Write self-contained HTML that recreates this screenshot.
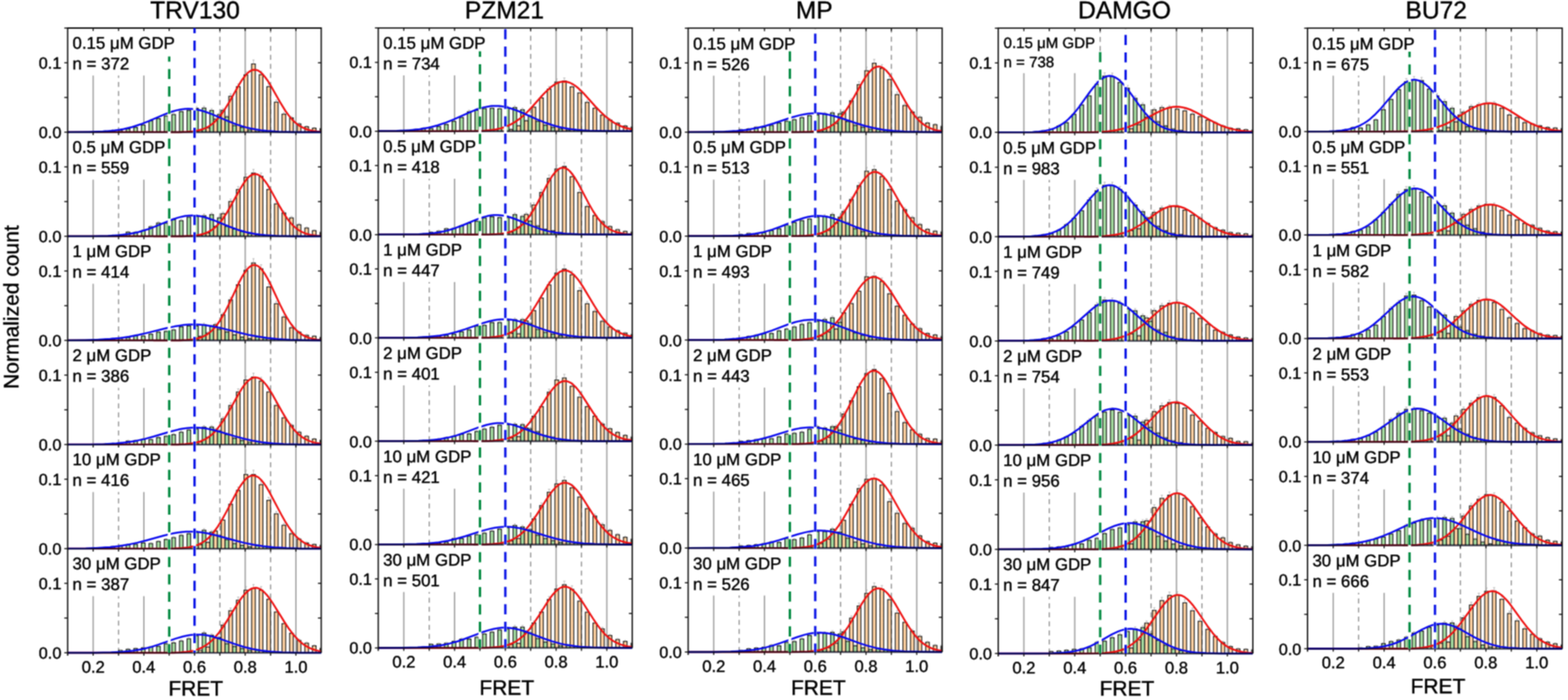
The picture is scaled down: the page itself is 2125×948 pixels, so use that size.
<!DOCTYPE html>
<html><head><meta charset="utf-8"><title>FRET histograms</title>
<style>html,body{margin:0;padding:0;background:#fff;overflow:hidden}svg{display:block}text{text-rendering:geometricPrecision;stroke:#000;stroke-width:0.5px}</style>
</head><body>
<svg width="2125" height="948" viewBox="0 0 2125 948">
<defs><filter id="soft" x="-1%" y="-2%" width="102%" height="104%" color-interpolation-filters="sRGB"><feConvolveMatrix order="3" kernelMatrix="1 2 1 2 4 2 1 2 1" divisor="16" edgeMode="duplicate" preserveAlpha="true"/></filter></defs>
<g filter="url(#soft)">
<rect x="-30" y="-30" width="2185" height="1008" fill="#fff"/>
<g><line x1="126.3" y1="38" x2="126.3" y2="179.02" stroke="#a0a0a0" stroke-width="1.8"/><line x1="160.64" y1="179.02" x2="160.64" y2="38" stroke="#8c8c8c" stroke-width="1.5" stroke-dasharray="6.75,5.5"/><line x1="194.98" y1="38" x2="194.98" y2="179.02" stroke="#a0a0a0" stroke-width="1.8"/><line x1="229.32" y1="179.02" x2="229.32" y2="38" stroke="#8c8c8c" stroke-width="1.5" stroke-dasharray="6.75,5.5"/><line x1="263.66" y1="38" x2="263.66" y2="179.02" stroke="#a0a0a0" stroke-width="1.8"/><line x1="298" y1="179.02" x2="298" y2="38" stroke="#8c8c8c" stroke-width="1.5" stroke-dasharray="6.75,5.5"/><line x1="332.34" y1="38" x2="332.34" y2="179.02" stroke="#a0a0a0" stroke-width="1.8"/><line x1="366.68" y1="179.02" x2="366.68" y2="38" stroke="#8c8c8c" stroke-width="1.5" stroke-dasharray="6.75,5.5"/><line x1="401.02" y1="38" x2="401.02" y2="179.02" stroke="#a0a0a0" stroke-width="1.8"/><rect x="92.96" y="39" width="146.58" height="63.3" fill="#fff"/><path d="M140.1 179V177.7H145.1V179zM150.4 179V176.6H155.4V179zM160.7 179V176.5H165.7V179zM171 179V174.6H176V179zM181.3 179V172.6H186.3V179zM191.6 179V169.4H196.6V179zM201.9 179V163.6H206.9V179zM212.2 179V160.6H217.2V179zM222.6 179V157.1H227.5V179zM232.9 179V155.2H237.8V179zM243.2 179V151H248.1V179zM253.5 179V149.7H258.4V179zM263.8 179V146.7H268.7V179zM274.1 179V146.4H279V179zM284.4 179V149.5H289.3V179zM294.7 179V155.2H299.6V179zM305 179V158.4H309.9V179zM315.3 179V170.1H320.2V179zM325.6 179V172.6H330.5V179zM335.9 179V175.9H340.8V179zM346.2 179V178.1H351.1V179zM356.5 179V177.3H361.4V179zM366.8 179V178.1H371.7V179z" fill="#a5dca0"/><path d="M258.6 179V178.2H263.6V179zM268.9 179V176.7H273.9V179zM279.2 179V173.2H284.2V179zM289.5 179V161.4H294.5V179zM299.8 179V149.3H304.8V179zM310.1 179V130.3H315.1V179zM320.4 179V117.4H325.4V179zM330.7 179V101.4H335.7V179zM341 179V86.5H346V179zM351.3 179V101H356.3V179zM361.6 179V117.4H366.6V179zM371.9 179V138.3H376.9V179zM382.2 179V154.5H387.2V179zM392.5 179V159.7H397.5V179zM402.8 179V167.9H407.8V179zM413.1 179V171.7H418.1V179zM423.4 179V173.6H428.4V179zM433.7 179V174.6H435.3V179z" fill="#fdd0a0"/><path d="M140.1 179V177.7H145.1V179M150.4 179V176.6H155.4V179M160.7 179V176.5H165.7V179M171 179V174.6H176V179M181.3 179V172.6H186.3V179M191.6 179V169.4H196.6V179M201.9 179V163.6H206.9V179M212.2 179V160.6H217.2V179M222.6 179V157.1H227.5V179M232.9 179V155.2H237.8V179M243.2 179V151H248.1V179M253.5 179V149.7H258.4V179M258.6 179V178.2H263.6V179M263.8 179V146.7H268.7V179M268.9 179V176.7H273.9V179M274.1 179V146.4H279V179M279.2 179V173.2H284.2V179M284.4 179V149.5H289.3V179M289.5 179V161.4H294.5V179M294.7 179V155.2H299.6V179M299.8 179V149.3H304.8V179M305 179V158.4H309.9V179M310.1 179V130.3H315.1V179M315.3 179V170.1H320.2V179M320.4 179V117.4H325.4V179M325.6 179V172.6H330.5V179M330.7 179V101.4H335.7V179M335.9 179V175.9H340.8V179M341 179V86.5H346V179M346.2 179V178.1H351.1V179M351.3 179V101H356.3V179M356.5 179V177.3H361.4V179M361.6 179V117.4H366.6V179M366.8 179V178.1H371.7V179M371.9 179V138.3H376.9V179M382.2 179V154.5H387.2V179M392.5 179V159.7H397.5V179M402.8 179V167.9H407.8V179M413.1 179V171.7H418.1V179M423.4 179V173.6H428.4V179M433.7 179V174.6H435.3V179" fill="none" stroke="#1a1a1a" stroke-width="1.25"/><path d="M142.6 177.7v-0.9m-1.5 0h3M152.9 176.6v-1m-1.5 0h3M163.2 176.5v-1m-1.5 0h3M173.5 174.6v-1.1m-1.5 0h3M183.8 172.6v-1.2m-1.5 0h3M194.1 169.4v-1.3m-1.5 0h3M204.4 163.6v-1.6m-1.5 0h3M214.7 160.6v-1.7m-1.5 0h3M225 157.1v-1.9m-1.5 0h3M235.3 155.2v-2m-1.5 0h3M245.6 151v-2.2m-1.5 0h3M255.9 149.7v-2.3m-1.5 0h3M261.1 178.2v-0.9m-1.5 0h3M266.2 146.7v-2.4m-1.5 0h3M271.4 176.7v-1m-1.5 0h3M276.5 146.4v-2.4m-1.5 0h3M281.7 173.2v-1.1m-1.5 0h3M286.8 149.5v-2.3m-1.5 0h3M292 161.4v-1.7m-1.5 0h3M297.1 155.2v-2m-1.5 0h3M302.3 149.3v-2.3m-1.5 0h3M307.4 158.4v-1.8m-1.5 0h3M312.6 130.3v-3.2m-1.5 0h3M317.7 170.1v-1.3m-1.5 0h3M322.9 117.4v-3.8m-1.5 0h3M328 172.6v-1.2m-1.5 0h3M333.2 101.4v-4.6m-1.5 0h3M338.3 175.9v-1m-1.5 0h3M343.5 86.5v-5.3m-1.5 0h3M348.7 178.1v-0.9m-1.5 0h3M353.8 101v-4.6m-1.5 0h3M359 177.3v-0.9m-1.5 0h3M364.1 117.4v-3.8m-1.5 0h3M369.3 178.1v-0.9m-1.5 0h3M374.4 138.3v-2.8m-1.5 0h3M384.7 154.5v-2m-1.5 0h3M395 159.7v-1.8m-1.5 0h3M405.3 167.9v-1.4m-1.5 0h3M415.6 171.7v-1.2m-1.5 0h3M425.9 173.6v-1.1m-1.5 0h3M434.5 174.6v-1.1m-1.5 0h3" stroke="#aaa" stroke-width="0.8" fill="none"/><polyline points="92,179 220.7,179 243.6,178.9 253.6,178.5 260.8,177.9 268,176.8 273.7,175.3 279.4,173.1 282.3,171.5 285.1,169.7 288,167.6 290.8,165.1 295.1,160.8 299.4,155.5 305.2,147.2 310.9,137.8 323.8,115 328,108.2 330.9,104.2 335.2,99.3 338.1,96.9 340.9,95.3 342.4,94.8 345.2,94.4 348.1,94.9 349.5,95.4 352.4,97.2 355.2,99.6 359.5,104.7 362.4,108.7 366.7,115.6 379.6,138.4 386.7,150 391,156 393.9,159.5 396.7,162.7 399.6,165.5 402.5,167.9 406.7,170.9 411,173.2 415.3,175 419.6,176.3 423.9,177.2 429.6,178 435.4,178.5" fill="none" stroke="#ee1010" stroke-width="2.5" stroke-linejoin="round"/><polyline points="92,179 120.6,178.7 139.2,178.1 147.8,177.4 154.9,176.7 162.1,175.7 167.8,174.7 179.2,172 190.7,168.3 200.7,164.4 223.6,154.6 233.6,151 239.3,149.4 245.1,148.2 250.8,147.5 255.1,147.3 259.4,147.5 265.1,148.1 270.8,149.2 276.5,150.8 286.6,154.4 309.4,164.1 320.9,168.6 328,170.9 333.8,172.6 339.5,173.9 346.6,175.3 353.8,176.4 361,177.2 378.1,178.4 399.6,178.9 435.4,179" fill="none" stroke="#0808ee" stroke-width="2.5" stroke-linejoin="round"/><text x="83.16" y="187.02" text-anchor="end" font-size="22" font-family='"Liberation Sans", Arial, Helvetica, sans-serif'>0.0</text><text x="83.16" y="93.01" text-anchor="end" font-size="22" font-family='"Liberation Sans", Arial, Helvetica, sans-serif'>0.1</text><text x="98.36" y="66.3" font-size="22.8" font-family='"Liberation Sans", Arial, Helvetica, sans-serif'>0.15 μM GDP</text><text x="98.36" y="94.3" font-size="22.8" font-family='"Liberation Sans", Arial, Helvetica, sans-serif'>n = 372</text><line x1="126.3" y1="179.02" x2="126.3" y2="320.04" stroke="#a0a0a0" stroke-width="1.8"/><line x1="160.64" y1="320.04" x2="160.64" y2="179.02" stroke="#8c8c8c" stroke-width="1.5" stroke-dasharray="6.75,5.5"/><line x1="194.98" y1="179.02" x2="194.98" y2="320.04" stroke="#a0a0a0" stroke-width="1.8"/><line x1="229.32" y1="320.04" x2="229.32" y2="179.02" stroke="#8c8c8c" stroke-width="1.5" stroke-dasharray="6.75,5.5"/><line x1="263.66" y1="179.02" x2="263.66" y2="320.04" stroke="#a0a0a0" stroke-width="1.8"/><line x1="298" y1="320.04" x2="298" y2="179.02" stroke="#8c8c8c" stroke-width="1.5" stroke-dasharray="6.75,5.5"/><line x1="332.34" y1="179.02" x2="332.34" y2="320.04" stroke="#a0a0a0" stroke-width="1.8"/><line x1="366.68" y1="320.04" x2="366.68" y2="179.02" stroke="#8c8c8c" stroke-width="1.5" stroke-dasharray="6.75,5.5"/><line x1="401.02" y1="179.02" x2="401.02" y2="320.04" stroke="#a0a0a0" stroke-width="1.8"/><rect x="92.96" y="180.02" width="133.9" height="63.3" fill="#fff"/><path d="M150.4 320V319H155.4V320zM160.7 320V318.2H165.7V320zM171 320V314.3H176V320zM181.3 320V314.5H186.3V320zM191.6 320V312.3H196.6V320zM201.9 320V307.2H206.9V320zM212.2 320V302H217.2V320zM222.6 320V302H227.5V320zM232.9 320V297.7H237.8V320zM243.2 320V298.8H248.1V320zM253.5 320V294.2H258.4V320zM263.8 320V292.9H268.7V320zM274.1 320V292H279V320zM284.4 320V290.7H289.3V320zM294.7 320V295.1H299.6V320zM305 320V306.5H309.9V320zM315.3 320V310.4H320.2V320zM325.6 320V313.6H330.5V320zM335.9 320V316.2H340.8V320zM346.2 320V318.2H351.1V320zM356.5 320V318.7H361.4V320z" fill="#a5dca0"/><path d="M268.9 320V318.4H273.9V320zM279.2 320V315.6H284.2V320zM289.5 320V306.5H294.5V320zM299.8 320V289.4H304.8V320zM310.1 320V272.9H315.1V320zM320.4 320V256.7H325.4V320zM330.7 320V240.2H335.7V320zM341 320V234.4H346V320zM351.3 320V238.9H356.3V320zM361.6 320V256.7H366.6V320zM371.9 320V276.1H376.9V320zM382.2 320V288.4H387.2V320zM392.5 320V295.1H397.5V320zM402.8 320V304.3H407.8V320zM413.1 320V308.9H418.1V320zM423.4 320V312.3H428.4V320zM433.7 320V314.9H435.3V320z" fill="#fdd0a0"/><path d="M150.4 320V319H155.4V320M160.7 320V318.2H165.7V320M171 320V314.3H176V320M181.3 320V314.5H186.3V320M191.6 320V312.3H196.6V320M201.9 320V307.2H206.9V320M212.2 320V302H217.2V320M222.6 320V302H227.5V320M232.9 320V297.7H237.8V320M243.2 320V298.8H248.1V320M253.5 320V294.2H258.4V320M263.8 320V292.9H268.7V320M268.9 320V318.4H273.9V320M274.1 320V292H279V320M279.2 320V315.6H284.2V320M284.4 320V290.7H289.3V320M289.5 320V306.5H294.5V320M294.7 320V295.1H299.6V320M299.8 320V289.4H304.8V320M305 320V306.5H309.9V320M310.1 320V272.9H315.1V320M315.3 320V310.4H320.2V320M320.4 320V256.7H325.4V320M325.6 320V313.6H330.5V320M330.7 320V240.2H335.7V320M335.9 320V316.2H340.8V320M341 320V234.4H346V320M346.2 320V318.2H351.1V320M351.3 320V238.9H356.3V320M356.5 320V318.7H361.4V320M361.6 320V256.7H366.6V320M371.9 320V276.1H376.9V320M382.2 320V288.4H387.2V320M392.5 320V295.1H397.5V320M402.8 320V304.3H407.8V320M413.1 320V308.9H418.1V320M423.4 320V312.3H428.4V320M433.7 320V314.9H435.3V320" fill="none" stroke="#1a1a1a" stroke-width="1.25"/><path d="M152.9 319v-0.9m-1.5 0h3M163.2 318.2v-0.9m-1.5 0h3M173.5 314.3v-1.1m-1.5 0h3M183.8 314.5v-1.1m-1.5 0h3M194.1 312.3v-1.2m-1.5 0h3M204.4 307.2v-1.5m-1.5 0h3M214.7 302v-1.7m-1.5 0h3M225 302v-1.7m-1.5 0h3M235.3 297.7v-1.9m-1.5 0h3M245.6 298.8v-1.9m-1.5 0h3M255.9 294.2v-2.1m-1.5 0h3M266.2 292.9v-2.1m-1.5 0h3M271.4 318.4v-0.9m-1.5 0h3M276.5 292v-2.2m-1.5 0h3M281.7 315.6v-1.1m-1.5 0h3M286.8 290.7v-2.3m-1.5 0h3M292 306.5v-1.5m-1.5 0h3M297.1 295.1v-2m-1.5 0h3M302.3 289.4v-2.3m-1.5 0h3M307.4 306.5v-1.5m-1.5 0h3M312.6 272.9v-3.1m-1.5 0h3M317.7 310.4v-1.3m-1.5 0h3M322.9 256.7v-3.9m-1.5 0h3M328 313.6v-1.2m-1.5 0h3M333.2 240.2v-4.7m-1.5 0h3M338.3 316.2v-1m-1.5 0h3M343.5 234.4v-5m-1.5 0h3M348.7 318.2v-0.9m-1.5 0h3M353.8 238.9v-4.7m-1.5 0h3M359 318.7v-0.9m-1.5 0h3M364.1 256.7v-3.9m-1.5 0h3M374.4 276.1v-3m-1.5 0h3M384.7 288.4v-2.4m-1.5 0h3M395 295.1v-2m-1.5 0h3M405.3 304.3v-1.6m-1.5 0h3M415.6 308.9v-1.4m-1.5 0h3M425.9 312.3v-1.2m-1.5 0h3M434.5 314.9v-1.1m-1.5 0h3" stroke="#aaa" stroke-width="0.8" fill="none"/><polyline points="92,320 225,320 247.9,319.9 257.9,319.5 265.1,318.9 270.8,318 276.5,316.5 282.3,314.2 285.1,312.6 288,310.8 290.8,308.6 293.7,306 298,301.4 302.3,295.9 308,287.2 313.7,277.2 325.2,256.3 330.9,247.1 335.2,241.7 338.1,238.9 340.9,237 342.4,236.3 345.2,235.7 348.1,236 349.5,236.5 352.4,238.1 355.2,240.6 359.5,245.7 362.4,249.9 366.7,257 379.6,280.5 385.3,290.1 389.6,296.4 392.4,300.2 395.3,303.5 398.2,306.4 401,308.9 405.3,312 409.6,314.4 413.9,316.2 418.2,317.4 423.9,318.6 429.6,319.2 435.4,319.6" fill="none" stroke="#ee1010" stroke-width="2.5" stroke-linejoin="round"/><polyline points="92,320 126.3,319.9 146.3,319.5 162.1,318.5 174.9,316.8 182.1,315.5 187.8,314.2 199.3,310.8 209.3,307.1 230.8,298.3 240.8,294.9 246.5,293.4 250.8,292.6 256.5,292 260.8,291.8 265.1,292 269.4,292.5 273.7,293.3 279.4,294.8 289.4,298.2 310.9,307 322.3,311.2 333.8,314.5 345.2,316.8 352.4,317.8 359.5,318.6 375.3,319.5 396.7,319.9 435.4,320" fill="none" stroke="#0808ee" stroke-width="2.5" stroke-linejoin="round"/><text x="83.16" y="328.04" text-anchor="end" font-size="22" font-family='"Liberation Sans", Arial, Helvetica, sans-serif'>0.0</text><text x="83.16" y="234.03" text-anchor="end" font-size="22" font-family='"Liberation Sans", Arial, Helvetica, sans-serif'>0.1</text><text x="98.36" y="207.32" font-size="22.8" font-family='"Liberation Sans", Arial, Helvetica, sans-serif'>0.5 μM GDP</text><text x="98.36" y="235.32" font-size="22.8" font-family='"Liberation Sans", Arial, Helvetica, sans-serif'>n = 559</text><line x1="126.3" y1="320.04" x2="126.3" y2="461.06" stroke="#a0a0a0" stroke-width="1.8"/><line x1="160.64" y1="461.06" x2="160.64" y2="320.04" stroke="#8c8c8c" stroke-width="1.5" stroke-dasharray="6.75,5.5"/><line x1="194.98" y1="320.04" x2="194.98" y2="461.06" stroke="#a0a0a0" stroke-width="1.8"/><line x1="229.32" y1="461.06" x2="229.32" y2="320.04" stroke="#8c8c8c" stroke-width="1.5" stroke-dasharray="6.75,5.5"/><line x1="263.66" y1="320.04" x2="263.66" y2="461.06" stroke="#a0a0a0" stroke-width="1.8"/><line x1="298" y1="461.06" x2="298" y2="320.04" stroke="#8c8c8c" stroke-width="1.5" stroke-dasharray="6.75,5.5"/><line x1="332.34" y1="320.04" x2="332.34" y2="461.06" stroke="#a0a0a0" stroke-width="1.8"/><line x1="366.68" y1="461.06" x2="366.68" y2="320.04" stroke="#8c8c8c" stroke-width="1.5" stroke-dasharray="6.75,5.5"/><line x1="401.02" y1="320.04" x2="401.02" y2="461.06" stroke="#a0a0a0" stroke-width="1.8"/><rect x="92.96" y="321.04" width="114.89" height="63.3" fill="#fff"/><path d="M129.8 461.1V460.1H134.8V461.1zM140.1 461.1V459.5H145.1V461.1zM150.4 461.1V458.6H155.4V461.1zM160.7 461.1V457.9H165.7V461.1zM171 461.1V457.2H176V461.1zM181.3 461.1V454.6H186.3V461.1zM191.6 461.1V455H196.6V461.1zM201.9 461.1V452.7H206.9V461.1zM212.2 461.1V449.8H217.2V461.1zM222.6 461.1V448.8H227.5V461.1zM232.9 461.1V446.9H237.8V461.1zM243.2 461.1V442.6H248.1V461.1zM253.5 461.1V441.3H258.4V461.1zM263.8 461.1V441.3H268.7V461.1zM274.1 461.1V439.7H279V461.1zM284.4 461.1V442.1H289.3V461.1zM294.7 461.1V446.2H299.6V461.1zM305 461.1V449.5H309.9V461.1zM315.3 461.1V453.7H320.2V461.1zM325.6 461.1V456.6H330.5V461.1zM335.9 461.1V458.5H340.8V461.1zM346.2 461.1V456.1H351.1V461.1zM356.5 461.1V457.6H361.4V461.1zM366.8 461.1V458.8H371.7V461.1zM377.1 461.1V459.6H382V461.1zM387.4 461.1V460.2H392.3V461.1z" fill="#a5dca0"/><path d="M258.6 461.1V460H263.6V461.1zM268.9 461.1V455.5H273.9V461.1zM279.2 461.1V451.1H284.2V461.1zM289.5 461.1V439.5H294.5V461.1zM299.8 461.1V426.1H304.8V461.1zM310.1 461.1V406.1H315.1V461.1zM320.4 461.1V385.6H325.4V461.1zM330.7 461.1V366.2H335.7V461.1zM341 461.1V356.2H346V461.1zM351.3 461.1V364H356.3V461.1zM361.6 461.1V388.6H366.6V461.1zM371.9 461.1V411.3H376.9V461.1zM382.2 461.1V429.4H387.2V461.1zM392.5 461.1V443.9H397.5V461.1zM402.8 461.1V449.8H407.8V461.1zM413.1 461.1V454H418.1V461.1zM423.4 461.1V455.3H428.4V461.1zM433.7 461.1V457.2H435.3V461.1z" fill="#fdd0a0"/><path d="M129.8 461.1V460.1H134.8V461.1M140.1 461.1V459.5H145.1V461.1M150.4 461.1V458.6H155.4V461.1M160.7 461.1V457.9H165.7V461.1M171 461.1V457.2H176V461.1M181.3 461.1V454.6H186.3V461.1M191.6 461.1V455H196.6V461.1M201.9 461.1V452.7H206.9V461.1M212.2 461.1V449.8H217.2V461.1M222.6 461.1V448.8H227.5V461.1M232.9 461.1V446.9H237.8V461.1M243.2 461.1V442.6H248.1V461.1M253.5 461.1V441.3H258.4V461.1M258.6 461.1V460H263.6V461.1M263.8 461.1V441.3H268.7V461.1M268.9 461.1V455.5H273.9V461.1M274.1 461.1V439.7H279V461.1M279.2 461.1V451.1H284.2V461.1M284.4 461.1V442.1H289.3V461.1M289.5 461.1V439.5H294.5V461.1M294.7 461.1V446.2H299.6V461.1M299.8 461.1V426.1H304.8V461.1M305 461.1V449.5H309.9V461.1M310.1 461.1V406.1H315.1V461.1M315.3 461.1V453.7H320.2V461.1M320.4 461.1V385.6H325.4V461.1M325.6 461.1V456.6H330.5V461.1M330.7 461.1V366.2H335.7V461.1M335.9 461.1V458.5H340.8V461.1M341 461.1V356.2H346V461.1M346.2 461.1V456.1H351.1V461.1M351.3 461.1V364H356.3V461.1M356.5 461.1V457.6H361.4V461.1M361.6 461.1V388.6H366.6V461.1M366.8 461.1V458.8H371.7V461.1M371.9 461.1V411.3H376.9V461.1M377.1 461.1V459.6H382V461.1M382.2 461.1V429.4H387.2V461.1M387.4 461.1V460.2H392.3V461.1M392.5 461.1V443.9H397.5V461.1M402.8 461.1V449.8H407.8V461.1M413.1 461.1V454H418.1V461.1M423.4 461.1V455.3H428.4V461.1M433.7 461.1V457.2H435.3V461.1" fill="none" stroke="#1a1a1a" stroke-width="1.25"/><path d="M132.3 460.1v-0.9m-1.5 0h3M142.6 459.5v-0.9m-1.5 0h3M152.9 458.6v-1m-1.5 0h3M163.2 457.9v-1m-1.5 0h3M173.5 457.2v-1m-1.5 0h3M183.8 454.6v-1.2m-1.5 0h3M194.1 455v-1.1m-1.5 0h3M204.4 452.7v-1.2m-1.5 0h3M214.7 449.8v-1.4m-1.5 0h3M225 448.8v-1.4m-1.5 0h3M235.3 446.9v-1.5m-1.5 0h3M245.6 442.6v-1.7m-1.5 0h3M255.9 441.3v-1.8m-1.5 0h3M261.1 460v-0.9m-1.5 0h3M266.2 441.3v-1.8m-1.5 0h3M271.4 455.5v-1.1m-1.5 0h3M276.5 439.7v-1.9m-1.5 0h3M281.7 451.1v-1.3m-1.5 0h3M286.8 442.1v-1.8m-1.5 0h3M292 439.5v-1.9m-1.5 0h3M297.1 446.2v-1.6m-1.5 0h3M302.3 426.1v-2.5m-1.5 0h3M307.4 449.5v-1.4m-1.5 0h3M312.6 406.1v-3.5m-1.5 0h3M317.7 453.7v-1.2m-1.5 0h3M322.9 385.6v-4.5m-1.5 0h3M328 456.6v-1.1m-1.5 0h3M333.2 366.2v-5.4m-1.5 0h3M338.3 458.5v-1m-1.5 0h3M343.5 356.2v-5.9m-1.5 0h3M348.7 456.1v-1.1m-1.5 0h3M353.8 364v-5.5m-1.5 0h3M359 457.6v-1m-1.5 0h3M364.1 388.6v-4.3m-1.5 0h3M369.3 458.8v-1m-1.5 0h3M374.4 411.3v-3.2m-1.5 0h3M379.6 459.6v-0.9m-1.5 0h3M384.7 429.4v-2.4m-1.5 0h3M389.9 460.2v-0.9m-1.5 0h3M395 443.9v-1.7m-1.5 0h3M405.3 449.8v-1.4m-1.5 0h3M415.6 454v-1.2m-1.5 0h3M425.9 455.3v-1.1m-1.5 0h3M434.5 457.2v-1m-1.5 0h3" stroke="#aaa" stroke-width="0.8" fill="none"/><polyline points="92,461.1 220.7,461.1 243.6,460.9 253.6,460.4 260.8,459.7 268,458.3 273.7,456.5 276.5,455.2 279.4,453.7 282.3,451.8 285.1,449.6 288,446.9 290.8,443.9 295.1,438.5 299.4,432.1 305.2,422 310.9,410.5 323.8,383.1 328,374.9 330.9,370.2 335.2,364.4 338.1,361.6 340.9,359.8 342.4,359.2 343.8,358.9 345.2,358.9 346.6,359.1 348.1,359.6 349.5,360.3 352.4,362.5 355.2,365.6 359.5,371.8 362.4,376.8 366.7,385.1 379.6,412.7 385.3,424 389.6,431.5 392.4,435.9 395.3,439.9 398.2,443.5 401,446.6 405.3,450.4 409.6,453.4 413.9,455.7 418.2,457.4 423.9,458.9 429.6,459.9 435.4,460.4" fill="none" stroke="#ee1010" stroke-width="2.5" stroke-linejoin="round"/><polyline points="92,461 114.9,460.7 133.5,460.1 149.2,459.1 163.5,457.7 174.9,456 187.8,453.5 199.3,450.9 225,444.5 236.5,442.1 243.6,440.9 249.4,440.1 256.5,439.6 262.2,439.4 268,439.6 275.1,440.1 280.8,440.7 288,441.9 300.9,444.6 325.2,450.7 336.6,453.4 349.5,455.8 362.4,457.7 376.7,459.2 392.4,460.2 411,460.7 435.4,461" fill="none" stroke="#0808ee" stroke-width="2.5" stroke-linejoin="round"/><text x="83.16" y="469.06" text-anchor="end" font-size="22" font-family='"Liberation Sans", Arial, Helvetica, sans-serif'>0.0</text><text x="83.16" y="375.05" text-anchor="end" font-size="22" font-family='"Liberation Sans", Arial, Helvetica, sans-serif'>0.1</text><text x="98.36" y="348.34" font-size="22.8" font-family='"Liberation Sans", Arial, Helvetica, sans-serif'>1 μM GDP</text><text x="98.36" y="376.34" font-size="22.8" font-family='"Liberation Sans", Arial, Helvetica, sans-serif'>n = 414</text><line x1="126.3" y1="461.06" x2="126.3" y2="602.08" stroke="#a0a0a0" stroke-width="1.8"/><line x1="160.64" y1="602.08" x2="160.64" y2="461.06" stroke="#8c8c8c" stroke-width="1.5" stroke-dasharray="6.75,5.5"/><line x1="194.98" y1="461.06" x2="194.98" y2="602.08" stroke="#a0a0a0" stroke-width="1.8"/><line x1="229.32" y1="602.08" x2="229.32" y2="461.06" stroke="#8c8c8c" stroke-width="1.5" stroke-dasharray="6.75,5.5"/><line x1="263.66" y1="461.06" x2="263.66" y2="602.08" stroke="#a0a0a0" stroke-width="1.8"/><line x1="298" y1="602.08" x2="298" y2="461.06" stroke="#8c8c8c" stroke-width="1.5" stroke-dasharray="6.75,5.5"/><line x1="332.34" y1="461.06" x2="332.34" y2="602.08" stroke="#a0a0a0" stroke-width="1.8"/><line x1="366.68" y1="602.08" x2="366.68" y2="461.06" stroke="#8c8c8c" stroke-width="1.5" stroke-dasharray="6.75,5.5"/><line x1="401.02" y1="461.06" x2="401.02" y2="602.08" stroke="#a0a0a0" stroke-width="1.8"/><rect x="92.96" y="462.06" width="114.89" height="63.3" fill="#fff"/><path d="M140.1 602.1V601.3H145.1V602.1zM150.4 602.1V600.7H155.4V602.1zM160.7 602.1V599.9H165.7V602.1zM171 602.1V597.3H176V602.1zM181.3 602.1V596.6H186.3V602.1zM191.6 602.1V595H196.6V602.1zM201.9 602.1V595.3H206.9V602.1zM212.2 602.1V592.7H217.2V602.1zM222.6 602.1V590.9H227.5V602.1zM232.9 602.1V588.5H237.8V602.1zM243.2 602.1V585.3H248.1V602.1zM253.5 602.1V582.3H258.4V602.1zM263.8 602.1V580.8H268.7V602.1zM274.1 602.1V578.4H279V602.1zM284.4 602.1V578.4H289.3V602.1zM294.7 602.1V583.3H299.6V602.1zM305 602.1V588.5H309.9V602.1zM315.3 602.1V593.7H320.2V602.1zM325.6 602.1V596.6H330.5V602.1zM335.9 602.1V598.9H340.8V602.1zM346.2 602.1V598.4H351.1V602.1zM356.5 602.1V599.7H361.4V602.1zM366.8 602.1V600.7H371.7V602.1zM377.1 602.1V601.3H382V602.1z" fill="#a5dca0"/><path d="M258.6 602.1V600.7H263.6V602.1zM268.9 602.1V598.6H273.9V602.1zM279.2 602.1V592.4H284.2V602.1zM289.5 602.1V582H294.5V602.1zM299.8 602.1V567.2H304.8V602.1zM310.1 602.1V549H315.1V602.1zM320.4 602.1V530.9H325.4V602.1zM330.7 602.1V514.5H335.7V602.1zM341 602.1V510.6H346V602.1zM351.3 602.1V516H356.3V602.1zM361.6 602.1V530.9H366.6V602.1zM371.9 602.1V549H376.9V602.1zM382.2 602.1V565.9H387.2V602.1zM392.5 602.1V576.2H397.5V602.1zM402.8 602.1V585.3H407.8V602.1zM413.1 602.1V590.9H418.1V602.1zM423.4 602.1V594.7H428.4V602.1zM433.7 602.1V596.6H435.3V602.1z" fill="#fdd0a0"/><path d="M140.1 602.1V601.3H145.1V602.1M150.4 602.1V600.7H155.4V602.1M160.7 602.1V599.9H165.7V602.1M171 602.1V597.3H176V602.1M181.3 602.1V596.6H186.3V602.1M191.6 602.1V595H196.6V602.1M201.9 602.1V595.3H206.9V602.1M212.2 602.1V592.7H217.2V602.1M222.6 602.1V590.9H227.5V602.1M232.9 602.1V588.5H237.8V602.1M243.2 602.1V585.3H248.1V602.1M253.5 602.1V582.3H258.4V602.1M258.6 602.1V600.7H263.6V602.1M263.8 602.1V580.8H268.7V602.1M268.9 602.1V598.6H273.9V602.1M274.1 602.1V578.4H279V602.1M279.2 602.1V592.4H284.2V602.1M284.4 602.1V578.4H289.3V602.1M289.5 602.1V582H294.5V602.1M294.7 602.1V583.3H299.6V602.1M299.8 602.1V567.2H304.8V602.1M305 602.1V588.5H309.9V602.1M310.1 602.1V549H315.1V602.1M315.3 602.1V593.7H320.2V602.1M320.4 602.1V530.9H325.4V602.1M325.6 602.1V596.6H330.5V602.1M330.7 602.1V514.5H335.7V602.1M335.9 602.1V598.9H340.8V602.1M341 602.1V510.6H346V602.1M346.2 602.1V598.4H351.1V602.1M351.3 602.1V516H356.3V602.1M356.5 602.1V599.7H361.4V602.1M361.6 602.1V530.9H366.6V602.1M366.8 602.1V600.7H371.7V602.1M371.9 602.1V549H376.9V602.1M377.1 602.1V601.3H382V602.1M382.2 602.1V565.9H387.2V602.1M392.5 602.1V576.2H397.5V602.1M402.8 602.1V585.3H407.8V602.1M413.1 602.1V590.9H418.1V602.1M423.4 602.1V594.7H428.4V602.1M433.7 602.1V596.6H435.3V602.1" fill="none" stroke="#1a1a1a" stroke-width="1.25"/><path d="M142.6 601.3v-0.9m-1.5 0h3M152.9 600.7v-0.9m-1.5 0h3M163.2 599.9v-0.9m-1.5 0h3M173.5 597.3v-1.1m-1.5 0h3M183.8 596.6v-1.1m-1.5 0h3M194.1 595v-1.2m-1.5 0h3M204.4 595.3v-1.2m-1.5 0h3M214.7 592.7v-1.3m-1.5 0h3M225 590.9v-1.4m-1.5 0h3M235.3 588.5v-1.5m-1.5 0h3M245.6 585.3v-1.7m-1.5 0h3M255.9 582.3v-1.8m-1.5 0h3M261.1 600.7v-0.9m-1.5 0h3M266.2 580.8v-1.9m-1.5 0h3M271.4 598.6v-1m-1.5 0h3M276.5 578.4v-2m-1.5 0h3M281.7 592.4v-1.3m-1.5 0h3M286.8 578.4v-2m-1.5 0h3M292 582v-1.8m-1.5 0h3M297.1 583.3v-1.7m-1.5 0h3M302.3 567.2v-2.5m-1.5 0h3M307.4 588.5v-1.5m-1.5 0h3M312.6 549v-3.4m-1.5 0h3M317.7 593.7v-1.2m-1.5 0h3M322.9 530.9v-4.3m-1.5 0h3M328 596.6v-1.1m-1.5 0h3M333.2 514.5v-5.1m-1.5 0h3M338.3 598.9v-1m-1.5 0h3M343.5 510.6v-5.2m-1.5 0h3M348.7 598.4v-1m-1.5 0h3M353.8 516v-5m-1.5 0h3M359 599.7v-1m-1.5 0h3M364.1 530.9v-4.3m-1.5 0h3M369.3 600.7v-0.9m-1.5 0h3M374.4 549v-3.4m-1.5 0h3M379.6 601.3v-0.9m-1.5 0h3M384.7 565.9v-2.6m-1.5 0h3M395 576.2v-2.1m-1.5 0h3M405.3 585.3v-1.7m-1.5 0h3M415.6 590.9v-1.4m-1.5 0h3M425.9 594.7v-1.2m-1.5 0h3M434.5 596.6v-1.1m-1.5 0h3" stroke="#aaa" stroke-width="0.8" fill="none"/><polyline points="92,602.1 216.4,602.1 240.8,601.9 250.8,601.4 259.4,600.6 266.5,599.2 272.2,597.5 278,594.9 280.8,593.2 283.7,591.3 286.6,589 289.4,586.4 293.7,581.8 299.4,574.4 305.2,565.7 310.9,555.9 323.8,532.8 328,525.9 330.9,521.8 335.2,516.8 338.1,514.2 339.5,513.2 342.4,511.8 343.8,511.3 346.6,511.1 349.5,511.7 350.9,512.2 353.8,514 356.7,516.5 361,521.5 363.8,525.5 368.1,532.3 382.4,557.9 389.6,569.8 393.9,576 396.7,579.7 399.6,583.1 402.5,586.1 405.3,588.8 409.6,592.1 412.5,593.9 416.8,596.2 421.1,597.9 425.3,599.2 429.6,600.1 435.4,600.9" fill="none" stroke="#ee1010" stroke-width="2.5" stroke-linejoin="round"/><polyline points="92,602.1 122,601.9 142,601.4 157.8,600.5 172.1,599.1 185,596.9 196.4,594.4 207.9,591.3 230.8,584.5 242.2,581.6 247.9,580.5 253.6,579.7 259.4,579.3 263.7,579.1 269.4,579.3 275.1,579.8 280.8,580.6 286.6,581.8 298,584.7 319.5,591.1 330.9,594.2 343.8,597.1 355.2,599 369.5,600.5 385.3,601.4 405.3,601.9 435.4,602.1" fill="none" stroke="#0808ee" stroke-width="2.5" stroke-linejoin="round"/><text x="83.16" y="610.08" text-anchor="end" font-size="22" font-family='"Liberation Sans", Arial, Helvetica, sans-serif'>0.0</text><text x="83.16" y="516.07" text-anchor="end" font-size="22" font-family='"Liberation Sans", Arial, Helvetica, sans-serif'>0.1</text><text x="98.36" y="489.36" font-size="22.8" font-family='"Liberation Sans", Arial, Helvetica, sans-serif'>2 μM GDP</text><text x="98.36" y="517.36" font-size="22.8" font-family='"Liberation Sans", Arial, Helvetica, sans-serif'>n = 386</text><line x1="126.3" y1="602.08" x2="126.3" y2="743.1" stroke="#a0a0a0" stroke-width="1.8"/><line x1="160.64" y1="743.1" x2="160.64" y2="602.08" stroke="#8c8c8c" stroke-width="1.5" stroke-dasharray="6.75,5.5"/><line x1="194.98" y1="602.08" x2="194.98" y2="743.1" stroke="#a0a0a0" stroke-width="1.8"/><line x1="229.32" y1="743.1" x2="229.32" y2="602.08" stroke="#8c8c8c" stroke-width="1.5" stroke-dasharray="6.75,5.5"/><line x1="263.66" y1="602.08" x2="263.66" y2="743.1" stroke="#a0a0a0" stroke-width="1.8"/><line x1="298" y1="743.1" x2="298" y2="602.08" stroke="#8c8c8c" stroke-width="1.5" stroke-dasharray="6.75,5.5"/><line x1="332.34" y1="602.08" x2="332.34" y2="743.1" stroke="#a0a0a0" stroke-width="1.8"/><line x1="366.68" y1="743.1" x2="366.68" y2="602.08" stroke="#8c8c8c" stroke-width="1.5" stroke-dasharray="6.75,5.5"/><line x1="401.02" y1="602.08" x2="401.02" y2="743.1" stroke="#a0a0a0" stroke-width="1.8"/><rect x="92.96" y="603.08" width="127.57" height="63.3" fill="#fff"/><path d="M129.8 743.1V742H134.8V743.1zM140.1 743.1V741.3H145.1V743.1zM150.4 743.1V740.3H155.4V743.1zM160.7 743.1V739.2H165.7V743.1zM171 743.1V737.9H176V743.1zM181.3 743.1V737H186.3V743.1zM191.6 743.1V735.3H196.6V743.1zM201.9 743.1V736H206.9V743.1zM212.2 743.1V733.4H217.2V743.1zM222.6 743.1V730.6H227.5V743.1zM232.9 743.1V728.2H237.8V743.1zM243.2 743.1V725H248.1V743.1zM253.5 743.1V722.8H258.4V743.1zM263.8 743.1V720.5H268.7V743.1zM274.1 743.1V718.1H279V743.1zM284.4 743.1V720.5H289.3V743.1zM294.7 743.1V725.4H299.6V743.1zM305 743.1V730.8H309.9V743.1zM315.3 743.1V736H320.2V743.1zM325.6 743.1V738.6H330.5V743.1zM335.9 743.1V740.5H340.8V743.1zM346.2 743.1V739.1H351.1V743.1zM356.5 743.1V740.4H361.4V743.1zM366.8 743.1V741.4H371.7V743.1zM377.1 743.1V742.1H382V743.1z" fill="#a5dca0"/><path d="M248.3 743.1V742.2H253.3V743.1zM258.6 743.1V740.7H263.6V743.1zM268.9 743.1V737.5H273.9V743.1zM279.2 743.1V734.7H284.2V743.1zM289.5 743.1V719.2H294.5V743.1zM299.8 743.1V704.3H304.8V743.1zM310.1 743.1V682.9H315.1V743.1zM320.4 743.1V664.1H325.4V743.1zM330.7 743.1V642.5H335.7V743.1zM341 743.1V642.5H346V743.1zM351.3 743.1V656.4H356.3V743.1zM361.6 743.1V677.5H366.6V743.1zM371.9 743.1V695.8H376.9V743.1zM382.2 743.1V711.4H387.2V743.1zM392.5 743.1V722.8H397.5V743.1zM402.8 743.1V730.2H407.8V743.1zM413.1 743.1V735.3H418.1V743.1zM423.4 743.1V737.3H428.4V743.1zM433.7 743.1V738.8H435.3V743.1z" fill="#fdd0a0"/><path d="M129.8 743.1V742H134.8V743.1M140.1 743.1V741.3H145.1V743.1M150.4 743.1V740.3H155.4V743.1M160.7 743.1V739.2H165.7V743.1M171 743.1V737.9H176V743.1M181.3 743.1V737H186.3V743.1M191.6 743.1V735.3H196.6V743.1M201.9 743.1V736H206.9V743.1M212.2 743.1V733.4H217.2V743.1M222.6 743.1V730.6H227.5V743.1M232.9 743.1V728.2H237.8V743.1M243.2 743.1V725H248.1V743.1M248.3 743.1V742.2H253.3V743.1M253.5 743.1V722.8H258.4V743.1M258.6 743.1V740.7H263.6V743.1M263.8 743.1V720.5H268.7V743.1M268.9 743.1V737.5H273.9V743.1M274.1 743.1V718.1H279V743.1M279.2 743.1V734.7H284.2V743.1M284.4 743.1V720.5H289.3V743.1M289.5 743.1V719.2H294.5V743.1M294.7 743.1V725.4H299.6V743.1M299.8 743.1V704.3H304.8V743.1M305 743.1V730.8H309.9V743.1M310.1 743.1V682.9H315.1V743.1M315.3 743.1V736H320.2V743.1M320.4 743.1V664.1H325.4V743.1M325.6 743.1V738.6H330.5V743.1M330.7 743.1V642.5H335.7V743.1M335.9 743.1V740.5H340.8V743.1M341 743.1V642.5H346V743.1M346.2 743.1V739.1H351.1V743.1M351.3 743.1V656.4H356.3V743.1M356.5 743.1V740.4H361.4V743.1M361.6 743.1V677.5H366.6V743.1M366.8 743.1V741.4H371.7V743.1M371.9 743.1V695.8H376.9V743.1M377.1 743.1V742.1H382V743.1M382.2 743.1V711.4H387.2V743.1M392.5 743.1V722.8H397.5V743.1M402.8 743.1V730.2H407.8V743.1M413.1 743.1V735.3H418.1V743.1M423.4 743.1V737.3H428.4V743.1M433.7 743.1V738.8H435.3V743.1" fill="none" stroke="#1a1a1a" stroke-width="1.25"/><path d="M132.3 742v-0.9m-1.5 0h3M142.6 741.3v-0.9m-1.5 0h3M152.9 740.3v-1m-1.5 0h3M163.2 739.2v-1m-1.5 0h3M173.5 737.9v-1.1m-1.5 0h3M183.8 737v-1.1m-1.5 0h3M194.1 735.3v-1.2m-1.5 0h3M204.4 736v-1.2m-1.5 0h3M214.7 733.4v-1.3m-1.5 0h3M225 730.6v-1.4m-1.5 0h3M235.3 728.2v-1.6m-1.5 0h3M245.6 725v-1.7m-1.5 0h3M250.8 742.2v-0.9m-1.5 0h3M255.9 722.8v-1.8m-1.5 0h3M261.1 740.7v-1m-1.5 0h3M266.2 720.5v-1.9m-1.5 0h3M271.4 737.5v-1.1m-1.5 0h3M276.5 718.1v-2m-1.5 0h3M281.7 734.7v-1.2m-1.5 0h3M286.8 720.5v-1.9m-1.5 0h3M292 719.2v-2m-1.5 0h3M297.1 725.4v-1.7m-1.5 0h3M302.3 704.3v-2.7m-1.5 0h3M307.4 730.8v-1.4m-1.5 0h3M312.6 682.9v-3.7m-1.5 0h3M317.7 736v-1.2m-1.5 0h3M322.9 664.1v-4.6m-1.5 0h3M328 738.6v-1.1m-1.5 0h3M333.2 642.5v-5.7m-1.5 0h3M338.3 740.5v-1m-1.5 0h3M343.5 642.5v-5.7m-1.5 0h3M348.7 739.1v-1m-1.5 0h3M353.8 656.4v-5m-1.5 0h3M359 740.4v-1m-1.5 0h3M364.1 677.5v-4m-1.5 0h3M369.3 741.4v-0.9m-1.5 0h3M374.4 695.8v-3.1m-1.5 0h3M379.6 742.1v-0.9m-1.5 0h3M384.7 711.4v-2.4m-1.5 0h3M395 722.8v-1.8m-1.5 0h3M405.3 730.2v-1.5m-1.5 0h3M415.6 735.3v-1.2m-1.5 0h3M425.9 737.3v-1.1m-1.5 0h3M434.5 738.8v-1.1m-1.5 0h3" stroke="#aaa" stroke-width="0.8" fill="none"/><polyline points="92,743.1 212.1,743.1 236.5,742.8 246.5,742.3 255.1,741.4 262.2,739.8 268,737.9 273.7,735.1 276.5,733.3 279.4,731.2 282.3,728.7 285.1,725.9 289.4,721 295.1,713.2 300.9,703.9 306.6,693.5 319.5,668.9 323.8,661.4 326.6,656.9 330.9,651.2 333.8,648.2 335.2,647 338.1,645.2 339.5,644.5 342.4,643.9 345.2,644.2 346.6,644.6 349.5,646.1 350.9,647.1 353.8,649.8 358.1,655.1 361,659.3 365.2,666.6 381,696.5 386.7,706.6 391,713.4 393.9,717.5 396.7,721.2 401,726.1 403.9,728.9 408.2,732.4 412.5,735.2 416.8,737.4 421.1,739 425.3,740.3 429.6,741.2 435.4,742" fill="none" stroke="#ee1010" stroke-width="2.5" stroke-linejoin="round"/><polyline points="92,743 116.3,742.7 133.5,742.1 149.2,741 162.1,739.5 173.5,737.6 186.4,734.9 197.8,732 222.2,725.3 233.6,722.6 240.8,721.3 246.5,720.6 252.2,720.1 257.9,720 263.7,720.1 269.4,720.6 275.1,721.3 282.3,722.5 293.7,725.2 319.5,732.3 330.9,735.1 343.8,737.8 356.7,739.8 371,741.3 388.1,742.3 408.2,742.9 435.4,743.1" fill="none" stroke="#0808ee" stroke-width="2.5" stroke-linejoin="round"/><text x="83.16" y="751.1" text-anchor="end" font-size="22" font-family='"Liberation Sans", Arial, Helvetica, sans-serif'>0.0</text><text x="83.16" y="657.09" text-anchor="end" font-size="22" font-family='"Liberation Sans", Arial, Helvetica, sans-serif'>0.1</text><text x="98.36" y="630.38" font-size="22.8" font-family='"Liberation Sans", Arial, Helvetica, sans-serif'>10 μM GDP</text><text x="98.36" y="658.38" font-size="22.8" font-family='"Liberation Sans", Arial, Helvetica, sans-serif'>n = 416</text><line x1="126.3" y1="743.1" x2="126.3" y2="884.12" stroke="#a0a0a0" stroke-width="1.8"/><line x1="160.64" y1="884.12" x2="160.64" y2="743.1" stroke="#8c8c8c" stroke-width="1.5" stroke-dasharray="6.75,5.5"/><line x1="194.98" y1="743.1" x2="194.98" y2="884.12" stroke="#a0a0a0" stroke-width="1.8"/><line x1="229.32" y1="884.12" x2="229.32" y2="743.1" stroke="#8c8c8c" stroke-width="1.5" stroke-dasharray="6.75,5.5"/><line x1="263.66" y1="743.1" x2="263.66" y2="884.12" stroke="#a0a0a0" stroke-width="1.8"/><line x1="298" y1="884.12" x2="298" y2="743.1" stroke="#8c8c8c" stroke-width="1.5" stroke-dasharray="6.75,5.5"/><line x1="332.34" y1="743.1" x2="332.34" y2="884.12" stroke="#a0a0a0" stroke-width="1.8"/><line x1="366.68" y1="884.12" x2="366.68" y2="743.1" stroke="#8c8c8c" stroke-width="1.5" stroke-dasharray="6.75,5.5"/><line x1="401.02" y1="743.1" x2="401.02" y2="884.12" stroke="#a0a0a0" stroke-width="1.8"/><rect x="92.96" y="744.1" width="127.57" height="63.3" fill="#fff"/><path d="M160.7 884.1V880.9H165.7V884.1zM171 884.1V879.3H176V884.1zM181.3 884.1V878.3H186.3V884.1zM191.6 884.1V877.3H196.6V884.1zM201.9 884.1V876.4H206.9V884.1zM212.2 884.1V875.4H217.2V884.1zM222.6 884.1V871.8H227.5V884.1zM232.9 884.1V870.5H237.8V884.1zM243.2 884.1V868.2H248.1V884.1zM253.5 884.1V865.1H258.4V884.1zM263.8 884.1V860.8H268.7V884.1zM274.1 884.1V857.3H279V884.1zM284.4 884.1V860.4H289.3V884.1zM294.7 884.1V863.4H299.6V884.1zM305 884.1V871.8H309.9V884.1zM315.3 884.1V875.7H320.2V884.1zM325.6 884.1V878.3H330.5V884.1zM335.9 884.1V880.9H340.8V884.1zM346.2 884.1V880.7H351.1V884.1zM356.5 884.1V882.1H361.4V884.1zM366.8 884.1V883H371.7V884.1z" fill="#a5dca0"/><path d="M248.3 884.1V883.2H253.3V884.1zM258.6 884.1V881.9H263.6V884.1zM268.9 884.1V880.9H273.9V884.1zM279.2 884.1V876.4H284.2V884.1zM289.5 884.1V864H294.5V884.1zM299.8 884.1V846.6H304.8V884.1zM310.1 884.1V827.1H315.1V884.1zM320.4 884.1V812.9H325.4V884.1zM330.7 884.1V799.3H335.7V884.1zM341 884.1V796.7H346V884.1zM351.3 884.1V799.3H356.3V884.1zM361.6 884.1V811.6H366.6V884.1zM371.9 884.1V828.8H376.9V884.1zM382.2 884.1V844.6H387.2V884.1zM392.5 884.1V857.6H397.5V884.1zM402.8 884.1V867.3H407.8V884.1zM413.1 884.1V871.2H418.1V884.1zM423.4 884.1V874.7H428.4V884.1zM433.7 884.1V878.3H435.3V884.1z" fill="#fdd0a0"/><path d="M160.7 884.1V880.9H165.7V884.1M171 884.1V879.3H176V884.1M181.3 884.1V878.3H186.3V884.1M191.6 884.1V877.3H196.6V884.1M201.9 884.1V876.4H206.9V884.1M212.2 884.1V875.4H217.2V884.1M222.6 884.1V871.8H227.5V884.1M232.9 884.1V870.5H237.8V884.1M243.2 884.1V868.2H248.1V884.1M248.3 884.1V883.2H253.3V884.1M253.5 884.1V865.1H258.4V884.1M258.6 884.1V881.9H263.6V884.1M263.8 884.1V860.8H268.7V884.1M268.9 884.1V880.9H273.9V884.1M274.1 884.1V857.3H279V884.1M279.2 884.1V876.4H284.2V884.1M284.4 884.1V860.4H289.3V884.1M289.5 884.1V864H294.5V884.1M294.7 884.1V863.4H299.6V884.1M299.8 884.1V846.6H304.8V884.1M305 884.1V871.8H309.9V884.1M310.1 884.1V827.1H315.1V884.1M315.3 884.1V875.7H320.2V884.1M320.4 884.1V812.9H325.4V884.1M325.6 884.1V878.3H330.5V884.1M330.7 884.1V799.3H335.7V884.1M335.9 884.1V880.9H340.8V884.1M341 884.1V796.7H346V884.1M346.2 884.1V880.7H351.1V884.1M351.3 884.1V799.3H356.3V884.1M356.5 884.1V882.1H361.4V884.1M361.6 884.1V811.6H366.6V884.1M366.8 884.1V883H371.7V884.1M371.9 884.1V828.8H376.9V884.1M382.2 884.1V844.6H387.2V884.1M392.5 884.1V857.6H397.5V884.1M402.8 884.1V867.3H407.8V884.1M413.1 884.1V871.2H418.1V884.1M423.4 884.1V874.7H428.4V884.1M433.7 884.1V878.3H435.3V884.1" fill="none" stroke="#1a1a1a" stroke-width="1.25"/><path d="M163.2 880.9v-1m-1.5 0h3M173.5 879.3v-1.1m-1.5 0h3M183.8 878.3v-1.1m-1.5 0h3M194.1 877.3v-1.2m-1.5 0h3M204.4 876.4v-1.2m-1.5 0h3M214.7 875.4v-1.3m-1.5 0h3M225 871.8v-1.4m-1.5 0h3M235.3 870.5v-1.5m-1.5 0h3M245.6 868.2v-1.6m-1.5 0h3M250.8 883.2v-0.9m-1.5 0h3M255.9 865.1v-1.8m-1.5 0h3M261.1 881.9v-1m-1.5 0h3M266.2 860.8v-2m-1.5 0h3M271.4 880.9v-1m-1.5 0h3M276.5 857.3v-2.1m-1.5 0h3M281.7 876.4v-1.2m-1.5 0h3M286.8 860.4v-2m-1.5 0h3M292 864v-1.8m-1.5 0h3M297.1 863.4v-1.8m-1.5 0h3M302.3 846.6v-2.6m-1.5 0h3M307.4 871.8v-1.4m-1.5 0h3M312.6 827.1v-3.6m-1.5 0h3M317.7 875.7v-1.3m-1.5 0h3M322.9 812.9v-4.3m-1.5 0h3M328 878.3v-1.1m-1.5 0h3M333.2 799.3v-4.9m-1.5 0h3M338.3 880.9v-1m-1.5 0h3M343.5 796.7v-5m-1.5 0h3M348.7 880.7v-1m-1.5 0h3M353.8 799.3v-4.9m-1.5 0h3M359 882.1v-0.9m-1.5 0h3M364.1 811.6v-4.3m-1.5 0h3M369.3 883v-0.9m-1.5 0h3M374.4 828.8v-3.5m-1.5 0h3M384.7 844.6v-2.7m-1.5 0h3M395 857.6v-2.1m-1.5 0h3M405.3 867.3v-1.7m-1.5 0h3M415.6 871.2v-1.5m-1.5 0h3M425.9 874.7v-1.3m-1.5 0h3M434.5 878.3v-1.1m-1.5 0h3" stroke="#aaa" stroke-width="0.8" fill="none"/><polyline points="92,884.1 210.7,884.1 235,883.9 245.1,883.5 253.6,882.7 260.8,881.4 268,879.4 273.7,877 279.4,873.7 285.1,869.3 290.8,863.8 296.6,857 302.3,849 308,840.2 322.3,817 326.6,810.7 329.5,807 333.8,802.3 338.1,798.8 340.9,797.2 342.4,796.7 345.2,796.2 346.6,796.1 349.5,796.6 350.9,797.1 353.8,798.6 358.1,802 362.4,806.7 365.2,810.4 369.5,816.6 385.3,842 391,850.7 395.3,856.6 398.2,860.2 403.9,866.4 406.7,869.1 411,872.5 413.9,874.4 418.2,876.9 422.5,878.8 426.8,880.3 431.1,881.4 435.4,882.2" fill="none" stroke="#ee1010" stroke-width="2.5" stroke-linejoin="round"/><polyline points="92,884.1 129.2,884 150.6,883.6 166.4,882.8 180.7,881.3 187.8,880.1 193.5,879 205,876.1 215,872.9 237.9,864.9 247.9,862 253.6,860.8 257.9,860.1 263.7,859.5 268,859.4 272.2,859.5 278,860.1 282.3,860.8 288,862.1 298,865.1 319.5,872.6 330.9,876.2 342.4,879 353.8,881.1 366.7,882.6 382.4,883.5 402.5,884 435.4,884.1" fill="none" stroke="#0808ee" stroke-width="2.5" stroke-linejoin="round"/><text x="83.16" y="892.12" text-anchor="end" font-size="22" font-family='"Liberation Sans", Arial, Helvetica, sans-serif'>0.0</text><text x="83.16" y="798.11" text-anchor="end" font-size="22" font-family='"Liberation Sans", Arial, Helvetica, sans-serif'>0.1</text><text x="98.36" y="771.4" font-size="22.8" font-family='"Liberation Sans", Arial, Helvetica, sans-serif'>30 μM GDP</text><text x="98.36" y="799.4" font-size="22.8" font-family='"Liberation Sans", Arial, Helvetica, sans-serif'>n = 387</text><line x1="91.66" y1="179.02" x2="435.36" y2="179.02" stroke="#000018" stroke-width="2.4" stroke-opacity="0.72"/><path d="M126.3 179.02v4M160.64 179.02v4M194.98 179.02v4M229.32 179.02v4M263.66 179.02v4M298 179.02v4M332.34 179.02v4M366.68 179.02v4M401.02 179.02v4M91.66 132.01h-4.5M435.36 132.01h-4.5M91.66 85.01h-4.5M435.36 85.01h-4.5M91.66 179.02h-4.5" stroke="#111" stroke-width="1.5" fill="none"/><line x1="91.66" y1="320.04" x2="435.36" y2="320.04" stroke="#000018" stroke-width="2.4" stroke-opacity="0.72"/><path d="M126.3 320.04v4M160.64 320.04v4M194.98 320.04v4M229.32 320.04v4M263.66 320.04v4M298 320.04v4M332.34 320.04v4M366.68 320.04v4M401.02 320.04v4M91.66 273.03h-4.5M435.36 273.03h-4.5M91.66 226.03h-4.5M435.36 226.03h-4.5M91.66 320.04h-4.5" stroke="#111" stroke-width="1.5" fill="none"/><line x1="91.66" y1="461.06" x2="435.36" y2="461.06" stroke="#000018" stroke-width="2.4" stroke-opacity="0.72"/><path d="M126.3 461.06v4M160.64 461.06v4M194.98 461.06v4M229.32 461.06v4M263.66 461.06v4M298 461.06v4M332.34 461.06v4M366.68 461.06v4M401.02 461.06v4M91.66 414.05h-4.5M435.36 414.05h-4.5M91.66 367.05h-4.5M435.36 367.05h-4.5M91.66 461.06h-4.5" stroke="#111" stroke-width="1.5" fill="none"/><line x1="91.66" y1="602.08" x2="435.36" y2="602.08" stroke="#000018" stroke-width="2.4" stroke-opacity="0.72"/><path d="M126.3 602.08v4M160.64 602.08v4M194.98 602.08v4M229.32 602.08v4M263.66 602.08v4M298 602.08v4M332.34 602.08v4M366.68 602.08v4M401.02 602.08v4M91.66 555.07h-4.5M435.36 555.07h-4.5M91.66 508.07h-4.5M435.36 508.07h-4.5M91.66 602.08h-4.5" stroke="#111" stroke-width="1.5" fill="none"/><line x1="91.66" y1="743.1" x2="435.36" y2="743.1" stroke="#000018" stroke-width="2.4" stroke-opacity="0.72"/><path d="M126.3 743.1v4M160.64 743.1v4M194.98 743.1v4M229.32 743.1v4M263.66 743.1v4M298 743.1v4M332.34 743.1v4M366.68 743.1v4M401.02 743.1v4M91.66 696.09h-4.5M435.36 696.09h-4.5M91.66 649.09h-4.5M435.36 649.09h-4.5M91.66 743.1h-4.5" stroke="#111" stroke-width="1.5" fill="none"/><line x1="91.66" y1="884.12" x2="435.36" y2="884.12" stroke="#000018" stroke-width="2.4" stroke-opacity="0.72"/><path d="M126.3 884.12v4M160.64 884.12v4M194.98 884.12v4M229.32 884.12v4M263.66 884.12v4M298 884.12v4M332.34 884.12v4M366.68 884.12v4M401.02 884.12v4M91.66 837.11h-4.5M435.36 837.11h-4.5M91.66 790.11h-4.5M435.36 790.11h-4.5M91.66 884.12h-4.5" stroke="#111" stroke-width="1.5" fill="none"/><path d="M126.3 38v4M160.64 38v4M194.98 38v4M229.32 38v4M263.66 38v4M298 38v4M332.34 38v4M366.68 38v4M401.02 38v4M91.66 38h-4.5" stroke="#111" stroke-width="1.5" fill="none"/><path d="M91.66 888.12V38H435.36V884.12" stroke="#111" stroke-width="1.8" fill="none"/><line x1="229.32" y1="76.5" x2="229.32" y2="884.12" stroke="#fff" stroke-width="4"/><line x1="263.66" y1="39" x2="263.66" y2="884.12" stroke="#fff" stroke-width="4"/><line x1="229.32" y1="76.5" x2="229.32" y2="884.12" stroke="#00893f" stroke-width="3.2" stroke-dasharray="13.7,9.9" stroke-dashoffset="6.7"/><line x1="263.66" y1="38" x2="263.66" y2="884.12" stroke="#0a14e6" stroke-width="3.2" stroke-dasharray="13.7,9.9" stroke-dashoffset="6.6"/><text x="126.3" y="910.62" text-anchor="middle" font-size="22.5" font-family='"Liberation Sans", Arial, Helvetica, sans-serif'>0.2</text><text x="194.98" y="910.62" text-anchor="middle" font-size="22.5" font-family='"Liberation Sans", Arial, Helvetica, sans-serif'>0.4</text><text x="263.66" y="910.62" text-anchor="middle" font-size="22.5" font-family='"Liberation Sans", Arial, Helvetica, sans-serif'>0.6</text><text x="332.34" y="910.62" text-anchor="middle" font-size="22.5" font-family='"Liberation Sans", Arial, Helvetica, sans-serif'>0.8</text><text x="401.02" y="910.62" text-anchor="middle" font-size="22.5" font-family='"Liberation Sans", Arial, Helvetica, sans-serif'>1.0</text><text x="265.2" y="942" text-anchor="middle" font-size="28.4" font-family='"Liberation Sans", Arial, Helvetica, sans-serif'>FRET</text><text x="264.3" y="25" text-anchor="middle" font-size="33.3" font-family='"Liberation Sans", Arial, Helvetica, sans-serif'>TRV130</text></g>
<g><line x1="547.29" y1="37.8" x2="547.29" y2="177.73" stroke="#a0a0a0" stroke-width="1.8"/><line x1="581.68" y1="177.73" x2="581.68" y2="37.8" stroke="#8c8c8c" stroke-width="1.5" stroke-dasharray="6.75,5.5"/><line x1="616.07" y1="37.8" x2="616.07" y2="177.73" stroke="#a0a0a0" stroke-width="1.8"/><line x1="650.46" y1="177.73" x2="650.46" y2="37.8" stroke="#8c8c8c" stroke-width="1.5" stroke-dasharray="6.75,5.5"/><line x1="684.85" y1="37.8" x2="684.85" y2="177.73" stroke="#a0a0a0" stroke-width="1.8"/><line x1="719.24" y1="177.73" x2="719.24" y2="37.8" stroke="#8c8c8c" stroke-width="1.5" stroke-dasharray="6.75,5.5"/><line x1="753.63" y1="37.8" x2="753.63" y2="177.73" stroke="#a0a0a0" stroke-width="1.8"/><line x1="788.02" y1="177.73" x2="788.02" y2="37.8" stroke="#8c8c8c" stroke-width="1.5" stroke-dasharray="6.75,5.5"/><line x1="822.41" y1="37.8" x2="822.41" y2="177.73" stroke="#a0a0a0" stroke-width="1.8"/><rect x="513.9" y="38.8" width="146.58" height="63.3" fill="#fff"/><path d="M540.5 177.7V177H545.5V177.7zM550.8 177.7V176.3H555.8V177.7zM561.1 177.7V175.3H566.1V177.7zM571.5 177.7V173.7H576.4V177.7zM581.8 177.7V174H586.7V177.7zM592.1 177.7V171.4H597.1V177.7zM602.4 177.7V168.5H607.4V177.7zM612.7 177.7V164.3H617.7V177.7zM623 177.7V159.1H628V177.7zM633.4 177.7V151.3H638.3V177.7zM643.7 177.7V149.3H648.6V177.7zM654 177.7V147H659V177.7zM664.3 177.7V146.7H669.3V177.7zM674.6 177.7V147.4H679.6V177.7zM684.9 177.7V146.1H689.9V177.7zM695.3 177.7V145.7H700.2V177.7zM705.6 177.7V148.7H710.5V177.7zM715.9 177.7V157.1H720.9V177.7zM726.2 177.7V164.3H731.2V177.7zM736.5 177.7V169.5H741.5V177.7zM746.9 177.7V172.7H751.8V177.7zM757.2 177.7V174.7H762.1V177.7zM767.5 177.7V176H772.4V177.7zM777.8 177.7V176H782.8V177.7zM788.1 177.7V176.7H793.1V177.7z" fill="#a5dca0"/><path d="M659.2 177.7V176.8H664.1V177.7zM669.5 177.7V175.6H674.4V177.7zM679.8 177.7V173.4H684.7V177.7zM690.1 177.7V175.3H695.1V177.7zM700.4 177.7V170.4H705.4V177.7zM710.7 177.7V163.6H715.7V177.7zM721.1 177.7V145.2H726V177.7zM731.4 177.7V132.7H736.3V177.7zM741.7 177.7V120.7H746.7V177.7zM752 177.7V111H757V177.7zM762.3 177.7V109.7H767.3V177.7zM772.6 177.7V117.5H777.6V177.7zM783 177.7V125.9H787.9V177.7zM793.3 177.7V138.7H798.2V177.7zM803.6 177.7V146.7H808.6V177.7zM813.9 177.7V155.8H818.9V177.7zM824.2 177.7V162.6H829.2V177.7zM834.5 177.7V166.9H839.5V177.7zM844.9 177.7V170.5H849.8V177.7zM855.2 177.7V172.4H856.7V177.7z" fill="#fdd0a0"/><path d="M540.5 177.7V177H545.5V177.7M550.8 177.7V176.3H555.8V177.7M561.1 177.7V175.3H566.1V177.7M571.5 177.7V173.7H576.4V177.7M581.8 177.7V174H586.7V177.7M592.1 177.7V171.4H597.1V177.7M602.4 177.7V168.5H607.4V177.7M612.7 177.7V164.3H617.7V177.7M623 177.7V159.1H628V177.7M633.4 177.7V151.3H638.3V177.7M643.7 177.7V149.3H648.6V177.7M654 177.7V147H659V177.7M659.2 177.7V176.8H664.1V177.7M664.3 177.7V146.7H669.3V177.7M669.5 177.7V175.6H674.4V177.7M674.6 177.7V147.4H679.6V177.7M679.8 177.7V173.4H684.7V177.7M684.9 177.7V146.1H689.9V177.7M690.1 177.7V175.3H695.1V177.7M695.3 177.7V145.7H700.2V177.7M700.4 177.7V170.4H705.4V177.7M705.6 177.7V148.7H710.5V177.7M710.7 177.7V163.6H715.7V177.7M715.9 177.7V157.1H720.9V177.7M721.1 177.7V145.2H726V177.7M726.2 177.7V164.3H731.2V177.7M731.4 177.7V132.7H736.3V177.7M736.5 177.7V169.5H741.5V177.7M741.7 177.7V120.7H746.7V177.7M746.9 177.7V172.7H751.8V177.7M752 177.7V111H757V177.7M757.2 177.7V174.7H762.1V177.7M762.3 177.7V109.7H767.3V177.7M767.5 177.7V176H772.4V177.7M772.6 177.7V117.5H777.6V177.7M777.8 177.7V176H782.8V177.7M783 177.7V125.9H787.9V177.7M788.1 177.7V176.7H793.1V177.7M793.3 177.7V138.7H798.2V177.7M803.6 177.7V146.7H808.6V177.7M813.9 177.7V155.8H818.9V177.7M824.2 177.7V162.6H829.2V177.7M834.5 177.7V166.9H839.5V177.7M844.9 177.7V170.5H849.8V177.7M855.2 177.7V172.4H856.7V177.7" fill="none" stroke="#1a1a1a" stroke-width="1.25"/><path d="M543 177v-0.9m-1.5 0h3M553.3 176.3v-0.9m-1.5 0h3M563.6 175.3v-1m-1.5 0h3M573.9 173.7v-1m-1.5 0h3M584.3 174v-1m-1.5 0h3M594.6 171.4v-1.1m-1.5 0h3M604.9 168.5v-1.3m-1.5 0h3M615.2 164.3v-1.5m-1.5 0h3M625.5 159.1v-1.7m-1.5 0h3M635.8 151.3v-2.1m-1.5 0h3M646.2 149.3v-2.2m-1.5 0h3M656.5 147v-2.3m-1.5 0h3M661.6 176.8v-0.9m-1.5 0h3M666.8 146.7v-2.3m-1.5 0h3M672 175.6v-0.9m-1.5 0h3M677.1 147.4v-2.3m-1.5 0h3M682.3 173.4v-1m-1.5 0h3M687.4 146.1v-2.4m-1.5 0h3M692.6 175.3v-1m-1.5 0h3M697.7 145.7v-2.4m-1.5 0h3M702.9 170.4v-1.2m-1.5 0h3M708.1 148.7v-2.2m-1.5 0h3M713.2 163.6v-1.5m-1.5 0h3M718.4 157.1v-1.8m-1.5 0h3M723.5 145.2v-2.4m-1.5 0h3M728.7 164.3v-1.5m-1.5 0h3M733.9 132.7v-3m-1.5 0h3M739 169.5v-1.2m-1.5 0h3M744.2 120.7v-3.6m-1.5 0h3M749.3 172.7v-1.1m-1.5 0h3M754.5 111v-4m-1.5 0h3M759.6 174.7v-1m-1.5 0h3M764.8 109.7v-4.1m-1.5 0h3M770 176v-0.9m-1.5 0h3M775.1 117.5v-3.7m-1.5 0h3M780.3 176v-0.9m-1.5 0h3M785.4 125.9v-3.3m-1.5 0h3M790.6 176.7v-0.9m-1.5 0h3M795.8 138.7v-2.7m-1.5 0h3M806.1 146.7v-2.3m-1.5 0h3M816.4 155.8v-1.9m-1.5 0h3M826.7 162.6v-1.6m-1.5 0h3M837 166.9v-1.4m-1.5 0h3M847.3 170.5v-1.2m-1.5 0h3M855.9 172.4v-1.1m-1.5 0h3" stroke="#aaa" stroke-width="0.8" fill="none"/><polyline points="512.9,177.7 618.9,177.7 644.7,177.4 656.2,177 664.8,176.2 672,175.2 679.1,173.6 686.3,171.2 692,168.6 697.7,165.4 703.5,161.4 709.2,156.7 714.9,151.3 722.1,143.7 736.4,127.7 740.7,123.3 745,119.3 747.9,117 750.8,114.9 755.1,112.5 759.4,111 763.7,110.4 768,110.7 772.3,112 776.6,114.2 779.4,116 782.3,118.2 786.6,122.1 790.9,126.4 806.6,143.9 813.8,151.4 821,158.1 828.1,163.6 833.9,167.2 841,170.7 848.2,173.2 856.8,175.2" fill="none" stroke="#ee1010" stroke-width="2.5" stroke-linejoin="round"/><polyline points="512.9,177.6 537.3,177.3 554.5,176.4 568.8,175 575.9,173.8 581.7,172.7 593.1,169.8 604.6,165.9 614.6,161.9 637.6,151.6 643.3,149.3 649,147.3 654.8,145.6 660.5,144.4 666.2,143.6 672,143.4 676.3,143.6 682,144.3 687.7,145.5 693.4,147.2 699.2,149.2 704.9,151.5 727.8,161.7 739.3,166.3 746.5,168.8 752.2,170.5 757.9,172 765.1,173.5 772.3,174.7 780.9,175.8 789.5,176.5 798.1,177 819.5,177.5 856.8,177.7" fill="none" stroke="#0808ee" stroke-width="2.5" stroke-linejoin="round"/><text x="504.1" y="185.73" text-anchor="end" font-size="22" font-family='"Liberation Sans", Arial, Helvetica, sans-serif'>0.0</text><text x="504.1" y="92.44" text-anchor="end" font-size="22" font-family='"Liberation Sans", Arial, Helvetica, sans-serif'>0.1</text><text x="519.3" y="66.1" font-size="22.8" font-family='"Liberation Sans", Arial, Helvetica, sans-serif'>0.15 μM GDP</text><text x="519.3" y="94.1" font-size="22.8" font-family='"Liberation Sans", Arial, Helvetica, sans-serif'>n = 734</text><line x1="547.29" y1="177.73" x2="547.29" y2="317.66" stroke="#a0a0a0" stroke-width="1.8"/><line x1="581.68" y1="317.66" x2="581.68" y2="177.73" stroke="#8c8c8c" stroke-width="1.5" stroke-dasharray="6.75,5.5"/><line x1="616.07" y1="177.73" x2="616.07" y2="317.66" stroke="#a0a0a0" stroke-width="1.8"/><line x1="650.46" y1="317.66" x2="650.46" y2="177.73" stroke="#8c8c8c" stroke-width="1.5" stroke-dasharray="6.75,5.5"/><line x1="684.85" y1="177.73" x2="684.85" y2="317.66" stroke="#a0a0a0" stroke-width="1.8"/><line x1="719.24" y1="317.66" x2="719.24" y2="177.73" stroke="#8c8c8c" stroke-width="1.5" stroke-dasharray="6.75,5.5"/><line x1="753.63" y1="177.73" x2="753.63" y2="317.66" stroke="#a0a0a0" stroke-width="1.8"/><line x1="788.02" y1="317.66" x2="788.02" y2="177.73" stroke="#8c8c8c" stroke-width="1.5" stroke-dasharray="6.75,5.5"/><line x1="822.41" y1="177.73" x2="822.41" y2="317.66" stroke="#a0a0a0" stroke-width="1.8"/><rect x="513.9" y="178.73" width="133.9" height="63.3" fill="#fff"/><path d="M571.5 317.7V316.7H576.4V317.7zM581.8 317.7V314.6H586.7V317.7zM592.1 317.7V313H597.1V317.7zM602.4 317.7V309.8H607.4V317.7zM612.7 317.7V309.4H617.7V317.7zM623 317.7V305.6H628V317.7zM633.4 317.7V302.3H638.3V317.7zM643.7 317.7V299.7H648.6V317.7zM654 317.7V295.2H659V317.7zM664.3 317.7V293.5H669.3V317.7zM674.6 317.7V294.5H679.6V317.7zM684.9 317.7V294.5H689.9V317.7zM695.3 317.7V290.6H700.2V317.7zM705.6 317.7V293.2H710.5V317.7zM715.9 317.7V299.7H720.9V317.7zM726.2 317.7V306.2H731.2V317.7zM736.5 317.7V310.7H741.5V317.7zM746.9 317.7V312.7H751.8V317.7zM757.2 317.7V315H762.1V317.7zM767.5 317.7V316.9H772.4V317.7z" fill="#a5dca0"/><path d="M679.8 317.7V316.5H684.7V317.7zM690.1 317.7V314.5H695.1V317.7zM700.4 317.7V307.5H705.4V317.7zM710.7 317.7V290.3H715.7V317.7zM721.1 317.7V277.6H726V317.7zM731.4 317.7V260.5H736.3V317.7zM741.7 317.7V241.5H746.7V317.7zM752 317.7V228.9H757V317.7zM762.3 317.7V225.4H767.3V317.7zM772.6 317.7V239.3H777.6V317.7zM783 317.7V260.5H787.9V317.7zM793.3 317.7V279.6H798.2V317.7zM803.6 317.7V291.9H808.6V317.7zM813.9 317.7V300H818.9V317.7zM824.2 317.7V306.9H829.2V317.7zM834.5 317.7V311.1H839.5V317.7zM844.9 317.7V313.3H849.8V317.7zM855.2 317.7V314.6H856.7V317.7z" fill="#fdd0a0"/><path d="M571.5 317.7V316.7H576.4V317.7M581.8 317.7V314.6H586.7V317.7M592.1 317.7V313H597.1V317.7M602.4 317.7V309.8H607.4V317.7M612.7 317.7V309.4H617.7V317.7M623 317.7V305.6H628V317.7M633.4 317.7V302.3H638.3V317.7M643.7 317.7V299.7H648.6V317.7M654 317.7V295.2H659V317.7M664.3 317.7V293.5H669.3V317.7M674.6 317.7V294.5H679.6V317.7M679.8 317.7V316.5H684.7V317.7M684.9 317.7V294.5H689.9V317.7M690.1 317.7V314.5H695.1V317.7M695.3 317.7V290.6H700.2V317.7M700.4 317.7V307.5H705.4V317.7M705.6 317.7V293.2H710.5V317.7M710.7 317.7V290.3H715.7V317.7M715.9 317.7V299.7H720.9V317.7M721.1 317.7V277.6H726V317.7M726.2 317.7V306.2H731.2V317.7M731.4 317.7V260.5H736.3V317.7M736.5 317.7V310.7H741.5V317.7M741.7 317.7V241.5H746.7V317.7M746.9 317.7V312.7H751.8V317.7M752 317.7V228.9H757V317.7M757.2 317.7V315H762.1V317.7M762.3 317.7V225.4H767.3V317.7M767.5 317.7V316.9H772.4V317.7M772.6 317.7V239.3H777.6V317.7M783 317.7V260.5H787.9V317.7M793.3 317.7V279.6H798.2V317.7M803.6 317.7V291.9H808.6V317.7M813.9 317.7V300H818.9V317.7M824.2 317.7V306.9H829.2V317.7M834.5 317.7V311.1H839.5V317.7M844.9 317.7V313.3H849.8V317.7M855.2 317.7V314.6H856.7V317.7" fill="none" stroke="#1a1a1a" stroke-width="1.25"/><path d="M573.9 316.7v-0.9m-1.5 0h3M584.3 314.6v-1m-1.5 0h3M594.6 313v-1.1m-1.5 0h3M604.9 309.8v-1.2m-1.5 0h3M615.2 309.4v-1.2m-1.5 0h3M625.5 305.6v-1.4m-1.5 0h3M635.8 302.3v-1.6m-1.5 0h3M646.2 299.7v-1.7m-1.5 0h3M656.5 295.2v-1.9m-1.5 0h3M666.8 293.5v-2m-1.5 0h3M677.1 294.5v-2m-1.5 0h3M682.3 316.5v-0.9m-1.5 0h3M687.4 294.5v-2m-1.5 0h3M692.6 314.5v-1m-1.5 0h3M697.7 290.6v-2.1m-1.5 0h3M702.9 307.5v-1.3m-1.5 0h3M708.1 293.2v-2m-1.5 0h3M713.2 290.3v-2.2m-1.5 0h3M718.4 299.7v-1.7m-1.5 0h3M723.5 277.6v-2.8m-1.5 0h3M728.7 306.2v-1.4m-1.5 0h3M733.9 260.5v-3.6m-1.5 0h3M739 310.7v-1.2m-1.5 0h3M744.2 241.5v-4.5m-1.5 0h3M749.3 312.7v-1.1m-1.5 0h3M754.5 228.9v-5.1m-1.5 0h3M759.6 315v-1m-1.5 0h3M764.8 225.4v-5.3m-1.5 0h3M770 316.9v-0.9m-1.5 0h3M775.1 239.3v-4.6m-1.5 0h3M785.4 260.5v-3.6m-1.5 0h3M795.8 279.6v-2.7m-1.5 0h3M806.1 291.9v-2.1m-1.5 0h3M816.4 300v-1.7m-1.5 0h3M826.7 306.9v-1.4m-1.5 0h3M837 311.1v-1.2m-1.5 0h3M847.3 313.3v-1m-1.5 0h3M855.9 314.6v-1m-1.5 0h3" stroke="#aaa" stroke-width="0.8" fill="none"/><polyline points="512.9,317.7 640.4,317.7 663.4,317.5 673.4,317.1 680.6,316.4 687.7,315.1 693.4,313.3 699.2,310.6 702,308.8 704.9,306.7 707.8,304.3 710.6,301.4 714.9,296.4 719.2,290.4 725,281 729.3,273.2 740.7,251.2 745,243.6 747.9,239.1 752.2,233.4 755.1,230.5 757.9,228.5 759.4,227.8 762.2,227.1 765.1,227.3 766.5,227.8 769.4,229.4 772.3,231.9 776.6,237.1 779.4,241.3 783.7,248.7 798.1,276 803.8,286 808.1,292.5 810.9,296.4 813.8,299.9 818.1,304.3 821,306.8 825.3,309.8 829.6,312.1 833.9,313.8 838.2,315.1 843.9,316.2 849.6,316.9 856.8,317.3" fill="none" stroke="#ee1010" stroke-width="2.5" stroke-linejoin="round"/><polyline points="512.9,317.7 548.7,317.5 567.4,317.2 581.7,316.3 588.8,315.5 594.6,314.7 600.3,313.6 606,312.2 616.1,309.2 626.1,305.5 646.2,297.1 654.8,294.1 660.5,292.6 664.8,291.8 669.1,291.3 673.4,291.2 677.7,291.4 682,291.9 686.3,292.8 690.6,294 699.2,297 720.7,305.9 730.7,309.6 736.4,311.4 742.2,312.9 747.9,314.1 753.6,315.1 766.5,316.5 783.7,317.3 806.6,317.6 856.8,317.7" fill="none" stroke="#0808ee" stroke-width="2.5" stroke-linejoin="round"/><text x="504.1" y="325.66" text-anchor="end" font-size="22" font-family='"Liberation Sans", Arial, Helvetica, sans-serif'>0.0</text><text x="504.1" y="232.37" text-anchor="end" font-size="22" font-family='"Liberation Sans", Arial, Helvetica, sans-serif'>0.1</text><text x="519.3" y="206.03" font-size="22.8" font-family='"Liberation Sans", Arial, Helvetica, sans-serif'>0.5 μM GDP</text><text x="519.3" y="234.03" font-size="22.8" font-family='"Liberation Sans", Arial, Helvetica, sans-serif'>n = 418</text><line x1="547.29" y1="317.66" x2="547.29" y2="457.59" stroke="#a0a0a0" stroke-width="1.8"/><line x1="581.68" y1="457.59" x2="581.68" y2="317.66" stroke="#8c8c8c" stroke-width="1.5" stroke-dasharray="6.75,5.5"/><line x1="616.07" y1="317.66" x2="616.07" y2="457.59" stroke="#a0a0a0" stroke-width="1.8"/><line x1="650.46" y1="457.59" x2="650.46" y2="317.66" stroke="#8c8c8c" stroke-width="1.5" stroke-dasharray="6.75,5.5"/><line x1="684.85" y1="317.66" x2="684.85" y2="457.59" stroke="#a0a0a0" stroke-width="1.8"/><line x1="719.24" y1="457.59" x2="719.24" y2="317.66" stroke="#8c8c8c" stroke-width="1.5" stroke-dasharray="6.75,5.5"/><line x1="753.63" y1="317.66" x2="753.63" y2="457.59" stroke="#a0a0a0" stroke-width="1.8"/><line x1="788.02" y1="457.59" x2="788.02" y2="317.66" stroke="#8c8c8c" stroke-width="1.5" stroke-dasharray="6.75,5.5"/><line x1="822.41" y1="317.66" x2="822.41" y2="457.59" stroke="#a0a0a0" stroke-width="1.8"/><rect x="513.9" y="318.66" width="114.89" height="63.3" fill="#fff"/><path d="M571.5 457.6V456.5H576.4V457.6zM581.8 457.6V455.9H586.7V457.6zM592.1 457.6V455.3H597.1V457.6zM602.4 457.6V454H607.4V457.6zM612.7 457.6V452.7H617.7V457.6zM623 457.6V449.4H628V457.6zM633.4 457.6V446.8H638.3V457.6zM643.7 457.6V441.6H648.6V457.6zM654 457.6V440.7H659V457.6zM664.3 457.6V436.8H669.3V457.6zM674.6 457.6V436.8H679.6V457.6zM684.9 457.6V433.9H689.9V457.6zM695.3 457.6V432.9H700.2V457.6zM705.6 457.6V432.9H710.5V457.6zM715.9 457.6V438.1H720.9V457.6zM726.2 457.6V446.2H731.2V457.6zM736.5 457.6V450.1H741.5V457.6zM746.9 457.6V452.7H751.8V457.6zM757.2 457.6V454.6H762.1V457.6zM767.5 457.6V454.8H772.4V457.6zM777.8 457.6V456H782.8V457.6zM788.1 457.6V456.7H793.1V457.6z" fill="#a5dca0"/><path d="M669.5 457.6V456.4H674.4V457.6zM679.8 457.6V454.7H684.7V457.6zM690.1 457.6V451.3H695.1V457.6zM700.4 457.6V452H705.4V457.6zM710.7 457.6V434.5H715.7V457.6zM721.1 457.6V420.5H726V457.6zM731.4 457.6V403.6H736.3V457.6zM741.7 457.6V385.8H746.7V457.6zM752 457.6V369.8H757V457.6zM762.3 457.6V364.3H767.3V457.6zM772.6 457.6V372.1H777.6V457.6zM783 457.6V393.6H787.9V457.6zM793.3 457.6V411.4H798.2V457.6zM803.6 457.6V421.8H808.6V457.6zM813.9 457.6V435.2H818.9V457.6zM824.2 457.6V442.9H829.2V457.6zM834.5 457.6V447.8H839.5V457.6zM844.9 457.6V451.1H849.8V457.6zM855.2 457.6V453.3H856.7V457.6z" fill="#fdd0a0"/><path d="M571.5 457.6V456.5H576.4V457.6M581.8 457.6V455.9H586.7V457.6M592.1 457.6V455.3H597.1V457.6M602.4 457.6V454H607.4V457.6M612.7 457.6V452.7H617.7V457.6M623 457.6V449.4H628V457.6M633.4 457.6V446.8H638.3V457.6M643.7 457.6V441.6H648.6V457.6M654 457.6V440.7H659V457.6M664.3 457.6V436.8H669.3V457.6M669.5 457.6V456.4H674.4V457.6M674.6 457.6V436.8H679.6V457.6M679.8 457.6V454.7H684.7V457.6M684.9 457.6V433.9H689.9V457.6M690.1 457.6V451.3H695.1V457.6M695.3 457.6V432.9H700.2V457.6M700.4 457.6V452H705.4V457.6M705.6 457.6V432.9H710.5V457.6M710.7 457.6V434.5H715.7V457.6M715.9 457.6V438.1H720.9V457.6M721.1 457.6V420.5H726V457.6M726.2 457.6V446.2H731.2V457.6M731.4 457.6V403.6H736.3V457.6M736.5 457.6V450.1H741.5V457.6M741.7 457.6V385.8H746.7V457.6M746.9 457.6V452.7H751.8V457.6M752 457.6V369.8H757V457.6M757.2 457.6V454.6H762.1V457.6M762.3 457.6V364.3H767.3V457.6M767.5 457.6V454.8H772.4V457.6M772.6 457.6V372.1H777.6V457.6M777.8 457.6V456H782.8V457.6M783 457.6V393.6H787.9V457.6M788.1 457.6V456.7H793.1V457.6M793.3 457.6V411.4H798.2V457.6M803.6 457.6V421.8H808.6V457.6M813.9 457.6V435.2H818.9V457.6M824.2 457.6V442.9H829.2V457.6M834.5 457.6V447.8H839.5V457.6M844.9 457.6V451.1H849.8V457.6M855.2 457.6V453.3H856.7V457.6" fill="none" stroke="#1a1a1a" stroke-width="1.25"/><path d="M573.9 456.5v-0.9m-1.5 0h3M584.3 455.9v-0.9m-1.5 0h3M594.6 455.3v-0.9m-1.5 0h3M604.9 454v-1m-1.5 0h3M615.2 452.7v-1.1m-1.5 0h3M625.5 449.4v-1.2m-1.5 0h3M635.8 446.8v-1.4m-1.5 0h3M646.2 441.6v-1.6m-1.5 0h3M656.5 440.7v-1.6m-1.5 0h3M666.8 436.8v-1.8m-1.5 0h3M672 456.4v-0.9m-1.5 0h3M677.1 436.8v-1.8m-1.5 0h3M682.3 454.7v-1m-1.5 0h3M687.4 433.9v-2m-1.5 0h3M692.6 451.3v-1.1m-1.5 0h3M697.7 432.9v-2m-1.5 0h3M702.9 452v-1.1m-1.5 0h3M708.1 432.9v-2m-1.5 0h3M713.2 434.5v-1.9m-1.5 0h3M718.4 438.1v-1.8m-1.5 0h3M723.5 420.5v-2.6m-1.5 0h3M728.7 446.2v-1.4m-1.5 0h3M733.9 403.6v-3.4m-1.5 0h3M739 450.1v-1.2m-1.5 0h3M744.2 385.8v-4.3m-1.5 0h3M749.3 452.7v-1.1m-1.5 0h3M754.5 369.8v-5.1m-1.5 0h3M759.6 454.6v-1m-1.5 0h3M764.8 364.3v-5.3m-1.5 0h3M770 454.8v-1m-1.5 0h3M775.1 372.1v-4.9m-1.5 0h3M780.3 456v-0.9m-1.5 0h3M785.4 393.6v-3.9m-1.5 0h3M790.6 456.7v-0.9m-1.5 0h3M795.8 411.4v-3.1m-1.5 0h3M806.1 421.8v-2.6m-1.5 0h3M816.4 435.2v-1.9m-1.5 0h3M826.7 442.9v-1.5m-1.5 0h3M837 447.8v-1.3m-1.5 0h3M847.3 451.1v-1.1m-1.5 0h3M855.9 453.3v-1m-1.5 0h3" stroke="#aaa" stroke-width="0.8" fill="none"/><polyline points="512.9,457.6 629,457.6 653.3,457.3 663.4,456.9 672,456.1 679.1,454.9 686.3,452.8 692,450.4 697.7,447.1 703.5,442.7 709.2,437.1 714.9,430.2 720.7,422.2 726.4,413.2 740.7,389.3 745,382.7 749.3,376.9 753.6,372.2 757.9,368.7 760.8,367.2 762.2,366.7 765.1,366.2 766.5,366.2 769.4,366.8 770.8,367.3 773.7,368.9 778,372.4 782.3,377.3 785.2,381.1 789.5,387.5 805.2,413.7 810.9,422.6 815.2,428.7 818.1,432.4 822.4,437.4 825.3,440.3 828.1,442.9 832.4,446.3 835.3,448.2 839.6,450.5 843.9,452.4 848.2,453.8 852.5,454.9 856.8,455.7" fill="none" stroke="#ee1010" stroke-width="2.5" stroke-linejoin="round"/><polyline points="512.9,457.6 545.9,457.4 565.9,457 581.7,456.1 596,454.5 607.5,452.4 618.9,449.5 630.4,445.9 653.3,437.9 663.4,435 669.1,433.7 673.4,433.1 679.1,432.5 683.4,432.4 687.7,432.5 693.4,433.1 697.7,433.8 703.5,435.1 713.5,438 736.4,446.1 746.5,449.2 757.9,452.2 770.8,454.6 785.2,456.2 800.9,457 821,457.5 856.8,457.6" fill="none" stroke="#0808ee" stroke-width="2.5" stroke-linejoin="round"/><text x="504.1" y="465.59" text-anchor="end" font-size="22" font-family='"Liberation Sans", Arial, Helvetica, sans-serif'>0.0</text><text x="504.1" y="372.3" text-anchor="end" font-size="22" font-family='"Liberation Sans", Arial, Helvetica, sans-serif'>0.1</text><text x="519.3" y="345.96" font-size="22.8" font-family='"Liberation Sans", Arial, Helvetica, sans-serif'>1 μM GDP</text><text x="519.3" y="373.96" font-size="22.8" font-family='"Liberation Sans", Arial, Helvetica, sans-serif'>n = 447</text><line x1="547.29" y1="457.59" x2="547.29" y2="597.52" stroke="#a0a0a0" stroke-width="1.8"/><line x1="581.68" y1="597.52" x2="581.68" y2="457.59" stroke="#8c8c8c" stroke-width="1.5" stroke-dasharray="6.75,5.5"/><line x1="616.07" y1="457.59" x2="616.07" y2="597.52" stroke="#a0a0a0" stroke-width="1.8"/><line x1="650.46" y1="597.52" x2="650.46" y2="457.59" stroke="#8c8c8c" stroke-width="1.5" stroke-dasharray="6.75,5.5"/><line x1="684.85" y1="457.59" x2="684.85" y2="597.52" stroke="#a0a0a0" stroke-width="1.8"/><line x1="719.24" y1="597.52" x2="719.24" y2="457.59" stroke="#8c8c8c" stroke-width="1.5" stroke-dasharray="6.75,5.5"/><line x1="753.63" y1="457.59" x2="753.63" y2="597.52" stroke="#a0a0a0" stroke-width="1.8"/><line x1="788.02" y1="597.52" x2="788.02" y2="457.59" stroke="#8c8c8c" stroke-width="1.5" stroke-dasharray="6.75,5.5"/><line x1="822.41" y1="457.59" x2="822.41" y2="597.52" stroke="#a0a0a0" stroke-width="1.8"/><rect x="513.9" y="458.59" width="114.89" height="63.3" fill="#fff"/><path d="M571.5 597.5V596.7H576.4V597.5zM581.8 597.5V595.9H586.7V597.5zM592.1 597.5V594.6H597.1V597.5zM602.4 597.5V592.7H607.4V597.5zM612.7 597.5V591.1H617.7V597.5zM623 597.5V588.2H628V597.5zM633.4 597.5V587.5H638.3V597.5zM643.7 597.5V584.3H648.6V597.5zM654 597.5V581H659V597.5zM664.3 597.5V578.7H669.3V597.5zM674.6 597.5V575.8H679.6V597.5zM684.9 597.5V575.2H689.9V597.5zM695.3 597.5V574.5H700.2V597.5zM705.6 597.5V575.2H710.5V597.5zM715.9 597.5V581H720.9V597.5zM726.2 597.5V584.9H731.2V597.5zM736.5 597.5V590.1H741.5V597.5zM746.9 597.5V592.1H751.8V597.5zM757.2 597.5V594.6H762.1V597.5zM767.5 597.5V596.3H772.4V597.5z" fill="#a5dca0"/><path d="M679.8 597.5V595.6H684.7V597.5zM690.1 597.5V593.1H695.1V597.5zM700.4 597.5V591.4H705.4V597.5zM710.7 597.5V579.7H715.7V597.5zM721.1 597.5V563.5H726V597.5zM731.4 597.5V550.5H736.3V597.5zM741.7 597.5V531H746.7V597.5zM752 597.5V514.5H757V597.5zM762.3 597.5V511.9H767.3V597.5zM772.6 597.5V523.2H777.6V597.5zM783 597.5V537.9H787.9V597.5zM793.3 597.5V550.5H798.2V597.5zM803.6 597.5V563.5H808.6V597.5zM813.9 597.5V574.3H818.9V597.5zM824.2 597.5V580.7H829.2V597.5zM834.5 597.5V585.6H839.5V597.5zM844.9 597.5V589.5H849.8V597.5zM855.2 597.5V592.1H856.7V597.5z" fill="#fdd0a0"/><path d="M571.5 597.5V596.7H576.4V597.5M581.8 597.5V595.9H586.7V597.5M592.1 597.5V594.6H597.1V597.5M602.4 597.5V592.7H607.4V597.5M612.7 597.5V591.1H617.7V597.5M623 597.5V588.2H628V597.5M633.4 597.5V587.5H638.3V597.5M643.7 597.5V584.3H648.6V597.5M654 597.5V581H659V597.5M664.3 597.5V578.7H669.3V597.5M674.6 597.5V575.8H679.6V597.5M679.8 597.5V595.6H684.7V597.5M684.9 597.5V575.2H689.9V597.5M690.1 597.5V593.1H695.1V597.5M695.3 597.5V574.5H700.2V597.5M700.4 597.5V591.4H705.4V597.5M705.6 597.5V575.2H710.5V597.5M710.7 597.5V579.7H715.7V597.5M715.9 597.5V581H720.9V597.5M721.1 597.5V563.5H726V597.5M726.2 597.5V584.9H731.2V597.5M731.4 597.5V550.5H736.3V597.5M736.5 597.5V590.1H741.5V597.5M741.7 597.5V531H746.7V597.5M746.9 597.5V592.1H751.8V597.5M752 597.5V514.5H757V597.5M757.2 597.5V594.6H762.1V597.5M762.3 597.5V511.9H767.3V597.5M767.5 597.5V596.3H772.4V597.5M772.6 597.5V523.2H777.6V597.5M783 597.5V537.9H787.9V597.5M793.3 597.5V550.5H798.2V597.5M803.6 597.5V563.5H808.6V597.5M813.9 597.5V574.3H818.9V597.5M824.2 597.5V580.7H829.2V597.5M834.5 597.5V585.6H839.5V597.5M844.9 597.5V589.5H849.8V597.5M855.2 597.5V592.1H856.7V597.5" fill="none" stroke="#1a1a1a" stroke-width="1.25"/><path d="M573.9 596.7v-0.9m-1.5 0h3M584.3 595.9v-0.9m-1.5 0h3M594.6 594.6v-1m-1.5 0h3M604.9 592.7v-1.1m-1.5 0h3M615.2 591.1v-1.1m-1.5 0h3M625.5 588.2v-1.3m-1.5 0h3M635.8 587.5v-1.3m-1.5 0h3M646.2 584.3v-1.5m-1.5 0h3M656.5 581v-1.6m-1.5 0h3M666.8 578.7v-1.7m-1.5 0h3M677.1 575.8v-1.9m-1.5 0h3M682.3 595.6v-0.9m-1.5 0h3M687.4 575.2v-1.9m-1.5 0h3M692.6 593.1v-1.1m-1.5 0h3M697.7 574.5v-1.9m-1.5 0h3M702.9 591.4v-1.1m-1.5 0h3M708.1 575.2v-1.9m-1.5 0h3M713.2 579.7v-1.7m-1.5 0h3M718.4 581v-1.6m-1.5 0h3M723.5 563.5v-2.5m-1.5 0h3M728.7 584.9v-1.4m-1.5 0h3M733.9 550.5v-3.1m-1.5 0h3M739 590.1v-1.2m-1.5 0h3M744.2 531v-4m-1.5 0h3M749.3 592.1v-1.1m-1.5 0h3M754.5 514.5v-4.8m-1.5 0h3M759.6 594.6v-1m-1.5 0h3M764.8 511.9v-5m-1.5 0h3M770 596.3v-0.9m-1.5 0h3M775.1 523.2v-4.4m-1.5 0h3M785.4 537.9v-3.7m-1.5 0h3M795.8 550.5v-3.1m-1.5 0h3M806.1 563.5v-2.5m-1.5 0h3M816.4 574.3v-2m-1.5 0h3M826.7 580.7v-1.6m-1.5 0h3M837 585.6v-1.4m-1.5 0h3M847.3 589.5v-1.2m-1.5 0h3M855.9 592.1v-1.1m-1.5 0h3" stroke="#aaa" stroke-width="0.8" fill="none"/><polyline points="512.9,597.5 633.3,597.5 657.6,597.3 667.7,596.9 676.3,596.1 683.4,594.9 689.1,593.4 694.9,591.2 700.6,588.1 706.3,584 712.1,578.7 717.8,572.2 723.5,564.6 729.3,556.1 742.2,536 746.5,530 749.3,526.4 753.6,521.8 757.9,518.4 760.8,517 762.2,516.5 765.1,516 768,516.2 769.4,516.6 772.3,517.8 773.7,518.6 776.6,520.8 780.9,525 783.7,528.5 788,534.3 803.8,558.7 809.5,567 813.8,572.6 816.7,575.9 819.5,579 823.8,583 826.7,585.4 831,588.3 833.9,589.9 838.2,592 842.5,593.5 846.8,594.7 851.1,595.6 856.8,596.3" fill="none" stroke="#ee1010" stroke-width="2.5" stroke-linejoin="round"/><polyline points="512.9,597.5 547.3,597.4 567.4,597.1 583.1,596.2 596,594.8 607.5,592.6 618.9,589.6 629,586.2 649,578.7 659.1,575.5 664.8,574.2 669.1,573.5 673.4,573.1 677.7,573 682,573.2 686.3,573.6 690.6,574.4 694.9,575.4 704.9,578.5 726.4,586.5 736.4,589.8 747.9,592.8 753.6,594 760.8,595.1 773.7,596.4 790.9,597.2 812.4,597.5 856.8,597.5" fill="none" stroke="#0808ee" stroke-width="2.5" stroke-linejoin="round"/><text x="504.1" y="605.52" text-anchor="end" font-size="22" font-family='"Liberation Sans", Arial, Helvetica, sans-serif'>0.0</text><text x="504.1" y="512.23" text-anchor="end" font-size="22" font-family='"Liberation Sans", Arial, Helvetica, sans-serif'>0.1</text><text x="519.3" y="485.89" font-size="22.8" font-family='"Liberation Sans", Arial, Helvetica, sans-serif'>2 μM GDP</text><text x="519.3" y="513.89" font-size="22.8" font-family='"Liberation Sans", Arial, Helvetica, sans-serif'>n = 401</text><line x1="547.29" y1="597.52" x2="547.29" y2="737.45" stroke="#a0a0a0" stroke-width="1.8"/><line x1="581.68" y1="737.45" x2="581.68" y2="597.52" stroke="#8c8c8c" stroke-width="1.5" stroke-dasharray="6.75,5.5"/><line x1="616.07" y1="597.52" x2="616.07" y2="737.45" stroke="#a0a0a0" stroke-width="1.8"/><line x1="650.46" y1="737.45" x2="650.46" y2="597.52" stroke="#8c8c8c" stroke-width="1.5" stroke-dasharray="6.75,5.5"/><line x1="684.85" y1="597.52" x2="684.85" y2="737.45" stroke="#a0a0a0" stroke-width="1.8"/><line x1="719.24" y1="737.45" x2="719.24" y2="597.52" stroke="#8c8c8c" stroke-width="1.5" stroke-dasharray="6.75,5.5"/><line x1="753.63" y1="597.52" x2="753.63" y2="737.45" stroke="#a0a0a0" stroke-width="1.8"/><line x1="788.02" y1="737.45" x2="788.02" y2="597.52" stroke="#8c8c8c" stroke-width="1.5" stroke-dasharray="6.75,5.5"/><line x1="822.41" y1="597.52" x2="822.41" y2="737.45" stroke="#a0a0a0" stroke-width="1.8"/><rect x="513.9" y="598.52" width="127.57" height="63.3" fill="#fff"/><path d="M571.5 737.5V736.2H576.4V737.5zM581.8 737.5V735.9H586.7V737.5zM592.1 737.5V735.3H597.1V737.5zM602.4 737.5V734H607.4V737.5zM612.7 737.5V729.4H617.7V737.5zM623 737.5V729.4H628V737.5zM633.4 737.5V726.2H638.3V737.5zM643.7 737.5V724.2H648.6V737.5zM654 737.5V722H659V737.5zM664.3 737.5V719.4H669.3V737.5zM674.6 737.5V716.5H679.6V737.5zM684.9 737.5V714.5H689.9V737.5zM695.3 737.5V711.6H700.2V737.5zM705.6 737.5V713.5H710.5V737.5zM715.9 737.5V717.1H720.9V737.5zM726.2 737.5V724.9H731.2V737.5zM736.5 737.5V729.4H741.5V737.5zM746.9 737.5V732H751.8V737.5zM757.2 737.5V734.6H762.1V737.5zM767.5 737.5V733.7H772.4V737.5zM777.8 737.5V735.1H782.8V737.5zM788.1 737.5V736H793.1V737.5zM798.4 737.5V736.7H803.4V737.5z" fill="#a5dca0"/><path d="M669.5 737.5V736.6H674.4V737.5zM679.8 737.5V735.4H684.7V737.5zM690.1 737.5V732.6H695.1V737.5zM700.4 737.5V729.4H705.4V737.5zM710.7 737.5V717.8H715.7V737.5zM721.1 737.5V702.6H726V737.5zM731.4 737.5V684.6H736.3V737.5zM741.7 737.5V666.7H746.7V737.5zM752 737.5V655.4H757V737.5zM762.3 737.5V650.6H767.3V737.5zM772.6 737.5V660.6H777.6V737.5zM783 737.5V673.2H787.9V737.5zM793.3 737.5V688.8H798.2V737.5zM803.6 737.5V698.9H808.6V737.5zM813.9 737.5V710.6H818.9V737.5zM824.2 737.5V718.4H829.2V737.5zM834.5 737.5V724.2H839.5V737.5zM844.9 737.5V727.5H849.8V737.5zM855.2 737.5V730.7H856.7V737.5z" fill="#fdd0a0"/><path d="M571.5 737.5V736.2H576.4V737.5M581.8 737.5V735.9H586.7V737.5M592.1 737.5V735.3H597.1V737.5M602.4 737.5V734H607.4V737.5M612.7 737.5V729.4H617.7V737.5M623 737.5V729.4H628V737.5M633.4 737.5V726.2H638.3V737.5M643.7 737.5V724.2H648.6V737.5M654 737.5V722H659V737.5M664.3 737.5V719.4H669.3V737.5M669.5 737.5V736.6H674.4V737.5M674.6 737.5V716.5H679.6V737.5M679.8 737.5V735.4H684.7V737.5M684.9 737.5V714.5H689.9V737.5M690.1 737.5V732.6H695.1V737.5M695.3 737.5V711.6H700.2V737.5M700.4 737.5V729.4H705.4V737.5M705.6 737.5V713.5H710.5V737.5M710.7 737.5V717.8H715.7V737.5M715.9 737.5V717.1H720.9V737.5M721.1 737.5V702.6H726V737.5M726.2 737.5V724.9H731.2V737.5M731.4 737.5V684.6H736.3V737.5M736.5 737.5V729.4H741.5V737.5M741.7 737.5V666.7H746.7V737.5M746.9 737.5V732H751.8V737.5M752 737.5V655.4H757V737.5M757.2 737.5V734.6H762.1V737.5M762.3 737.5V650.6H767.3V737.5M767.5 737.5V733.7H772.4V737.5M772.6 737.5V660.6H777.6V737.5M777.8 737.5V735.1H782.8V737.5M783 737.5V673.2H787.9V737.5M788.1 737.5V736H793.1V737.5M793.3 737.5V688.8H798.2V737.5M798.4 737.5V736.7H803.4V737.5M803.6 737.5V698.9H808.6V737.5M813.9 737.5V710.6H818.9V737.5M824.2 737.5V718.4H829.2V737.5M834.5 737.5V724.2H839.5V737.5M844.9 737.5V727.5H849.8V737.5M855.2 737.5V730.7H856.7V737.5" fill="none" stroke="#1a1a1a" stroke-width="1.25"/><path d="M573.9 736.2v-0.9m-1.5 0h3M584.3 735.9v-0.9m-1.5 0h3M594.6 735.3v-0.9m-1.5 0h3M604.9 734v-1m-1.5 0h3M615.2 729.4v-1.2m-1.5 0h3M625.5 729.4v-1.2m-1.5 0h3M635.8 726.2v-1.4m-1.5 0h3M646.2 724.2v-1.5m-1.5 0h3M656.5 722v-1.6m-1.5 0h3M666.8 719.4v-1.7m-1.5 0h3M672 736.6v-0.9m-1.5 0h3M677.1 716.5v-1.8m-1.5 0h3M682.3 735.4v-0.9m-1.5 0h3M687.4 714.5v-1.9m-1.5 0h3M692.6 732.6v-1.1m-1.5 0h3M697.7 711.6v-2.1m-1.5 0h3M702.9 729.4v-1.2m-1.5 0h3M708.1 713.5v-2m-1.5 0h3M713.2 717.8v-1.8m-1.5 0h3M718.4 717.1v-1.8m-1.5 0h3M723.5 702.6v-2.5m-1.5 0h3M728.7 724.9v-1.4m-1.5 0h3M733.9 684.6v-3.4m-1.5 0h3M739 729.4v-1.2m-1.5 0h3M744.2 666.7v-4.2m-1.5 0h3M749.3 732v-1.1m-1.5 0h3M754.5 655.4v-4.8m-1.5 0h3M759.6 734.6v-1m-1.5 0h3M764.8 650.6v-5m-1.5 0h3M770 733.7v-1m-1.5 0h3M775.1 660.6v-4.5m-1.5 0h3M780.3 735.1v-1m-1.5 0h3M785.4 673.2v-3.9m-1.5 0h3M790.6 736v-0.9m-1.5 0h3M795.8 688.8v-3.2m-1.5 0h3M800.9 736.7v-0.9m-1.5 0h3M806.1 698.9v-2.7m-1.5 0h3M816.4 710.6v-2.1m-1.5 0h3M826.7 718.4v-1.8m-1.5 0h3M837 724.2v-1.5m-1.5 0h3M847.3 727.5v-1.3m-1.5 0h3M855.9 730.7v-1.2m-1.5 0h3" stroke="#aaa" stroke-width="0.8" fill="none"/><polyline points="512.9,737.4 633.3,737.4 657.6,737.2 667.7,736.8 676.3,735.9 683.4,734.6 689.1,733 694.9,730.6 700.6,727.3 706.3,723 712.1,717.5 716.4,712.6 722.1,705 727.8,696.5 742.2,673.9 746.5,667.8 749.3,664.1 753.6,659.5 757.9,656.1 760.8,654.7 762.2,654.2 765.1,653.7 768,653.9 769.4,654.3 772.3,655.5 773.7,656.3 776.6,658.5 780.9,662.8 785.2,668.2 789.5,674.3 803.8,696.9 810.9,707.4 815.2,712.9 818.1,716.2 823.8,722 826.7,724.4 831,727.5 833.9,729.2 838.2,731.4 842.5,733 846.8,734.3 851.1,735.3 856.8,736.1" fill="none" stroke="#ee1010" stroke-width="2.5" stroke-linejoin="round"/><polyline points="512.9,737.4 544.4,737.3 564.5,736.8 580.2,735.9 594.6,734.4 607.5,732.2 618.9,729.5 630.4,726.2 653.3,718.9 664.8,715.9 670.5,714.7 676.3,713.9 682,713.5 686.3,713.4 690.6,713.5 696.3,714 702,714.9 707.8,716.1 719.2,719.2 740.7,726 752.2,729.3 763.7,732 776.6,734.3 790.9,735.9 806.6,736.8 826.7,737.3 856.8,737.4" fill="none" stroke="#0808ee" stroke-width="2.5" stroke-linejoin="round"/><text x="504.1" y="745.45" text-anchor="end" font-size="22" font-family='"Liberation Sans", Arial, Helvetica, sans-serif'>0.0</text><text x="504.1" y="652.16" text-anchor="end" font-size="22" font-family='"Liberation Sans", Arial, Helvetica, sans-serif'>0.1</text><text x="519.3" y="625.82" font-size="22.8" font-family='"Liberation Sans", Arial, Helvetica, sans-serif'>10 μM GDP</text><text x="519.3" y="653.82" font-size="22.8" font-family='"Liberation Sans", Arial, Helvetica, sans-serif'>n = 421</text><line x1="547.29" y1="737.45" x2="547.29" y2="877.38" stroke="#a0a0a0" stroke-width="1.8"/><line x1="581.68" y1="877.38" x2="581.68" y2="737.45" stroke="#8c8c8c" stroke-width="1.5" stroke-dasharray="6.75,5.5"/><line x1="616.07" y1="737.45" x2="616.07" y2="877.38" stroke="#a0a0a0" stroke-width="1.8"/><line x1="650.46" y1="877.38" x2="650.46" y2="737.45" stroke="#8c8c8c" stroke-width="1.5" stroke-dasharray="6.75,5.5"/><line x1="684.85" y1="737.45" x2="684.85" y2="877.38" stroke="#a0a0a0" stroke-width="1.8"/><line x1="719.24" y1="877.38" x2="719.24" y2="737.45" stroke="#8c8c8c" stroke-width="1.5" stroke-dasharray="6.75,5.5"/><line x1="753.63" y1="737.45" x2="753.63" y2="877.38" stroke="#a0a0a0" stroke-width="1.8"/><line x1="788.02" y1="877.38" x2="788.02" y2="737.45" stroke="#8c8c8c" stroke-width="1.5" stroke-dasharray="6.75,5.5"/><line x1="822.41" y1="737.45" x2="822.41" y2="877.38" stroke="#a0a0a0" stroke-width="1.8"/><rect x="513.9" y="738.45" width="127.57" height="63.3" fill="#fff"/><path d="M571.5 877.4V876.2H576.4V877.4zM581.8 877.4V872.7H586.7V877.4zM592.1 877.4V872.1H597.1V877.4zM602.4 877.4V871.1H607.4V877.4zM612.7 877.4V868.5H617.7V877.4zM623 877.4V865.6H628V877.4zM633.4 877.4V865.6H638.3V877.4zM643.7 877.4V863H648.6V877.4zM654 877.4V858.7H659V877.4zM664.3 877.4V856.1H669.3V877.4zM674.6 877.4V853H679.6V877.4zM684.9 877.4V851.9H689.9V877.4zM695.3 877.4V849.3H700.2V877.4zM705.6 877.4V849.3H710.5V877.4zM715.9 877.4V857.1H720.9V877.4zM726.2 877.4V864.9H731.2V877.4zM736.5 877.4V869.5H741.5V877.4zM746.9 877.4V872.1H751.8V877.4zM757.2 877.4V874.7H762.1V877.4zM767.5 877.4V874.2H772.4V877.4zM777.8 877.4V875.5H782.8V877.4zM788.1 877.4V876.3H793.1V877.4z" fill="#a5dca0"/><path d="M679.8 877.4V875.5H684.7V877.4zM690.1 877.4V872.9H695.1V877.4zM700.4 877.4V871.4H705.4V877.4zM710.7 877.4V855.8H715.7V877.4zM721.1 877.4V843.5H726V877.4zM731.4 877.4V828.8H736.3V877.4zM741.7 877.4V811.9H746.7V877.4zM752 877.4V797.6H757V877.4zM762.3 877.4V791.9H767.3V877.4zM772.6 877.4V798H777.6V877.4zM783 877.4V814.2H787.9V877.4zM793.3 877.4V829.2H798.2V877.4zM803.6 877.4V843.9H808.6V877.4zM813.9 877.4V851.7H818.9V877.4zM824.2 877.4V860.7H829.2V877.4zM834.5 877.4V866.2H839.5V877.4zM844.9 877.4V868.5H849.8V877.4zM855.2 877.4V871.4H856.7V877.4z" fill="#fdd0a0"/><path d="M571.5 877.4V876.2H576.4V877.4M581.8 877.4V872.7H586.7V877.4M592.1 877.4V872.1H597.1V877.4M602.4 877.4V871.1H607.4V877.4M612.7 877.4V868.5H617.7V877.4M623 877.4V865.6H628V877.4M633.4 877.4V865.6H638.3V877.4M643.7 877.4V863H648.6V877.4M654 877.4V858.7H659V877.4M664.3 877.4V856.1H669.3V877.4M674.6 877.4V853H679.6V877.4M679.8 877.4V875.5H684.7V877.4M684.9 877.4V851.9H689.9V877.4M690.1 877.4V872.9H695.1V877.4M695.3 877.4V849.3H700.2V877.4M700.4 877.4V871.4H705.4V877.4M705.6 877.4V849.3H710.5V877.4M710.7 877.4V855.8H715.7V877.4M715.9 877.4V857.1H720.9V877.4M721.1 877.4V843.5H726V877.4M726.2 877.4V864.9H731.2V877.4M731.4 877.4V828.8H736.3V877.4M736.5 877.4V869.5H741.5V877.4M741.7 877.4V811.9H746.7V877.4M746.9 877.4V872.1H751.8V877.4M752 877.4V797.6H757V877.4M757.2 877.4V874.7H762.1V877.4M762.3 877.4V791.9H767.3V877.4M767.5 877.4V874.2H772.4V877.4M772.6 877.4V798H777.6V877.4M777.8 877.4V875.5H782.8V877.4M783 877.4V814.2H787.9V877.4M788.1 877.4V876.3H793.1V877.4M793.3 877.4V829.2H798.2V877.4M803.6 877.4V843.9H808.6V877.4M813.9 877.4V851.7H818.9V877.4M824.2 877.4V860.7H829.2V877.4M834.5 877.4V866.2H839.5V877.4M844.9 877.4V868.5H849.8V877.4M855.2 877.4V871.4H856.7V877.4" fill="none" stroke="#1a1a1a" stroke-width="1.25"/><path d="M573.9 876.2v-0.9m-1.5 0h3M584.3 872.7v-1.1m-1.5 0h3M594.6 872.1v-1.1m-1.5 0h3M604.9 871.1v-1.1m-1.5 0h3M615.2 868.5v-1.3m-1.5 0h3M625.5 865.6v-1.4m-1.5 0h3M635.8 865.6v-1.4m-1.5 0h3M646.2 863v-1.5m-1.5 0h3M656.5 858.7v-1.7m-1.5 0h3M666.8 856.1v-1.9m-1.5 0h3M677.1 853v-2m-1.5 0h3M682.3 875.5v-0.9m-1.5 0h3M687.4 851.9v-2.1m-1.5 0h3M692.6 872.9v-1.1m-1.5 0h3M697.7 849.3v-2.2m-1.5 0h3M702.9 871.4v-1.1m-1.5 0h3M708.1 849.3v-2.2m-1.5 0h3M713.2 855.8v-1.9m-1.5 0h3M718.4 857.1v-1.8m-1.5 0h3M723.5 843.5v-2.5m-1.5 0h3M728.7 864.9v-1.4m-1.5 0h3M733.9 828.8v-3.2m-1.5 0h3M739 869.5v-1.2m-1.5 0h3M744.2 811.9v-4m-1.5 0h3M749.3 872.1v-1.1m-1.5 0h3M754.5 797.6v-4.7m-1.5 0h3M759.6 874.7v-1m-1.5 0h3M764.8 791.9v-4.9m-1.5 0h3M770 874.2v-1m-1.5 0h3M775.1 798v-4.7m-1.5 0h3M780.3 875.5v-0.9m-1.5 0h3M785.4 814.2v-3.9m-1.5 0h3M790.6 876.3v-0.9m-1.5 0h3M795.8 829.2v-3.2m-1.5 0h3M806.1 843.9v-2.4m-1.5 0h3M816.4 851.7v-2.1m-1.5 0h3M826.7 860.7v-1.6m-1.5 0h3M837 866.2v-1.4m-1.5 0h3M847.3 868.5v-1.3m-1.5 0h3M855.9 871.4v-1.1m-1.5 0h3" stroke="#aaa" stroke-width="0.8" fill="none"/><polyline points="512.9,877.4 633.3,877.4 657.6,877.2 667.7,876.8 676.3,876 683.4,874.8 689.1,873.2 694.9,871 700.6,867.8 706.3,863.6 712.1,858.3 717.8,851.7 723.5,843.9 729.3,835.3 742.2,814.9 746.5,808.8 749.3,805.1 753.6,800.4 757.9,797 760.8,795.5 762.2,795 765.1,794.6 768,794.8 769.4,795.1 772.3,796.4 773.7,797.2 776.6,799.4 780.9,803.7 783.7,807.2 788,813.2 803.8,837.9 809.5,846.3 813.8,852 816.7,855.4 819.5,858.6 823.8,862.7 826.7,865 831,868 833.9,869.7 838.2,871.7 842.5,873.3 846.8,874.5 851.1,875.4 856.8,876.2" fill="none" stroke="#ee1010" stroke-width="2.5" stroke-linejoin="round"/><polyline points="512.9,877.4 545.9,877.2 565.9,876.8 581.7,875.9 588.8,875.1 596,874.2 603.2,872.9 608.9,871.6 620.4,868.5 630.4,865 653.3,856.3 663.4,853.1 669.1,851.7 674.8,850.7 680.6,850.1 684.8,850.1 689.1,850.2 694.9,850.9 699.2,851.7 704.9,853.1 714.9,856.3 737.9,865 747.9,868.4 759.4,871.6 765.1,872.9 772.3,874.1 779.4,875.1 786.6,875.9 802.3,876.8 822.4,877.2 856.8,877.4" fill="none" stroke="#0808ee" stroke-width="2.5" stroke-linejoin="round"/><text x="504.1" y="885.38" text-anchor="end" font-size="22" font-family='"Liberation Sans", Arial, Helvetica, sans-serif'>0.0</text><text x="504.1" y="792.09" text-anchor="end" font-size="22" font-family='"Liberation Sans", Arial, Helvetica, sans-serif'>0.1</text><text x="519.3" y="765.75" font-size="22.8" font-family='"Liberation Sans", Arial, Helvetica, sans-serif'>30 μM GDP</text><text x="519.3" y="793.75" font-size="22.8" font-family='"Liberation Sans", Arial, Helvetica, sans-serif'>n = 501</text><line x1="512.6" y1="177.73" x2="856.8" y2="177.73" stroke="#000018" stroke-width="2.4" stroke-opacity="0.72"/><path d="M547.29 177.73v4M581.68 177.73v4M616.07 177.73v4M650.46 177.73v4M684.85 177.73v4M719.24 177.73v4M753.63 177.73v4M788.02 177.73v4M822.41 177.73v4M512.6 131.09h-4.5M856.8 131.09h-4.5M512.6 84.44h-4.5M856.8 84.44h-4.5M512.6 177.73h-4.5" stroke="#111" stroke-width="1.5" fill="none"/><line x1="512.6" y1="317.66" x2="856.8" y2="317.66" stroke="#000018" stroke-width="2.4" stroke-opacity="0.72"/><path d="M547.29 317.66v4M581.68 317.66v4M616.07 317.66v4M650.46 317.66v4M684.85 317.66v4M719.24 317.66v4M753.63 317.66v4M788.02 317.66v4M822.41 317.66v4M512.6 271.02h-4.5M856.8 271.02h-4.5M512.6 224.37h-4.5M856.8 224.37h-4.5M512.6 317.66h-4.5" stroke="#111" stroke-width="1.5" fill="none"/><line x1="512.6" y1="457.59" x2="856.8" y2="457.59" stroke="#000018" stroke-width="2.4" stroke-opacity="0.72"/><path d="M547.29 457.59v4M581.68 457.59v4M616.07 457.59v4M650.46 457.59v4M684.85 457.59v4M719.24 457.59v4M753.63 457.59v4M788.02 457.59v4M822.41 457.59v4M512.6 410.95h-4.5M856.8 410.95h-4.5M512.6 364.3h-4.5M856.8 364.3h-4.5M512.6 457.59h-4.5" stroke="#111" stroke-width="1.5" fill="none"/><line x1="512.6" y1="597.52" x2="856.8" y2="597.52" stroke="#000018" stroke-width="2.4" stroke-opacity="0.72"/><path d="M547.29 597.52v4M581.68 597.52v4M616.07 597.52v4M650.46 597.52v4M684.85 597.52v4M719.24 597.52v4M753.63 597.52v4M788.02 597.52v4M822.41 597.52v4M512.6 550.88h-4.5M856.8 550.88h-4.5M512.6 504.23h-4.5M856.8 504.23h-4.5M512.6 597.52h-4.5" stroke="#111" stroke-width="1.5" fill="none"/><line x1="512.6" y1="737.45" x2="856.8" y2="737.45" stroke="#000018" stroke-width="2.4" stroke-opacity="0.72"/><path d="M547.29 737.45v4M581.68 737.45v4M616.07 737.45v4M650.46 737.45v4M684.85 737.45v4M719.24 737.45v4M753.63 737.45v4M788.02 737.45v4M822.41 737.45v4M512.6 690.81h-4.5M856.8 690.81h-4.5M512.6 644.16h-4.5M856.8 644.16h-4.5M512.6 737.45h-4.5" stroke="#111" stroke-width="1.5" fill="none"/><line x1="512.6" y1="877.38" x2="856.8" y2="877.38" stroke="#000018" stroke-width="2.4" stroke-opacity="0.72"/><path d="M547.29 877.38v4M581.68 877.38v4M616.07 877.38v4M650.46 877.38v4M684.85 877.38v4M719.24 877.38v4M753.63 877.38v4M788.02 877.38v4M822.41 877.38v4M512.6 830.74h-4.5M856.8 830.74h-4.5M512.6 784.09h-4.5M856.8 784.09h-4.5M512.6 877.38h-4.5" stroke="#111" stroke-width="1.5" fill="none"/><path d="M547.29 37.8v4M581.68 37.8v4M616.07 37.8v4M650.46 37.8v4M684.85 37.8v4M719.24 37.8v4M753.63 37.8v4M788.02 37.8v4M822.41 37.8v4M512.6 37.8h-4.5" stroke="#111" stroke-width="1.5" fill="none"/><path d="M512.6 881.38V37.8H856.8V877.38" stroke="#111" stroke-width="1.8" fill="none"/><line x1="650.46" y1="69.5" x2="650.46" y2="877.38" stroke="#fff" stroke-width="4"/><line x1="684.85" y1="38.8" x2="684.85" y2="877.38" stroke="#fff" stroke-width="4"/><line x1="650.46" y1="69.5" x2="650.46" y2="877.38" stroke="#00893f" stroke-width="3.2" stroke-dasharray="13.7,9.9" stroke-dashoffset="6.2"/><line x1="684.85" y1="37.8" x2="684.85" y2="877.38" stroke="#0a14e6" stroke-width="3.2" stroke-dasharray="13.7,9.9" stroke-dashoffset="21.9"/><text x="547.29" y="903.88" text-anchor="middle" font-size="22.5" font-family='"Liberation Sans", Arial, Helvetica, sans-serif'>0.2</text><text x="616.07" y="903.88" text-anchor="middle" font-size="22.5" font-family='"Liberation Sans", Arial, Helvetica, sans-serif'>0.4</text><text x="684.85" y="903.88" text-anchor="middle" font-size="22.5" font-family='"Liberation Sans", Arial, Helvetica, sans-serif'>0.6</text><text x="753.63" y="903.88" text-anchor="middle" font-size="22.5" font-family='"Liberation Sans", Arial, Helvetica, sans-serif'>0.8</text><text x="822.41" y="903.88" text-anchor="middle" font-size="22.5" font-family='"Liberation Sans", Arial, Helvetica, sans-serif'>1.0</text><text x="686.7" y="940.5" text-anchor="middle" font-size="28.4" font-family='"Liberation Sans", Arial, Helvetica, sans-serif'>FRET</text><text x="683.7" y="25" text-anchor="middle" font-size="33.3" font-family='"Liberation Sans", Arial, Helvetica, sans-serif'>PZM21</text></g>
<g><line x1="967.29" y1="38.2" x2="967.29" y2="179" stroke="#a0a0a0" stroke-width="1.8"/><line x1="1001.68" y1="179" x2="1001.68" y2="38.2" stroke="#8c8c8c" stroke-width="1.5" stroke-dasharray="6.75,5.5"/><line x1="1036.07" y1="38.2" x2="1036.07" y2="179" stroke="#a0a0a0" stroke-width="1.8"/><line x1="1070.46" y1="179" x2="1070.46" y2="38.2" stroke="#8c8c8c" stroke-width="1.5" stroke-dasharray="6.75,5.5"/><line x1="1104.85" y1="38.2" x2="1104.85" y2="179" stroke="#a0a0a0" stroke-width="1.8"/><line x1="1139.24" y1="179" x2="1139.24" y2="38.2" stroke="#8c8c8c" stroke-width="1.5" stroke-dasharray="6.75,5.5"/><line x1="1173.63" y1="38.2" x2="1173.63" y2="179" stroke="#a0a0a0" stroke-width="1.8"/><line x1="1208.02" y1="179" x2="1208.02" y2="38.2" stroke="#8c8c8c" stroke-width="1.5" stroke-dasharray="6.75,5.5"/><line x1="1242.41" y1="38.2" x2="1242.41" y2="179" stroke="#a0a0a0" stroke-width="1.8"/><rect x="933.9" y="39.2" width="146.58" height="63.3" fill="#fff"/><path d="M981.1 179V178.2H986.1V179zM991.5 179V177.5H996.4V179zM1001.8 179V175.7H1006.7V179zM1012.1 179V174.7H1017.1V179zM1022.4 179V172.4H1027.4V179zM1032.7 179V172.4H1037.7V179zM1043 179V169.8H1048V179zM1053.4 179V166.6H1058.3V179zM1063.7 179V164H1068.6V179zM1074 179V162H1079V179zM1084.3 179V159.4H1089.3V179zM1094.6 179V156.6H1099.6V179zM1104.9 179V155.5H1109.9V179zM1115.3 179V154.2H1120.2V179zM1125.6 179V152.9H1130.5V179zM1135.9 179V154.2H1140.9V179zM1146.2 179V164.6H1151.2V179zM1156.5 179V169.8H1161.5V179zM1166.9 179V172.4H1171.8V179zM1177.2 179V175H1182.1V179zM1187.5 179V175H1192.4V179zM1197.8 179V176.5H1202.8V179zM1208.1 179V177.5H1213.1V179zM1218.4 179V178.2H1223.4V179z" fill="#a5dca0"/><path d="M1099.8 179V178.2H1104.8V179zM1110.1 179V176.8H1115.1V179zM1120.4 179V172.4H1125.4V179zM1130.7 179V167.2H1135.7V179zM1141.1 179V151.6H1146V179zM1151.4 179V136.3H1156.3V179zM1161.7 179V114.6H1166.7V179zM1172 179V95.8H1177V179zM1182.3 179V85.7H1187.3V179zM1192.6 179V92.6H1197.6V179zM1203 179V107.7H1207.9V179zM1213.3 179V128H1218.2V179zM1223.6 179V142.8H1228.6V179zM1233.9 179V151.6H1238.9V179zM1244.2 179V158.8H1249.2V179zM1254.5 179V166.6H1259.5V179zM1264.9 179V168.8H1269.8V179zM1275.2 179V171.4H1276.7V179z" fill="#fdd0a0"/><path d="M981.1 179V178.2H986.1V179M991.5 179V177.5H996.4V179M1001.8 179V175.7H1006.7V179M1012.1 179V174.7H1017.1V179M1022.4 179V172.4H1027.4V179M1032.7 179V172.4H1037.7V179M1043 179V169.8H1048V179M1053.4 179V166.6H1058.3V179M1063.7 179V164H1068.6V179M1074 179V162H1079V179M1084.3 179V159.4H1089.3V179M1094.6 179V156.6H1099.6V179M1099.8 179V178.2H1104.8V179M1104.9 179V155.5H1109.9V179M1110.1 179V176.8H1115.1V179M1115.3 179V154.2H1120.2V179M1120.4 179V172.4H1125.4V179M1125.6 179V152.9H1130.5V179M1130.7 179V167.2H1135.7V179M1135.9 179V154.2H1140.9V179M1141.1 179V151.6H1146V179M1146.2 179V164.6H1151.2V179M1151.4 179V136.3H1156.3V179M1156.5 179V169.8H1161.5V179M1161.7 179V114.6H1166.7V179M1166.9 179V172.4H1171.8V179M1172 179V95.8H1177V179M1177.2 179V175H1182.1V179M1182.3 179V85.7H1187.3V179M1187.5 179V175H1192.4V179M1192.6 179V92.6H1197.6V179M1197.8 179V176.5H1202.8V179M1203 179V107.7H1207.9V179M1208.1 179V177.5H1213.1V179M1213.3 179V128H1218.2V179M1218.4 179V178.2H1223.4V179M1223.6 179V142.8H1228.6V179M1233.9 179V151.6H1238.9V179M1244.2 179V158.8H1249.2V179M1254.5 179V166.6H1259.5V179M1264.9 179V168.8H1269.8V179M1275.2 179V171.4H1276.7V179" fill="none" stroke="#1a1a1a" stroke-width="1.25"/><path d="M983.6 178.2v-0.9m-1.5 0h3M993.9 177.5v-0.9m-1.5 0h3M1004.3 175.7v-1m-1.5 0h3M1014.6 174.7v-1m-1.5 0h3M1024.9 172.4v-1.2m-1.5 0h3M1035.2 172.4v-1.2m-1.5 0h3M1045.5 169.8v-1.3m-1.5 0h3M1055.8 166.6v-1.4m-1.5 0h3M1066.2 164v-1.6m-1.5 0h3M1076.5 162v-1.7m-1.5 0h3M1086.8 159.4v-1.8m-1.5 0h3M1097.1 156.6v-1.9m-1.5 0h3M1102.3 178.2v-0.9m-1.5 0h3M1107.4 155.5v-2m-1.5 0h3M1112.6 176.8v-1m-1.5 0h3M1117.7 154.2v-2m-1.5 0h3M1122.9 172.4v-1.2m-1.5 0h3M1128.1 152.9v-2.1m-1.5 0h3M1133.2 167.2v-1.4m-1.5 0h3M1138.4 154.2v-2m-1.5 0h3M1143.5 151.6v-2.2m-1.5 0h3M1148.7 164.6v-1.5m-1.5 0h3M1153.9 136.3v-2.9m-1.5 0h3M1159 169.8v-1.3m-1.5 0h3M1164.2 114.6v-3.9m-1.5 0h3M1169.3 172.4v-1.2m-1.5 0h3M1174.5 95.8v-4.8m-1.5 0h3M1179.6 175v-1m-1.5 0h3M1184.8 85.7v-5.3m-1.5 0h3M1190 175v-1m-1.5 0h3M1195.1 92.6v-5m-1.5 0h3M1200.3 176.5v-1m-1.5 0h3M1205.4 107.7v-4.3m-1.5 0h3M1210.6 177.5v-0.9m-1.5 0h3M1215.8 128v-3.3m-1.5 0h3M1220.9 178.2v-0.9m-1.5 0h3M1226.1 142.8v-2.6m-1.5 0h3M1236.4 151.6v-2.2m-1.5 0h3M1246.7 158.8v-1.8m-1.5 0h3M1257 166.6v-1.4m-1.5 0h3M1267.3 168.8v-1.3m-1.5 0h3M1275.9 171.4v-1.2m-1.5 0h3" stroke="#aaa" stroke-width="0.8" fill="none"/><polyline points="932.9,179 1063.3,179 1087.7,178.8 1097.7,178.4 1104.8,177.7 1112,176.4 1117.7,174.7 1123.5,172.2 1126.3,170.5 1129.2,168.6 1132.1,166.4 1134.9,163.8 1139.2,159.2 1145,151.8 1150.7,143 1155,135.7 1167.9,112.6 1172.2,105.6 1175.1,101.4 1179.4,96.2 1182.2,93.5 1183.7,92.4 1186.5,90.9 1188,90.4 1190.8,90.1 1193.7,90.6 1195.1,91.2 1198,92.9 1200.9,95.4 1205.2,100.4 1208,104.4 1212.3,111.3 1226.6,136.9 1232.4,146.4 1236.7,152.8 1239.5,156.5 1242.4,160 1245.3,163 1248.1,165.7 1252.4,169.1 1255.3,171 1259.6,173.2 1263.9,174.9 1268.2,176.2 1272.5,177.1 1276.8,177.7" fill="none" stroke="#ee1010" stroke-width="2.5" stroke-linejoin="round"/><polyline points="932.9,179 963,178.8 983.1,178.3 998.8,177.3 1013.1,175.7 1026,173.3 1037.5,170.5 1049,167 1071.9,159.3 1083.4,156.1 1089.1,154.9 1094.8,154 1100.6,153.5 1104.8,153.4 1109.1,153.5 1114.9,154 1120.6,154.9 1126.3,156.1 1137.8,159.3 1160.7,167 1172.2,170.5 1183.7,173.3 1196.6,175.7 1210.9,177.3 1226.6,178.3 1246.7,178.8 1276.8,179" fill="none" stroke="#0808ee" stroke-width="2.5" stroke-linejoin="round"/><text x="924.1" y="187" text-anchor="end" font-size="22" font-family='"Liberation Sans", Arial, Helvetica, sans-serif'>0.0</text><text x="924.1" y="93.13" text-anchor="end" font-size="22" font-family='"Liberation Sans", Arial, Helvetica, sans-serif'>0.1</text><text x="939.3" y="66.5" font-size="22.8" font-family='"Liberation Sans", Arial, Helvetica, sans-serif'>0.15 μM GDP</text><text x="939.3" y="94.5" font-size="22.8" font-family='"Liberation Sans", Arial, Helvetica, sans-serif'>n = 526</text><line x1="967.29" y1="179" x2="967.29" y2="319.8" stroke="#a0a0a0" stroke-width="1.8"/><line x1="1001.68" y1="319.8" x2="1001.68" y2="179" stroke="#8c8c8c" stroke-width="1.5" stroke-dasharray="6.75,5.5"/><line x1="1036.07" y1="179" x2="1036.07" y2="319.8" stroke="#a0a0a0" stroke-width="1.8"/><line x1="1070.46" y1="319.8" x2="1070.46" y2="179" stroke="#8c8c8c" stroke-width="1.5" stroke-dasharray="6.75,5.5"/><line x1="1104.85" y1="179" x2="1104.85" y2="319.8" stroke="#a0a0a0" stroke-width="1.8"/><line x1="1139.24" y1="319.8" x2="1139.24" y2="179" stroke="#8c8c8c" stroke-width="1.5" stroke-dasharray="6.75,5.5"/><line x1="1173.63" y1="179" x2="1173.63" y2="319.8" stroke="#a0a0a0" stroke-width="1.8"/><line x1="1208.02" y1="319.8" x2="1208.02" y2="179" stroke="#8c8c8c" stroke-width="1.5" stroke-dasharray="6.75,5.5"/><line x1="1242.41" y1="179" x2="1242.41" y2="319.8" stroke="#a0a0a0" stroke-width="1.8"/><rect x="933.9" y="180" width="133.9" height="63.3" fill="#fff"/><path d="M1001.8 319.8V317.6H1006.7V319.8zM1012.1 319.8V316H1017.1V319.8zM1022.4 319.8V316.9H1027.4V319.8zM1032.7 319.8V315H1037.7V319.8zM1043 319.8V312.4H1048V319.8zM1053.4 319.8V309.8H1058.3V319.8zM1063.7 319.8V304.6H1068.6V319.8zM1074 319.8V301.4H1079V319.8zM1084.3 319.8V298.8H1089.3V319.8zM1094.6 319.8V296.6H1099.6V319.8zM1104.9 319.8V294.2H1109.9V319.8zM1115.3 319.8V292.9H1120.2V319.8zM1125.6 319.8V290.6H1130.5V319.8zM1135.9 319.8V294H1140.9V319.8zM1146.2 319.8V302H1151.2V319.8zM1156.5 319.8V309.8H1161.5V319.8zM1166.9 319.8V313.7H1171.8V319.8zM1177.2 319.8V316.3H1182.1V319.8zM1187.5 319.8V316.5H1192.4V319.8zM1197.8 319.8V317.9H1202.8V319.8zM1208.1 319.8V318.8H1213.1V319.8z" fill="#a5dca0"/><path d="M1099.8 319.8V318.5H1104.8V319.8zM1110.1 319.8V316.5H1115.1V319.8zM1120.4 319.8V312.2H1125.4V319.8zM1130.7 319.8V302H1135.7V319.8zM1141.1 319.8V286.4H1146V319.8zM1151.4 319.8V270.2H1156.3V319.8zM1161.7 319.8V251.4H1166.7V319.8zM1172 319.8V231.9H1177V319.8zM1182.3 319.8V229.6H1187.3V319.8zM1192.6 319.8V239H1197.6V319.8zM1203 319.8V256.6H1207.9V319.8zM1213.3 319.8V272.4H1218.2V319.8zM1223.6 319.8V283.8H1228.6V319.8zM1233.9 319.8V294.9H1238.9V319.8zM1244.2 319.8V304H1249.2V319.8zM1254.5 319.8V310.5H1259.5V319.8zM1264.9 319.8V313H1269.8V319.8zM1275.2 319.8V314.3H1276.7V319.8z" fill="#fdd0a0"/><path d="M1001.8 319.8V317.6H1006.7V319.8M1012.1 319.8V316H1017.1V319.8M1022.4 319.8V316.9H1027.4V319.8M1032.7 319.8V315H1037.7V319.8M1043 319.8V312.4H1048V319.8M1053.4 319.8V309.8H1058.3V319.8M1063.7 319.8V304.6H1068.6V319.8M1074 319.8V301.4H1079V319.8M1084.3 319.8V298.8H1089.3V319.8M1094.6 319.8V296.6H1099.6V319.8M1099.8 319.8V318.5H1104.8V319.8M1104.9 319.8V294.2H1109.9V319.8M1110.1 319.8V316.5H1115.1V319.8M1115.3 319.8V292.9H1120.2V319.8M1120.4 319.8V312.2H1125.4V319.8M1125.6 319.8V290.6H1130.5V319.8M1130.7 319.8V302H1135.7V319.8M1135.9 319.8V294H1140.9V319.8M1141.1 319.8V286.4H1146V319.8M1146.2 319.8V302H1151.2V319.8M1151.4 319.8V270.2H1156.3V319.8M1156.5 319.8V309.8H1161.5V319.8M1161.7 319.8V251.4H1166.7V319.8M1166.9 319.8V313.7H1171.8V319.8M1172 319.8V231.9H1177V319.8M1177.2 319.8V316.3H1182.1V319.8M1182.3 319.8V229.6H1187.3V319.8M1187.5 319.8V316.5H1192.4V319.8M1192.6 319.8V239H1197.6V319.8M1197.8 319.8V317.9H1202.8V319.8M1203 319.8V256.6H1207.9V319.8M1208.1 319.8V318.8H1213.1V319.8M1213.3 319.8V272.4H1218.2V319.8M1223.6 319.8V283.8H1228.6V319.8M1233.9 319.8V294.9H1238.9V319.8M1244.2 319.8V304H1249.2V319.8M1254.5 319.8V310.5H1259.5V319.8M1264.9 319.8V313H1269.8V319.8M1275.2 319.8V314.3H1276.7V319.8" fill="none" stroke="#1a1a1a" stroke-width="1.25"/><path d="M1004.3 317.6v-1m-1.5 0h3M1014.6 316v-1m-1.5 0h3M1024.9 316.9v-1m-1.5 0h3M1035.2 315v-1.1m-1.5 0h3M1045.5 312.4v-1.2m-1.5 0h3M1055.8 309.8v-1.3m-1.5 0h3M1066.2 304.6v-1.6m-1.5 0h3M1076.5 301.4v-1.7m-1.5 0h3M1086.8 298.8v-1.9m-1.5 0h3M1097.1 296.6v-2m-1.5 0h3M1102.3 318.5v-0.9m-1.5 0h3M1107.4 294.2v-2.1m-1.5 0h3M1112.6 316.5v-1m-1.5 0h3M1117.7 292.9v-2.1m-1.5 0h3M1122.9 312.2v-1.2m-1.5 0h3M1128.1 290.6v-2.2m-1.5 0h3M1133.2 302v-1.7m-1.5 0h3M1138.4 294v-2.1m-1.5 0h3M1143.5 286.4v-2.4m-1.5 0h3M1148.7 302v-1.7m-1.5 0h3M1153.9 270.2v-3.2m-1.5 0h3M1159 309.8v-1.3m-1.5 0h3M1164.2 251.4v-4.1m-1.5 0h3M1169.3 313.7v-1.1m-1.5 0h3M1174.5 231.9v-5.1m-1.5 0h3M1179.6 316.3v-1m-1.5 0h3M1184.8 229.6v-5.2m-1.5 0h3M1190 316.5v-1m-1.5 0h3M1195.1 239v-4.7m-1.5 0h3M1200.3 317.9v-0.9m-1.5 0h3M1205.4 256.6v-3.9m-1.5 0h3M1210.6 318.8v-0.9m-1.5 0h3M1215.8 272.4v-3.1m-1.5 0h3M1226.1 283.8v-2.6m-1.5 0h3M1236.4 294.9v-2m-1.5 0h3M1246.7 304v-1.6m-1.5 0h3M1257 310.5v-1.3m-1.5 0h3M1267.3 313v-1.2m-1.5 0h3M1275.9 314.3v-1.1m-1.5 0h3" stroke="#aaa" stroke-width="0.8" fill="none"/><polyline points="932.9,319.8 1059,319.8 1081.9,319.6 1092,319.2 1099.1,318.6 1106.3,317.4 1112,315.9 1117.7,313.6 1120.6,312.1 1123.5,310.3 1126.3,308.2 1129.2,305.7 1132.1,302.9 1134.9,299.8 1139.2,294.4 1145,286 1150.7,276.5 1163.6,253.9 1167.9,247.2 1170.8,243.2 1175.1,238.2 1177.9,235.7 1180.8,234 1182.2,233.4 1185.1,232.8 1188,233 1189.4,233.5 1192.3,234.9 1193.7,235.9 1196.6,238.5 1200.9,243.5 1203.7,247.6 1208,254.4 1220.9,277 1228.1,288.7 1232.4,294.8 1235.2,298.5 1238.1,301.7 1241,304.7 1243.8,307.2 1248.1,310.5 1252.4,313 1256.7,315 1261,316.4 1265.3,317.5 1271.1,318.5 1276.8,319" fill="none" stroke="#ee1010" stroke-width="2.5" stroke-linejoin="round"/><polyline points="932.9,319.8 971.6,319.7 993.1,319.3 1008.8,318.4 1016,317.6 1023.2,316.6 1034.6,314.4 1046.1,311.1 1057.6,307 1079.1,298.5 1089.1,295.2 1094.8,293.7 1099.1,293 1103.4,292.5 1107.7,292.3 1112,292.4 1117.7,293 1122,293.8 1127.8,295.2 1137.8,298.6 1159.3,307.2 1169.3,310.8 1180.8,314.1 1186.5,315.4 1193.7,316.7 1206.6,318.3 1222.3,319.2 1242.4,319.7 1276.8,319.8" fill="none" stroke="#0808ee" stroke-width="2.5" stroke-linejoin="round"/><text x="924.1" y="327.8" text-anchor="end" font-size="22" font-family='"Liberation Sans", Arial, Helvetica, sans-serif'>0.0</text><text x="924.1" y="233.93" text-anchor="end" font-size="22" font-family='"Liberation Sans", Arial, Helvetica, sans-serif'>0.1</text><text x="939.3" y="207.3" font-size="22.8" font-family='"Liberation Sans", Arial, Helvetica, sans-serif'>0.5 μM GDP</text><text x="939.3" y="235.3" font-size="22.8" font-family='"Liberation Sans", Arial, Helvetica, sans-serif'>n = 513</text><line x1="967.29" y1="319.8" x2="967.29" y2="460.6" stroke="#a0a0a0" stroke-width="1.8"/><line x1="1001.68" y1="460.6" x2="1001.68" y2="319.8" stroke="#8c8c8c" stroke-width="1.5" stroke-dasharray="6.75,5.5"/><line x1="1036.07" y1="319.8" x2="1036.07" y2="460.6" stroke="#a0a0a0" stroke-width="1.8"/><line x1="1070.46" y1="460.6" x2="1070.46" y2="319.8" stroke="#8c8c8c" stroke-width="1.5" stroke-dasharray="6.75,5.5"/><line x1="1104.85" y1="319.8" x2="1104.85" y2="460.6" stroke="#a0a0a0" stroke-width="1.8"/><line x1="1139.24" y1="460.6" x2="1139.24" y2="319.8" stroke="#8c8c8c" stroke-width="1.5" stroke-dasharray="6.75,5.5"/><line x1="1173.63" y1="319.8" x2="1173.63" y2="460.6" stroke="#a0a0a0" stroke-width="1.8"/><line x1="1208.02" y1="460.6" x2="1208.02" y2="319.8" stroke="#8c8c8c" stroke-width="1.5" stroke-dasharray="6.75,5.5"/><line x1="1242.41" y1="319.8" x2="1242.41" y2="460.6" stroke="#a0a0a0" stroke-width="1.8"/><rect x="933.9" y="320.8" width="114.89" height="63.3" fill="#fff"/><path d="M981.1 460.6V459.7H986.1V460.6zM991.5 460.6V458.9H996.4V460.6zM1001.8 460.6V458H1006.7V460.6zM1012.1 460.6V455.7H1017.1V460.6zM1022.4 460.6V454.1H1027.4V460.6zM1032.7 460.6V451.8H1037.7V460.6zM1043 460.6V451.5H1048V460.6zM1053.4 460.6V448H1058.3V460.6zM1063.7 460.6V445.6H1068.6V460.6zM1074 460.6V442.8H1079V460.6zM1084.3 460.6V439.4H1089.3V460.6zM1094.6 460.6V437.2H1099.6V460.6zM1104.9 460.6V435.2H1109.9V460.6zM1115.3 460.6V432.6H1120.2V460.6zM1125.6 460.6V430.3H1130.5V460.6zM1135.9 460.6V436.5H1140.9V460.6zM1146.2 460.6V445.6H1151.2V460.6zM1156.5 460.6V450.8H1161.5V460.6zM1166.9 460.6V454.1H1171.8V460.6zM1177.2 460.6V456.7H1182.1V460.6zM1187.5 460.6V457.7H1192.4V460.6zM1197.8 460.6V458.9H1202.8V460.6zM1208.1 460.6V459.7H1213.1V460.6z" fill="#a5dca0"/><path d="M1089.5 460.6V459.6H1094.4V460.6zM1099.8 460.6V458.2H1104.8V460.6zM1110.1 460.6V455.2H1115.1V460.6zM1120.4 460.6V449.5H1125.4V460.6zM1130.7 460.6V445.6H1135.7V460.6zM1141.1 460.6V423.5H1146V460.6zM1151.4 460.6V411.2H1156.3V460.6zM1161.7 460.6V394.3H1166.7V460.6zM1172 460.6V374.9H1177V460.6zM1182.3 460.6V374.2H1187.3V460.6zM1192.6 460.6V381H1197.6V460.6zM1203 460.6V397.8H1207.9V460.6zM1213.3 460.6V414.5H1218.2V460.6zM1223.6 460.6V427.2H1228.6V460.6zM1233.9 460.6V438.9H1238.9V460.6zM1244.2 460.6V445H1249.2V460.6zM1254.5 460.6V451.5H1259.5V460.6zM1264.9 460.6V453.7H1269.8V460.6zM1275.2 460.6V456H1276.7V460.6z" fill="#fdd0a0"/><path d="M981.1 460.6V459.7H986.1V460.6M991.5 460.6V458.9H996.4V460.6M1001.8 460.6V458H1006.7V460.6M1012.1 460.6V455.7H1017.1V460.6M1022.4 460.6V454.1H1027.4V460.6M1032.7 460.6V451.8H1037.7V460.6M1043 460.6V451.5H1048V460.6M1053.4 460.6V448H1058.3V460.6M1063.7 460.6V445.6H1068.6V460.6M1074 460.6V442.8H1079V460.6M1084.3 460.6V439.4H1089.3V460.6M1089.5 460.6V459.6H1094.4V460.6M1094.6 460.6V437.2H1099.6V460.6M1099.8 460.6V458.2H1104.8V460.6M1104.9 460.6V435.2H1109.9V460.6M1110.1 460.6V455.2H1115.1V460.6M1115.3 460.6V432.6H1120.2V460.6M1120.4 460.6V449.5H1125.4V460.6M1125.6 460.6V430.3H1130.5V460.6M1130.7 460.6V445.6H1135.7V460.6M1135.9 460.6V436.5H1140.9V460.6M1141.1 460.6V423.5H1146V460.6M1146.2 460.6V445.6H1151.2V460.6M1151.4 460.6V411.2H1156.3V460.6M1156.5 460.6V450.8H1161.5V460.6M1161.7 460.6V394.3H1166.7V460.6M1166.9 460.6V454.1H1171.8V460.6M1172 460.6V374.9H1177V460.6M1177.2 460.6V456.7H1182.1V460.6M1182.3 460.6V374.2H1187.3V460.6M1187.5 460.6V457.7H1192.4V460.6M1192.6 460.6V381H1197.6V460.6M1197.8 460.6V458.9H1202.8V460.6M1203 460.6V397.8H1207.9V460.6M1208.1 460.6V459.7H1213.1V460.6M1213.3 460.6V414.5H1218.2V460.6M1223.6 460.6V427.2H1228.6V460.6M1233.9 460.6V438.9H1238.9V460.6M1244.2 460.6V445H1249.2V460.6M1254.5 460.6V451.5H1259.5V460.6M1264.9 460.6V453.7H1269.8V460.6M1275.2 460.6V456H1276.7V460.6" fill="none" stroke="#1a1a1a" stroke-width="1.25"/><path d="M983.6 459.7v-0.9m-1.5 0h3M993.9 458.9v-0.9m-1.5 0h3M1004.3 458v-1m-1.5 0h3M1014.6 455.7v-1.1m-1.5 0h3M1024.9 454.1v-1.2m-1.5 0h3M1035.2 451.8v-1.3m-1.5 0h3M1045.5 451.5v-1.3m-1.5 0h3M1055.8 448v-1.5m-1.5 0h3M1066.2 445.6v-1.6m-1.5 0h3M1076.5 442.8v-1.7m-1.5 0h3M1086.8 439.4v-1.9m-1.5 0h3M1092 459.6v-0.9m-1.5 0h3M1097.1 437.2v-2m-1.5 0h3M1102.3 458.2v-1m-1.5 0h3M1107.4 435.2v-2.1m-1.5 0h3M1112.6 455.2v-1.1m-1.5 0h3M1117.7 432.6v-2.2m-1.5 0h3M1122.9 449.5v-1.4m-1.5 0h3M1128.1 430.3v-2.3m-1.5 0h3M1133.2 445.6v-1.6m-1.5 0h3M1138.4 436.5v-2m-1.5 0h3M1143.5 423.5v-2.6m-1.5 0h3M1148.7 445.6v-1.6m-1.5 0h3M1153.9 411.2v-3.2m-1.5 0h3M1159 450.8v-1.3m-1.5 0h3M1164.2 394.3v-4m-1.5 0h3M1169.3 454.1v-1.2m-1.5 0h3M1174.5 374.9v-5m-1.5 0h3M1179.6 456.7v-1m-1.5 0h3M1184.8 374.2v-5m-1.5 0h3M1190 457.7v-1m-1.5 0h3M1195.1 381v-4.7m-1.5 0h3M1200.3 458.9v-0.9m-1.5 0h3M1205.4 397.8v-3.9m-1.5 0h3M1210.6 459.7v-0.9m-1.5 0h3M1215.8 414.5v-3.1m-1.5 0h3M1226.1 427.2v-2.4m-1.5 0h3M1236.4 438.9v-1.9m-1.5 0h3M1246.7 445v-1.6m-1.5 0h3M1257 451.5v-1.3m-1.5 0h3M1267.3 453.7v-1.2m-1.5 0h3M1275.9 456v-1.1m-1.5 0h3" stroke="#aaa" stroke-width="0.8" fill="none"/><polyline points="932.9,460.6 1051.8,460.6 1076.2,460.4 1086.2,459.9 1094.8,459 1102,457.7 1107.7,456 1113.4,453.6 1119.2,450.3 1124.9,445.9 1130.6,440.3 1136.4,433.4 1142.1,425.4 1146.4,418.8 1160.7,395.7 1165,389.5 1167.9,385.7 1172.2,381 1176.5,377.6 1179.4,376 1180.8,375.5 1183.7,375 1186.5,375.2 1188,375.6 1190.8,376.8 1192.3,377.7 1195.1,379.9 1199.4,384.2 1203.7,389.7 1208,396 1222.3,419.1 1229.5,429.8 1233.8,435.5 1236.7,438.9 1242.4,444.8 1245.3,447.2 1249.6,450.4 1253.9,453 1258.2,455 1262.5,456.6 1266.8,457.7 1271.1,458.6 1276.8,459.4" fill="none" stroke="#ee1010" stroke-width="2.5" stroke-linejoin="round"/><polyline points="932.9,460.6 963,460.4 981.6,459.9 997.4,458.8 1004.5,458 1011.7,457 1023.2,454.7 1034.6,451.5 1046.1,447.6 1067.6,439.5 1077.6,436.3 1083.4,434.9 1089.1,433.8 1094.8,433.2 1099.1,433 1103.4,433.1 1109.1,433.6 1114.9,434.6 1120.6,436 1130.6,439.1 1153.6,447.7 1165,451.6 1176.5,454.7 1182.2,456 1189.4,457.3 1196.6,458.2 1203.7,459 1220.9,460 1242.4,460.5 1276.8,460.6" fill="none" stroke="#0808ee" stroke-width="2.5" stroke-linejoin="round"/><text x="924.1" y="468.6" text-anchor="end" font-size="22" font-family='"Liberation Sans", Arial, Helvetica, sans-serif'>0.0</text><text x="924.1" y="374.73" text-anchor="end" font-size="22" font-family='"Liberation Sans", Arial, Helvetica, sans-serif'>0.1</text><text x="939.3" y="348.1" font-size="22.8" font-family='"Liberation Sans", Arial, Helvetica, sans-serif'>1 μM GDP</text><text x="939.3" y="376.1" font-size="22.8" font-family='"Liberation Sans", Arial, Helvetica, sans-serif'>n = 493</text><line x1="967.29" y1="460.6" x2="967.29" y2="601.4" stroke="#a0a0a0" stroke-width="1.8"/><line x1="1001.68" y1="601.4" x2="1001.68" y2="460.6" stroke="#8c8c8c" stroke-width="1.5" stroke-dasharray="6.75,5.5"/><line x1="1036.07" y1="460.6" x2="1036.07" y2="601.4" stroke="#a0a0a0" stroke-width="1.8"/><line x1="1070.46" y1="601.4" x2="1070.46" y2="460.6" stroke="#8c8c8c" stroke-width="1.5" stroke-dasharray="6.75,5.5"/><line x1="1104.85" y1="460.6" x2="1104.85" y2="601.4" stroke="#a0a0a0" stroke-width="1.8"/><line x1="1139.24" y1="601.4" x2="1139.24" y2="460.6" stroke="#8c8c8c" stroke-width="1.5" stroke-dasharray="6.75,5.5"/><line x1="1173.63" y1="460.6" x2="1173.63" y2="601.4" stroke="#a0a0a0" stroke-width="1.8"/><line x1="1208.02" y1="601.4" x2="1208.02" y2="460.6" stroke="#8c8c8c" stroke-width="1.5" stroke-dasharray="6.75,5.5"/><line x1="1242.41" y1="460.6" x2="1242.41" y2="601.4" stroke="#a0a0a0" stroke-width="1.8"/><rect x="933.9" y="461.6" width="114.89" height="63.3" fill="#fff"/><path d="M981.1 601.4V600.6H986.1V601.4zM991.5 601.4V600H996.4V601.4zM1001.8 601.4V597.6H1006.7V601.4zM1012.1 601.4V596.7H1017.1V601.4zM1022.4 601.4V595.4H1027.4V601.4zM1032.7 601.4V593.8H1037.7V601.4zM1043 601.4V594.1H1048V601.4zM1053.4 601.4V591.5H1058.3V601.4zM1063.7 601.4V587.9H1068.6V601.4zM1074 601.4V586.9H1079V601.4zM1084.3 601.4V585.3H1089.3V601.4zM1094.6 601.4V581.4H1099.6V601.4zM1104.9 601.4V577.8H1109.9V601.4zM1115.3 601.4V579.5H1120.2V601.4zM1125.6 601.4V577.8H1130.5V601.4zM1135.9 601.4V582.7H1140.9V601.4zM1146.2 601.4V590.5H1151.2V601.4zM1156.5 601.4V594.4H1161.5V601.4zM1166.9 601.4V596.3H1171.8V601.4zM1177.2 601.4V598.3H1182.1V601.4zM1187.5 601.4V599.4H1192.4V601.4zM1197.8 601.4V600.2H1202.8V601.4z" fill="#a5dca0"/><path d="M1099.8 601.4V599.9H1104.8V601.4zM1110.1 601.4V597.5H1115.1V601.4zM1120.4 601.4V592.3H1125.4V601.4zM1130.7 601.4V577.5H1135.7V601.4zM1141.1 601.4V560.6H1146V601.4zM1151.4 601.4V542.5H1156.3V601.4zM1161.7 601.4V523.6H1166.7V601.4zM1172 601.4V505.9H1177V601.4zM1182.3 601.4V500.3H1187.3V601.4zM1192.6 601.4V512.6H1197.6V601.4zM1203 601.4V532.7H1207.9V601.4zM1213.3 601.4V557.4H1218.2V601.4zM1223.6 601.4V572.3H1228.6V601.4zM1233.9 601.4V582.1H1238.9V601.4zM1244.2 601.4V588.2H1249.2V601.4zM1254.5 601.4V593.8H1259.5V601.4zM1264.9 601.4V594.7H1269.8V601.4zM1275.2 601.4V597H1276.7V601.4z" fill="#fdd0a0"/><path d="M981.1 601.4V600.6H986.1V601.4M991.5 601.4V600H996.4V601.4M1001.8 601.4V597.6H1006.7V601.4M1012.1 601.4V596.7H1017.1V601.4M1022.4 601.4V595.4H1027.4V601.4M1032.7 601.4V593.8H1037.7V601.4M1043 601.4V594.1H1048V601.4M1053.4 601.4V591.5H1058.3V601.4M1063.7 601.4V587.9H1068.6V601.4M1074 601.4V586.9H1079V601.4M1084.3 601.4V585.3H1089.3V601.4M1094.6 601.4V581.4H1099.6V601.4M1099.8 601.4V599.9H1104.8V601.4M1104.9 601.4V577.8H1109.9V601.4M1110.1 601.4V597.5H1115.1V601.4M1115.3 601.4V579.5H1120.2V601.4M1120.4 601.4V592.3H1125.4V601.4M1125.6 601.4V577.8H1130.5V601.4M1130.7 601.4V577.5H1135.7V601.4M1135.9 601.4V582.7H1140.9V601.4M1141.1 601.4V560.6H1146V601.4M1146.2 601.4V590.5H1151.2V601.4M1151.4 601.4V542.5H1156.3V601.4M1156.5 601.4V594.4H1161.5V601.4M1161.7 601.4V523.6H1166.7V601.4M1166.9 601.4V596.3H1171.8V601.4M1172 601.4V505.9H1177V601.4M1177.2 601.4V598.3H1182.1V601.4M1182.3 601.4V500.3H1187.3V601.4M1187.5 601.4V599.4H1192.4V601.4M1192.6 601.4V512.6H1197.6V601.4M1197.8 601.4V600.2H1202.8V601.4M1203 601.4V532.7H1207.9V601.4M1213.3 601.4V557.4H1218.2V601.4M1223.6 601.4V572.3H1228.6V601.4M1233.9 601.4V582.1H1238.9V601.4M1244.2 601.4V588.2H1249.2V601.4M1254.5 601.4V593.8H1259.5V601.4M1264.9 601.4V594.7H1269.8V601.4M1275.2 601.4V597H1276.7V601.4" fill="none" stroke="#1a1a1a" stroke-width="1.25"/><path d="M983.6 600.6v-0.9m-1.5 0h3M993.9 600v-0.9m-1.5 0h3M1004.3 597.6v-1m-1.5 0h3M1014.6 596.7v-1.1m-1.5 0h3M1024.9 595.4v-1.1m-1.5 0h3M1035.2 593.8v-1.2m-1.5 0h3M1045.5 594.1v-1.2m-1.5 0h3M1055.8 591.5v-1.3m-1.5 0h3M1066.2 587.9v-1.5m-1.5 0h3M1076.5 586.9v-1.5m-1.5 0h3M1086.8 585.3v-1.6m-1.5 0h3M1097.1 581.4v-1.8m-1.5 0h3M1102.3 599.9v-0.9m-1.5 0h3M1107.4 577.8v-2m-1.5 0h3M1112.6 597.5v-1m-1.5 0h3M1117.7 579.5v-1.9m-1.5 0h3M1122.9 592.3v-1.3m-1.5 0h3M1128.1 577.8v-2m-1.5 0h3M1133.2 577.5v-2m-1.5 0h3M1138.4 582.7v-1.7m-1.5 0h3M1143.5 560.6v-2.8m-1.5 0h3M1148.7 590.5v-1.4m-1.5 0h3M1153.9 542.5v-3.7m-1.5 0h3M1159 594.4v-1.2m-1.5 0h3M1164.2 523.6v-4.6m-1.5 0h3M1169.3 596.3v-1.1m-1.5 0h3M1174.5 505.9v-5.4m-1.5 0h3M1179.6 598.3v-1m-1.5 0h3M1184.8 500.3v-5.7m-1.5 0h3M1190 599.4v-0.9m-1.5 0h3M1195.1 512.6v-5.1m-1.5 0h3M1200.3 600.2v-0.9m-1.5 0h3M1205.4 532.7v-4.1m-1.5 0h3M1215.8 557.4v-3m-1.5 0h3M1226.1 572.3v-2.2m-1.5 0h3M1236.4 582.1v-1.8m-1.5 0h3M1246.7 588.2v-1.5m-1.5 0h3M1257 593.8v-1.2m-1.5 0h3M1267.3 594.7v-1.2m-1.5 0h3M1275.9 597v-1.1m-1.5 0h3" stroke="#aaa" stroke-width="0.8" fill="none"/><polyline points="932.9,601.4 1059,601.4 1081.9,601.2 1092,600.7 1099.1,600 1106.3,598.6 1112,596.7 1117.7,594 1120.6,592.1 1123.5,590 1126.3,587.5 1129.2,584.6 1133.5,579.4 1137.8,573.3 1143.5,563.8 1149.3,552.9 1162.2,526.8 1166.5,518.9 1169.3,514.2 1173.6,508.4 1176.5,505.5 1179.4,503.4 1180.8,502.7 1183.7,502 1186.5,502.3 1188,502.8 1190.8,504.4 1193.7,507 1198,512.3 1200.9,516.7 1205.2,524.3 1219.5,553.2 1226.6,566.6 1230.9,573.6 1233.8,577.7 1236.7,581.4 1239.5,584.7 1242.4,587.6 1246.7,591.2 1251,594.1 1255.3,596.2 1259.6,597.8 1265.3,599.3 1271.1,600.2 1276.8,600.7" fill="none" stroke="#ee1010" stroke-width="2.5" stroke-linejoin="round"/><polyline points="932.9,601.4 963,601.2 983.1,600.8 998.8,599.8 1011.7,598.4 1023.2,596.5 1034.6,593.8 1044.7,591 1067.6,583.9 1077.6,581.3 1083.4,580.1 1087.7,579.5 1093.4,578.9 1097.7,578.8 1102,578.9 1107.7,579.3 1113.4,580.1 1119.2,581.3 1129.2,583.9 1152.1,591.1 1163.6,594.3 1175.1,596.8 1188,598.8 1202.3,600.2 1219.5,601 1241,601.3 1276.8,601.4" fill="none" stroke="#0808ee" stroke-width="2.5" stroke-linejoin="round"/><text x="924.1" y="609.4" text-anchor="end" font-size="22" font-family='"Liberation Sans", Arial, Helvetica, sans-serif'>0.0</text><text x="924.1" y="515.53" text-anchor="end" font-size="22" font-family='"Liberation Sans", Arial, Helvetica, sans-serif'>0.1</text><text x="939.3" y="488.9" font-size="22.8" font-family='"Liberation Sans", Arial, Helvetica, sans-serif'>2 μM GDP</text><text x="939.3" y="516.9" font-size="22.8" font-family='"Liberation Sans", Arial, Helvetica, sans-serif'>n = 443</text><line x1="967.29" y1="601.4" x2="967.29" y2="742.2" stroke="#a0a0a0" stroke-width="1.8"/><line x1="1001.68" y1="742.2" x2="1001.68" y2="601.4" stroke="#8c8c8c" stroke-width="1.5" stroke-dasharray="6.75,5.5"/><line x1="1036.07" y1="601.4" x2="1036.07" y2="742.2" stroke="#a0a0a0" stroke-width="1.8"/><line x1="1070.46" y1="742.2" x2="1070.46" y2="601.4" stroke="#8c8c8c" stroke-width="1.5" stroke-dasharray="6.75,5.5"/><line x1="1104.85" y1="601.4" x2="1104.85" y2="742.2" stroke="#a0a0a0" stroke-width="1.8"/><line x1="1139.24" y1="742.2" x2="1139.24" y2="601.4" stroke="#8c8c8c" stroke-width="1.5" stroke-dasharray="6.75,5.5"/><line x1="1173.63" y1="601.4" x2="1173.63" y2="742.2" stroke="#a0a0a0" stroke-width="1.8"/><line x1="1208.02" y1="742.2" x2="1208.02" y2="601.4" stroke="#8c8c8c" stroke-width="1.5" stroke-dasharray="6.75,5.5"/><line x1="1242.41" y1="601.4" x2="1242.41" y2="742.2" stroke="#a0a0a0" stroke-width="1.8"/><rect x="933.9" y="602.4" width="127.57" height="63.3" fill="#fff"/><path d="M991.5 742.2V741.4H996.4V742.2zM1001.8 742.2V739.3H1006.7V742.2zM1012.1 742.2V738.6H1017.1V742.2zM1022.4 742.2V737.7H1027.4V742.2zM1032.7 742.2V736.4H1037.7V742.2zM1043 742.2V734.1H1048V742.2zM1053.4 742.2V734.7H1058.3V742.2zM1063.7 742.2V728.9H1068.6V742.2zM1074 742.2V730.9H1079V742.2zM1084.3 742.2V728.6H1089.3V742.2zM1094.6 742.2V724.4H1099.6V742.2zM1104.9 742.2V719.8H1109.9V742.2zM1115.3 742.2V719.8H1120.2V742.2zM1125.6 742.2V716.6H1130.5V742.2zM1135.9 742.2V720.5H1140.9V742.2zM1146.2 742.2V728.9H1151.2V742.2zM1156.5 742.2V734.1H1161.5V742.2zM1166.9 742.2V736.7H1171.8V742.2zM1177.2 742.2V739H1182.1V742.2zM1187.5 742.2V737.7H1192.4V742.2zM1197.8 742.2V739.3H1202.8V742.2zM1208.1 742.2V740.5H1213.1V742.2zM1218.4 742.2V741.2H1223.4V742.2z" fill="#a5dca0"/><path d="M1089.5 742.2V741.2H1094.4V742.2zM1099.8 742.2V739.6H1104.8V742.2zM1110.1 742.2V736.2H1115.1V742.2zM1120.4 742.2V730H1125.4V742.2zM1130.7 742.2V720.5H1135.7V742.2zM1141.1 742.2V704.5H1146V742.2zM1151.4 742.2V682.8H1156.3V742.2zM1161.7 742.2V661.7H1166.7V742.2zM1172 742.2V649.1H1177V742.2zM1182.3 742.2V647.8H1187.3V742.2zM1192.6 742.2V656.9H1197.6V742.2zM1203 742.2V679.3H1207.9V742.2zM1213.3 742.2V695.1H1218.2V742.2zM1223.6 742.2V708.8H1228.6V742.2zM1233.9 742.2V715.3H1238.9V742.2zM1244.2 742.2V725.7H1249.2V742.2zM1254.5 742.2V733.4H1259.5V742.2zM1264.9 742.2V735.7H1269.8V742.2zM1275.2 742.2V736.7H1276.7V742.2z" fill="#fdd0a0"/><path d="M991.5 742.2V741.4H996.4V742.2M1001.8 742.2V739.3H1006.7V742.2M1012.1 742.2V738.6H1017.1V742.2M1022.4 742.2V737.7H1027.4V742.2M1032.7 742.2V736.4H1037.7V742.2M1043 742.2V734.1H1048V742.2M1053.4 742.2V734.7H1058.3V742.2M1063.7 742.2V728.9H1068.6V742.2M1074 742.2V730.9H1079V742.2M1084.3 742.2V728.6H1089.3V742.2M1089.5 742.2V741.2H1094.4V742.2M1094.6 742.2V724.4H1099.6V742.2M1099.8 742.2V739.6H1104.8V742.2M1104.9 742.2V719.8H1109.9V742.2M1110.1 742.2V736.2H1115.1V742.2M1115.3 742.2V719.8H1120.2V742.2M1120.4 742.2V730H1125.4V742.2M1125.6 742.2V716.6H1130.5V742.2M1130.7 742.2V720.5H1135.7V742.2M1135.9 742.2V720.5H1140.9V742.2M1141.1 742.2V704.5H1146V742.2M1146.2 742.2V728.9H1151.2V742.2M1151.4 742.2V682.8H1156.3V742.2M1156.5 742.2V734.1H1161.5V742.2M1161.7 742.2V661.7H1166.7V742.2M1166.9 742.2V736.7H1171.8V742.2M1172 742.2V649.1H1177V742.2M1177.2 742.2V739H1182.1V742.2M1182.3 742.2V647.8H1187.3V742.2M1187.5 742.2V737.7H1192.4V742.2M1192.6 742.2V656.9H1197.6V742.2M1197.8 742.2V739.3H1202.8V742.2M1203 742.2V679.3H1207.9V742.2M1208.1 742.2V740.5H1213.1V742.2M1213.3 742.2V695.1H1218.2V742.2M1218.4 742.2V741.2H1223.4V742.2M1223.6 742.2V708.8H1228.6V742.2M1233.9 742.2V715.3H1238.9V742.2M1244.2 742.2V725.7H1249.2V742.2M1254.5 742.2V733.4H1259.5V742.2M1264.9 742.2V735.7H1269.8V742.2M1275.2 742.2V736.7H1276.7V742.2" fill="none" stroke="#1a1a1a" stroke-width="1.25"/><path d="M993.9 741.4v-0.9m-1.5 0h3M1004.3 739.3v-1m-1.5 0h3M1014.6 738.6v-1m-1.5 0h3M1024.9 737.7v-1.1m-1.5 0h3M1035.2 736.4v-1.1m-1.5 0h3M1045.5 734.1v-1.2m-1.5 0h3M1055.8 734.7v-1.2m-1.5 0h3M1066.2 728.9v-1.5m-1.5 0h3M1076.5 730.9v-1.4m-1.5 0h3M1086.8 728.6v-1.5m-1.5 0h3M1092 741.2v-0.9m-1.5 0h3M1097.1 724.4v-1.7m-1.5 0h3M1102.3 739.6v-1m-1.5 0h3M1107.4 719.8v-1.9m-1.5 0h3M1112.6 736.2v-1.1m-1.5 0h3M1117.7 719.8v-1.9m-1.5 0h3M1122.9 730v-1.4m-1.5 0h3M1128.1 716.6v-2.1m-1.5 0h3M1133.2 720.5v-1.9m-1.5 0h3M1138.4 720.5v-1.9m-1.5 0h3M1143.5 704.5v-2.7m-1.5 0h3M1148.7 728.9v-1.5m-1.5 0h3M1153.9 682.8v-3.7m-1.5 0h3M1159 734.1v-1.2m-1.5 0h3M1164.2 661.7v-4.7m-1.5 0h3M1169.3 736.7v-1.1m-1.5 0h3M1174.5 649.1v-5.3m-1.5 0h3M1179.6 739v-1m-1.5 0h3M1184.8 647.8v-5.4m-1.5 0h3M1190 737.7v-1.1m-1.5 0h3M1195.1 656.9v-4.9m-1.5 0h3M1200.3 739.3v-1m-1.5 0h3M1205.4 679.3v-3.9m-1.5 0h3M1210.6 740.5v-0.9m-1.5 0h3M1215.8 695.1v-3.1m-1.5 0h3M1220.9 741.2v-0.9m-1.5 0h3M1226.1 708.8v-2.4m-1.5 0h3M1236.4 715.3v-2.1m-1.5 0h3M1246.7 725.7v-1.6m-1.5 0h3M1257 733.4v-1.3m-1.5 0h3M1267.3 735.7v-1.2m-1.5 0h3M1275.9 736.7v-1.1m-1.5 0h3" stroke="#aaa" stroke-width="0.8" fill="none"/><polyline points="932.9,742.2 1051.8,742.2 1076.2,741.9 1086.2,741.4 1094.8,740.5 1102,739 1107.7,737.2 1113.4,734.5 1119.2,730.9 1122,728.6 1124.9,726 1130.6,719.8 1136.4,712.3 1142.1,703.5 1146.4,696.2 1160.7,670.8 1165,663.9 1167.9,659.8 1172.2,654.6 1175.1,651.9 1176.5,650.8 1179.4,649.1 1180.8,648.5 1183.7,648 1186.5,648.2 1188,648.6 1190.8,649.9 1192.3,650.9 1195.1,653.3 1199.4,658.1 1203.7,664.2 1208,671.1 1222.3,696.5 1229.5,708.3 1233.8,714.5 1236.7,718.3 1242.4,724.8 1245.3,727.5 1249.6,731 1253.9,733.8 1258.2,736 1262.5,737.7 1266.8,739 1271.1,740 1276.8,740.9" fill="none" stroke="#ee1010" stroke-width="2.5" stroke-linejoin="round"/><polyline points="932.9,742.2 967.3,742.1 988.8,741.7 1006,740.8 1020.3,739.4 1033.2,737.3 1044.7,734.7 1056.1,731.4 1080.5,723.7 1090.5,721.1 1096.3,719.9 1102,719.1 1107.7,718.6 1112,718.5 1116.3,718.7 1122,719.2 1127.8,720 1133.5,721.2 1143.5,723.9 1166.5,731.2 1177.9,734.4 1189.4,737.1 1200.9,739.1 1213.8,740.5 1229.5,741.5 1248.1,742 1276.8,742.2" fill="none" stroke="#0808ee" stroke-width="2.5" stroke-linejoin="round"/><text x="924.1" y="750.2" text-anchor="end" font-size="22" font-family='"Liberation Sans", Arial, Helvetica, sans-serif'>0.0</text><text x="924.1" y="656.33" text-anchor="end" font-size="22" font-family='"Liberation Sans", Arial, Helvetica, sans-serif'>0.1</text><text x="939.3" y="629.7" font-size="22.8" font-family='"Liberation Sans", Arial, Helvetica, sans-serif'>10 μM GDP</text><text x="939.3" y="657.7" font-size="22.8" font-family='"Liberation Sans", Arial, Helvetica, sans-serif'>n = 465</text><line x1="967.29" y1="742.2" x2="967.29" y2="883" stroke="#a0a0a0" stroke-width="1.8"/><line x1="1001.68" y1="883" x2="1001.68" y2="742.2" stroke="#8c8c8c" stroke-width="1.5" stroke-dasharray="6.75,5.5"/><line x1="1036.07" y1="742.2" x2="1036.07" y2="883" stroke="#a0a0a0" stroke-width="1.8"/><line x1="1070.46" y1="883" x2="1070.46" y2="742.2" stroke="#8c8c8c" stroke-width="1.5" stroke-dasharray="6.75,5.5"/><line x1="1104.85" y1="742.2" x2="1104.85" y2="883" stroke="#a0a0a0" stroke-width="1.8"/><line x1="1139.24" y1="883" x2="1139.24" y2="742.2" stroke="#8c8c8c" stroke-width="1.5" stroke-dasharray="6.75,5.5"/><line x1="1173.63" y1="742.2" x2="1173.63" y2="883" stroke="#a0a0a0" stroke-width="1.8"/><line x1="1208.02" y1="883" x2="1208.02" y2="742.2" stroke="#8c8c8c" stroke-width="1.5" stroke-dasharray="6.75,5.5"/><line x1="1242.41" y1="742.2" x2="1242.41" y2="883" stroke="#a0a0a0" stroke-width="1.8"/><rect x="933.9" y="743.2" width="127.57" height="63.3" fill="#fff"/><path d="M991.5 883V882.2H996.4V883zM1001.8 883V880.9H1006.7V883zM1012.1 883V878.7H1017.1V883zM1022.4 883V877.7H1027.4V883zM1032.7 883V876.7H1037.7V883zM1043 883V874.1H1048V883zM1053.4 883V874.5H1058.3V883zM1063.7 883V869.9H1068.6V883zM1074 883V868.9H1079V883zM1084.3 883V865.4H1089.3V883zM1094.6 883V860.6H1099.6V883zM1104.9 883V858.2H1109.9V883zM1115.3 883V857.6H1120.2V883zM1125.6 883V856.3H1130.5V883zM1135.9 883V858.5H1140.9V883zM1146.2 883V868.6H1151.2V883zM1156.5 883V874.5H1161.5V883zM1166.9 883V877.4H1171.8V883zM1177.2 883V879.7H1182.1V883zM1187.5 883V878.7H1192.4V883zM1197.8 883V880.3H1202.8V883zM1208.1 883V881.4H1213.1V883zM1218.4 883V882.1H1223.4V883z" fill="#a5dca0"/><path d="M1099.8 883V882H1104.8V883zM1110.1 883V880.5H1115.1V883zM1120.4 883V877.1H1125.4V883zM1130.7 883V871.2H1135.7V883zM1141.1 883V855.6H1146V883zM1151.4 883V837.2H1156.3V883zM1161.7 883V820.6H1166.7V883zM1172 883V803.7H1177V883zM1182.3 883V794.4H1187.3V883zM1192.6 883V797.9H1197.6V883zM1203 883V812.1H1207.9V883zM1213.3 883V830.3H1218.2V883zM1223.6 883V842.9H1228.6V883zM1233.9 883V854.6H1238.9V883zM1244.2 883V861.9H1249.2V883zM1254.5 883V869.9H1259.5V883zM1264.9 883V874.1H1269.8V883zM1275.2 883V875.1H1276.7V883z" fill="#fdd0a0"/><path d="M991.5 883V882.2H996.4V883M1001.8 883V880.9H1006.7V883M1012.1 883V878.7H1017.1V883M1022.4 883V877.7H1027.4V883M1032.7 883V876.7H1037.7V883M1043 883V874.1H1048V883M1053.4 883V874.5H1058.3V883M1063.7 883V869.9H1068.6V883M1074 883V868.9H1079V883M1084.3 883V865.4H1089.3V883M1094.6 883V860.6H1099.6V883M1099.8 883V882H1104.8V883M1104.9 883V858.2H1109.9V883M1110.1 883V880.5H1115.1V883M1115.3 883V857.6H1120.2V883M1120.4 883V877.1H1125.4V883M1125.6 883V856.3H1130.5V883M1130.7 883V871.2H1135.7V883M1135.9 883V858.5H1140.9V883M1141.1 883V855.6H1146V883M1146.2 883V868.6H1151.2V883M1151.4 883V837.2H1156.3V883M1156.5 883V874.5H1161.5V883M1161.7 883V820.6H1166.7V883M1166.9 883V877.4H1171.8V883M1172 883V803.7H1177V883M1177.2 883V879.7H1182.1V883M1182.3 883V794.4H1187.3V883M1187.5 883V878.7H1192.4V883M1192.6 883V797.9H1197.6V883M1197.8 883V880.3H1202.8V883M1203 883V812.1H1207.9V883M1208.1 883V881.4H1213.1V883M1213.3 883V830.3H1218.2V883M1218.4 883V882.1H1223.4V883M1223.6 883V842.9H1228.6V883M1233.9 883V854.6H1238.9V883M1244.2 883V861.9H1249.2V883M1254.5 883V869.9H1259.5V883M1264.9 883V874.1H1269.8V883M1275.2 883V875.1H1276.7V883" fill="none" stroke="#1a1a1a" stroke-width="1.25"/><path d="M993.9 882.2v-0.9m-1.5 0h3M1004.3 880.9v-0.9m-1.5 0h3M1014.6 878.7v-1m-1.5 0h3M1024.9 877.7v-1.1m-1.5 0h3M1035.2 876.7v-1.1m-1.5 0h3M1045.5 874.1v-1.3m-1.5 0h3M1055.8 874.5v-1.3m-1.5 0h3M1066.2 869.9v-1.5m-1.5 0h3M1076.5 868.9v-1.5m-1.5 0h3M1086.8 865.4v-1.7m-1.5 0h3M1097.1 860.6v-1.9m-1.5 0h3M1102.3 882v-0.9m-1.5 0h3M1107.4 858.2v-2m-1.5 0h3M1112.6 880.5v-1m-1.5 0h3M1117.7 857.6v-2.1m-1.5 0h3M1122.9 877.1v-1.1m-1.5 0h3M1128.1 856.3v-2.1m-1.5 0h3M1133.2 871.2v-1.4m-1.5 0h3M1138.4 858.5v-2m-1.5 0h3M1143.5 855.6v-2.2m-1.5 0h3M1148.7 868.6v-1.5m-1.5 0h3M1153.9 837.2v-3m-1.5 0h3M1159 874.5v-1.3m-1.5 0h3M1164.2 820.6v-3.8m-1.5 0h3M1169.3 877.4v-1.1m-1.5 0h3M1174.5 803.7v-4.7m-1.5 0h3M1179.6 879.7v-1m-1.5 0h3M1184.8 794.4v-5.1m-1.5 0h3M1190 878.7v-1.1m-1.5 0h3M1195.1 797.9v-4.9m-1.5 0h3M1200.3 880.3v-1m-1.5 0h3M1205.4 812.1v-4.2m-1.5 0h3M1210.6 881.4v-0.9m-1.5 0h3M1215.8 830.3v-3.4m-1.5 0h3M1220.9 882.1v-0.9m-1.5 0h3M1226.1 842.9v-2.8m-1.5 0h3M1236.4 854.6v-2.2m-1.5 0h3M1246.7 861.9v-1.9m-1.5 0h3M1257 869.9v-1.5m-1.5 0h3M1267.3 874.1v-1.3m-1.5 0h3M1275.9 875.1v-1.2m-1.5 0h3" stroke="#aaa" stroke-width="0.8" fill="none"/><polyline points="932.9,883 1060.4,883 1084.8,882.8 1094.8,882.4 1103.4,881.6 1110.6,880.4 1116.3,878.7 1122,876.3 1127.8,872.9 1130.6,870.8 1133.5,868.3 1137.8,864 1143.5,857.1 1149.3,848.9 1155,839.6 1167.9,817.7 1172.2,811.1 1175.1,807.2 1179.4,802.4 1182.2,799.9 1183.7,798.9 1186.5,797.5 1188,797 1190.8,796.7 1193.7,797.2 1195.1,797.7 1198,799.4 1199.4,800.4 1202.3,803.1 1206.6,808.1 1209.5,812.1 1213.8,818.8 1226.6,840.8 1232.4,849.9 1236.7,856.1 1239.5,859.8 1245.3,866.3 1248.1,869 1252.4,872.4 1255.3,874.3 1259.6,876.6 1263.9,878.5 1268.2,879.8 1272.5,880.8 1276.8,881.5" fill="none" stroke="#ee1010" stroke-width="2.5" stroke-linejoin="round"/><polyline points="932.9,883 968.7,882.9 990.2,882.5 1007.4,881.6 1021.7,880 1028.9,878.8 1034.6,877.6 1046.1,874.6 1057.6,870.9 1080.5,862.7 1090.5,859.6 1096.3,858.3 1100.6,857.6 1106.3,857 1110.6,856.8 1114.9,856.9 1120.6,857.5 1126.3,858.4 1132.1,859.8 1142.1,862.8 1165,871.1 1175.1,874.4 1186.5,877.4 1198,879.6 1210.9,881.2 1226.6,882.3 1246.7,882.8 1276.8,883" fill="none" stroke="#0808ee" stroke-width="2.5" stroke-linejoin="round"/><text x="924.1" y="891" text-anchor="end" font-size="22" font-family='"Liberation Sans", Arial, Helvetica, sans-serif'>0.0</text><text x="924.1" y="797.13" text-anchor="end" font-size="22" font-family='"Liberation Sans", Arial, Helvetica, sans-serif'>0.1</text><text x="939.3" y="770.5" font-size="22.8" font-family='"Liberation Sans", Arial, Helvetica, sans-serif'>30 μM GDP</text><text x="939.3" y="798.5" font-size="22.8" font-family='"Liberation Sans", Arial, Helvetica, sans-serif'>n = 526</text><line x1="932.6" y1="179" x2="1276.8" y2="179" stroke="#000018" stroke-width="2.4" stroke-opacity="0.72"/><path d="M967.29 179v4M1001.68 179v4M1036.07 179v4M1070.46 179v4M1104.85 179v4M1139.24 179v4M1173.63 179v4M1208.02 179v4M1242.41 179v4M932.6 132.07h-4.5M1276.8 132.07h-4.5M932.6 85.13h-4.5M1276.8 85.13h-4.5M932.6 179h-4.5" stroke="#111" stroke-width="1.5" fill="none"/><line x1="932.6" y1="319.8" x2="1276.8" y2="319.8" stroke="#000018" stroke-width="2.4" stroke-opacity="0.72"/><path d="M967.29 319.8v4M1001.68 319.8v4M1036.07 319.8v4M1070.46 319.8v4M1104.85 319.8v4M1139.24 319.8v4M1173.63 319.8v4M1208.02 319.8v4M1242.41 319.8v4M932.6 272.87h-4.5M1276.8 272.87h-4.5M932.6 225.93h-4.5M1276.8 225.93h-4.5M932.6 319.8h-4.5" stroke="#111" stroke-width="1.5" fill="none"/><line x1="932.6" y1="460.6" x2="1276.8" y2="460.6" stroke="#000018" stroke-width="2.4" stroke-opacity="0.72"/><path d="M967.29 460.6v4M1001.68 460.6v4M1036.07 460.6v4M1070.46 460.6v4M1104.85 460.6v4M1139.24 460.6v4M1173.63 460.6v4M1208.02 460.6v4M1242.41 460.6v4M932.6 413.67h-4.5M1276.8 413.67h-4.5M932.6 366.73h-4.5M1276.8 366.73h-4.5M932.6 460.6h-4.5" stroke="#111" stroke-width="1.5" fill="none"/><line x1="932.6" y1="601.4" x2="1276.8" y2="601.4" stroke="#000018" stroke-width="2.4" stroke-opacity="0.72"/><path d="M967.29 601.4v4M1001.68 601.4v4M1036.07 601.4v4M1070.46 601.4v4M1104.85 601.4v4M1139.24 601.4v4M1173.63 601.4v4M1208.02 601.4v4M1242.41 601.4v4M932.6 554.47h-4.5M1276.8 554.47h-4.5M932.6 507.53h-4.5M1276.8 507.53h-4.5M932.6 601.4h-4.5" stroke="#111" stroke-width="1.5" fill="none"/><line x1="932.6" y1="742.2" x2="1276.8" y2="742.2" stroke="#000018" stroke-width="2.4" stroke-opacity="0.72"/><path d="M967.29 742.2v4M1001.68 742.2v4M1036.07 742.2v4M1070.46 742.2v4M1104.85 742.2v4M1139.24 742.2v4M1173.63 742.2v4M1208.02 742.2v4M1242.41 742.2v4M932.6 695.27h-4.5M1276.8 695.27h-4.5M932.6 648.33h-4.5M1276.8 648.33h-4.5M932.6 742.2h-4.5" stroke="#111" stroke-width="1.5" fill="none"/><line x1="932.6" y1="883" x2="1276.8" y2="883" stroke="#000018" stroke-width="2.4" stroke-opacity="0.72"/><path d="M967.29 883v4M1001.68 883v4M1036.07 883v4M1070.46 883v4M1104.85 883v4M1139.24 883v4M1173.63 883v4M1208.02 883v4M1242.41 883v4M932.6 836.07h-4.5M1276.8 836.07h-4.5M932.6 789.13h-4.5M1276.8 789.13h-4.5M932.6 883h-4.5" stroke="#111" stroke-width="1.5" fill="none"/><path d="M967.29 38.2v4M1001.68 38.2v4M1036.07 38.2v4M1070.46 38.2v4M1104.85 38.2v4M1139.24 38.2v4M1173.63 38.2v4M1208.02 38.2v4M1242.41 38.2v4M932.6 38.2h-4.5" stroke="#111" stroke-width="1.5" fill="none"/><path d="M932.6 887V38.2H1276.8V883" stroke="#111" stroke-width="1.8" fill="none"/><line x1="1070.46" y1="69.5" x2="1070.46" y2="883" stroke="#fff" stroke-width="4"/><line x1="1104.85" y1="39.2" x2="1104.85" y2="883" stroke="#fff" stroke-width="4"/><line x1="1070.46" y1="69.5" x2="1070.46" y2="883" stroke="#00893f" stroke-width="3.2" stroke-dasharray="13.7,9.9" stroke-dashoffset="0"/><line x1="1104.85" y1="38.2" x2="1104.85" y2="883" stroke="#0a14e6" stroke-width="3.2" stroke-dasharray="13.7,9.9" stroke-dashoffset="16.4"/><text x="967.29" y="909.5" text-anchor="middle" font-size="22.5" font-family='"Liberation Sans", Arial, Helvetica, sans-serif'>0.2</text><text x="1036.07" y="909.5" text-anchor="middle" font-size="22.5" font-family='"Liberation Sans", Arial, Helvetica, sans-serif'>0.4</text><text x="1104.85" y="909.5" text-anchor="middle" font-size="22.5" font-family='"Liberation Sans", Arial, Helvetica, sans-serif'>0.6</text><text x="1173.63" y="909.5" text-anchor="middle" font-size="22.5" font-family='"Liberation Sans", Arial, Helvetica, sans-serif'>0.8</text><text x="1242.41" y="909.5" text-anchor="middle" font-size="22.5" font-family='"Liberation Sans", Arial, Helvetica, sans-serif'>1.0</text><text x="1109" y="940.5" text-anchor="middle" font-size="28.4" font-family='"Liberation Sans", Arial, Helvetica, sans-serif'>FRET</text><text x="1103.4" y="25" text-anchor="middle" font-size="33.3" font-family='"Liberation Sans", Arial, Helvetica, sans-serif'>MP</text></g>
<g><line x1="1387.57" y1="38.2" x2="1387.57" y2="179.35" stroke="#a0a0a0" stroke-width="1.8"/><line x1="1422.05" y1="179.35" x2="1422.05" y2="38.2" stroke="#8c8c8c" stroke-width="1.5" stroke-dasharray="6.75,5.5"/><line x1="1456.52" y1="38.2" x2="1456.52" y2="179.35" stroke="#a0a0a0" stroke-width="1.8"/><line x1="1491" y1="179.35" x2="1491" y2="38.2" stroke="#8c8c8c" stroke-width="1.5" stroke-dasharray="6.75,5.5"/><line x1="1525.47" y1="38.2" x2="1525.47" y2="179.35" stroke="#a0a0a0" stroke-width="1.8"/><line x1="1559.95" y1="179.35" x2="1559.95" y2="38.2" stroke="#8c8c8c" stroke-width="1.5" stroke-dasharray="6.75,5.5"/><line x1="1594.42" y1="38.2" x2="1594.42" y2="179.35" stroke="#a0a0a0" stroke-width="1.8"/><line x1="1628.9" y1="179.35" x2="1628.9" y2="38.2" stroke="#8c8c8c" stroke-width="1.5" stroke-dasharray="6.75,5.5"/><line x1="1663.38" y1="38.2" x2="1663.38" y2="179.35" stroke="#a0a0a0" stroke-width="1.8"/><rect x="1354.1" y="39.2" width="131.99" height="59.9" fill="#fff"/><path d="M1401.5 179.4V178.4H1406.4V179.4zM1411.8 179.4V177H1416.8V179.4zM1422.1 179.4V175.4H1427.1V179.4zM1432.5 179.4V170.5H1437.5V179.4zM1442.8 179.4V166H1447.8V179.4zM1453.2 179.4V154.8H1458.1V179.4zM1463.5 179.4V142.2H1468.5V179.4zM1473.9 179.4V129.8H1478.8V179.4zM1484.2 179.4V114.2H1489.2V179.4zM1494.5 179.4V103.1H1499.5V179.4zM1504.9 179.4V103.5H1509.9V179.4zM1515.2 179.4V111.6H1520.2V179.4zM1525.6 179.4V119.4H1530.5V179.4zM1535.9 179.4V133.1H1540.9V179.4zM1546.3 179.4V141.8H1551.2V179.4zM1556.6 179.4V157.8H1561.6V179.4zM1566.9 179.4V165H1571.9V179.4zM1577.3 179.4V170.5H1582.3V179.4zM1587.6 179.4V174.8H1592.6V179.4zM1598 179.4V176.7H1602.9V179.4z" fill="#a5dca0"/><path d="M1499.7 179.4V178H1504.7V179.4zM1510.1 179.4V176.7H1515V179.4zM1520.4 179.4V174.6H1525.4V179.4zM1530.7 179.4V174.4H1535.7V179.4zM1541.1 179.4V168.9H1546.1V179.4zM1551.4 179.4V158.5H1556.4V179.4zM1561.8 179.4V148.7H1566.7V179.4zM1572.1 179.4V145.7H1577.1V179.4zM1582.5 179.4V145.4H1587.4V179.4zM1592.8 179.4V147.8H1597.8V179.4zM1603.1 179.4V150H1608.1V179.4zM1613.5 179.4V154.6H1618.5V179.4zM1623.8 179.4V157.8H1628.8V179.4zM1634.2 179.4V162.6H1639.1V179.4zM1644.5 179.4V166.3H1649.5V179.4zM1654.9 179.4V170.5H1659.8V179.4zM1665.2 179.4V173.5H1670.2V179.4zM1675.5 179.4V174.4H1680.5V179.4zM1685.9 179.4V175.7H1690.9V179.4zM1696.2 179.4V176.7H1697.8V179.4z" fill="#fdd0a0"/><path d="M1401.5 179.4V178.4H1406.4V179.4M1411.8 179.4V177H1416.8V179.4M1422.1 179.4V175.4H1427.1V179.4M1432.5 179.4V170.5H1437.5V179.4M1442.8 179.4V166H1447.8V179.4M1453.2 179.4V154.8H1458.1V179.4M1463.5 179.4V142.2H1468.5V179.4M1473.9 179.4V129.8H1478.8V179.4M1484.2 179.4V114.2H1489.2V179.4M1494.5 179.4V103.1H1499.5V179.4M1499.7 179.4V178H1504.7V179.4M1504.9 179.4V103.5H1509.9V179.4M1510.1 179.4V176.7H1515V179.4M1515.2 179.4V111.6H1520.2V179.4M1520.4 179.4V174.6H1525.4V179.4M1525.6 179.4V119.4H1530.5V179.4M1530.7 179.4V174.4H1535.7V179.4M1535.9 179.4V133.1H1540.9V179.4M1541.1 179.4V168.9H1546.1V179.4M1546.3 179.4V141.8H1551.2V179.4M1551.4 179.4V158.5H1556.4V179.4M1556.6 179.4V157.8H1561.6V179.4M1561.8 179.4V148.7H1566.7V179.4M1566.9 179.4V165H1571.9V179.4M1572.1 179.4V145.7H1577.1V179.4M1577.3 179.4V170.5H1582.3V179.4M1582.5 179.4V145.4H1587.4V179.4M1587.6 179.4V174.8H1592.6V179.4M1592.8 179.4V147.8H1597.8V179.4M1598 179.4V176.7H1602.9V179.4M1603.1 179.4V150H1608.1V179.4M1613.5 179.4V154.6H1618.5V179.4M1623.8 179.4V157.8H1628.8V179.4M1634.2 179.4V162.6H1639.1V179.4M1644.5 179.4V166.3H1649.5V179.4M1654.9 179.4V170.5H1659.8V179.4M1665.2 179.4V173.5H1670.2V179.4M1675.5 179.4V174.4H1680.5V179.4M1685.9 179.4V175.7H1690.9V179.4M1696.2 179.4V176.7H1697.8V179.4" fill="none" stroke="#1a1a1a" stroke-width="1.25"/><path d="M1404 178.4v-0.9m-1.5 0h3M1414.3 177v-1m-1.5 0h3M1424.6 175.4v-1m-1.5 0h3M1435 170.5v-1.3m-1.5 0h3M1445.3 166v-1.5m-1.5 0h3M1455.7 154.8v-2m-1.5 0h3M1466 142.2v-2.6m-1.5 0h3M1476.3 129.8v-3.2m-1.5 0h3M1486.7 114.2v-4m-1.5 0h3M1497 103.1v-4.5m-1.5 0h3M1502.2 178v-0.9m-1.5 0h3M1507.4 103.5v-4.5m-1.5 0h3M1512.5 176.7v-1m-1.5 0h3M1517.7 111.6v-4.1m-1.5 0h3M1522.9 174.6v-1.1m-1.5 0h3M1528.1 119.4v-3.7m-1.5 0h3M1533.2 174.4v-1.1m-1.5 0h3M1538.4 133.1v-3.1m-1.5 0h3M1543.6 168.9v-1.3m-1.5 0h3M1548.7 141.8v-2.6m-1.5 0h3M1553.9 158.5v-1.8m-1.5 0h3M1559.1 157.8v-1.9m-1.5 0h3M1564.3 148.7v-2.3m-1.5 0h3M1569.4 165v-1.5m-1.5 0h3M1574.6 145.7v-2.5m-1.5 0h3M1579.8 170.5v-1.3m-1.5 0h3M1584.9 145.4v-2.5m-1.5 0h3M1590.1 174.8v-1.1m-1.5 0h3M1595.3 147.8v-2.4m-1.5 0h3M1600.5 176.7v-1m-1.5 0h3M1605.6 150v-2.3m-1.5 0h3M1616 154.6v-2m-1.5 0h3M1626.3 157.8v-1.9m-1.5 0h3M1636.7 162.6v-1.6m-1.5 0h3M1647 166.3v-1.5m-1.5 0h3M1657.3 170.5v-1.3m-1.5 0h3M1667.7 173.5v-1.1m-1.5 0h3M1678 174.4v-1.1m-1.5 0h3M1688.4 175.7v-1m-1.5 0h3M1697 176.7v-1m-1.5 0h3" stroke="#aaa" stroke-width="0.8" fill="none"/><polyline points="1353.1,179.3 1447.9,179.3 1473.8,179.2 1485.3,178.9 1493.9,178.5 1501.1,177.9 1508.2,177 1514,176 1519.7,174.8 1525.5,173.2 1531.2,171.2 1537,168.9 1544.1,165.5 1567.1,152.9 1575.8,148.8 1581.5,146.7 1585.8,145.5 1590.1,144.8 1594.4,144.5 1598.7,144.7 1603,145.4 1607.4,146.5 1613.1,148.5 1621.7,152.6 1640.4,162.9 1647.6,166.6 1654.8,169.8 1661.9,172.5 1669.1,174.6 1677.7,176.4 1687.8,177.8 1697.8,178.6" fill="none" stroke="#ee1010" stroke-width="2.5" stroke-linejoin="round"/><polyline points="1353.1,179.3 1389,179.2 1399.1,178.9 1407.7,178.3 1414.9,177.4 1422,175.9 1427.8,174.1 1433.5,171.6 1439.3,168.2 1443.6,165.1 1447.9,161.4 1453.7,155.5 1458,150.5 1462.3,145 1476.6,125.1 1480.9,119.4 1485.3,114.2 1488.1,111.2 1492.4,107.4 1496.7,104.6 1499.6,103.5 1501.1,103.1 1503.9,102.8 1506.8,103.1 1508.2,103.5 1511.1,104.6 1514,106.3 1518.3,109.8 1522.6,114.2 1526.9,119.4 1531.2,125.1 1545.6,145 1551.3,152.2 1555.6,157.1 1561.4,162.7 1567.1,167.2 1572.9,170.8 1578.6,173.5 1584.4,175.5 1591.6,177.1 1598.7,178.1 1608.8,178.9 1630.3,179.3 1697.8,179.3" fill="none" stroke="#0808ee" stroke-width="2.5" stroke-linejoin="round"/><text x="1344.3" y="187.35" text-anchor="end" font-size="22" font-family='"Liberation Sans", Arial, Helvetica, sans-serif'>0.0</text><text x="1344.3" y="93.25" text-anchor="end" font-size="22" font-family='"Liberation Sans", Arial, Helvetica, sans-serif'>0.1</text><text x="1360.1" y="65.4" font-size="20.4" font-family='"Liberation Sans", Arial, Helvetica, sans-serif'>0.15 μM GDP</text><text x="1360.1" y="91.1" font-size="20.4" font-family='"Liberation Sans", Arial, Helvetica, sans-serif'>n = 738</text><line x1="1387.57" y1="179.35" x2="1387.57" y2="320.5" stroke="#a0a0a0" stroke-width="1.8"/><line x1="1422.05" y1="320.5" x2="1422.05" y2="179.35" stroke="#8c8c8c" stroke-width="1.5" stroke-dasharray="6.75,5.5"/><line x1="1456.52" y1="179.35" x2="1456.52" y2="320.5" stroke="#a0a0a0" stroke-width="1.8"/><line x1="1491" y1="320.5" x2="1491" y2="179.35" stroke="#8c8c8c" stroke-width="1.5" stroke-dasharray="6.75,5.5"/><line x1="1525.47" y1="179.35" x2="1525.47" y2="320.5" stroke="#a0a0a0" stroke-width="1.8"/><line x1="1559.95" y1="320.5" x2="1559.95" y2="179.35" stroke="#8c8c8c" stroke-width="1.5" stroke-dasharray="6.75,5.5"/><line x1="1594.42" y1="179.35" x2="1594.42" y2="320.5" stroke="#a0a0a0" stroke-width="1.8"/><line x1="1628.9" y1="320.5" x2="1628.9" y2="179.35" stroke="#8c8c8c" stroke-width="1.5" stroke-dasharray="6.75,5.5"/><line x1="1663.38" y1="179.35" x2="1663.38" y2="320.5" stroke="#a0a0a0" stroke-width="1.8"/><rect x="1354.1" y="180.35" width="133.9" height="63.3" fill="#fff"/><path d="M1401.5 320.5V319.3H1406.4V320.5zM1411.8 320.5V317.8H1416.8V320.5zM1422.1 320.5V316.7H1427.1V320.5zM1432.5 320.5V311.8H1437.5V320.5zM1442.8 320.5V304.4H1447.8V320.5zM1453.2 320.5V295.6H1458.1V320.5zM1463.5 320.5V285.4H1468.5V320.5zM1473.9 320.5V270.8H1478.8V320.5zM1484.2 320.5V258.4H1489.2V320.5zM1494.5 320.5V251H1499.5V320.5zM1504.9 320.5V251H1509.9V320.5zM1515.2 320.5V256.5H1520.2V320.5zM1525.6 320.5V268.2H1530.5V320.5zM1535.9 320.5V277.6H1540.9V320.5zM1546.3 320.5V286.7H1551.2V320.5zM1556.6 320.5V295.6H1561.6V320.5zM1566.9 320.5V306.6H1571.9V320.5zM1577.3 320.5V312.5H1582.3V320.5zM1587.6 320.5V316.1H1592.6V320.5zM1598 320.5V317.7H1602.9V320.5z" fill="#a5dca0"/><path d="M1499.7 320.5V319.5H1504.7V320.5zM1510.1 320.5V318.3H1515V320.5zM1520.4 320.5V316.1H1525.4V320.5zM1530.7 320.5V312.4H1535.7V320.5zM1541.1 320.5V309.9H1546.1V320.5zM1551.4 320.5V294.9H1556.4V320.5zM1561.8 320.5V287.5H1566.7V320.5zM1572.1 320.5V281.9H1577.1V320.5zM1582.5 320.5V280.2H1587.4V320.5zM1592.8 320.5V280.2H1597.8V320.5zM1603.1 320.5V284.5H1608.1V320.5zM1613.5 320.5V291.4H1618.5V320.5zM1623.8 320.5V295.8H1628.8V320.5zM1634.2 320.5V302.7H1639.1V320.5zM1644.5 320.5V308.3H1649.5V320.5zM1654.9 320.5V311.5H1659.8V320.5zM1665.2 320.5V314.8H1670.2V320.5zM1675.5 320.5V315.8H1680.5V320.5zM1685.9 320.5V316.7H1690.9V320.5zM1696.2 320.5V318H1697.8V320.5z" fill="#fdd0a0"/><path d="M1401.5 320.5V319.3H1406.4V320.5M1411.8 320.5V317.8H1416.8V320.5M1422.1 320.5V316.7H1427.1V320.5M1432.5 320.5V311.8H1437.5V320.5M1442.8 320.5V304.4H1447.8V320.5M1453.2 320.5V295.6H1458.1V320.5M1463.5 320.5V285.4H1468.5V320.5M1473.9 320.5V270.8H1478.8V320.5M1484.2 320.5V258.4H1489.2V320.5M1494.5 320.5V251H1499.5V320.5M1499.7 320.5V319.5H1504.7V320.5M1504.9 320.5V251H1509.9V320.5M1510.1 320.5V318.3H1515V320.5M1515.2 320.5V256.5H1520.2V320.5M1520.4 320.5V316.1H1525.4V320.5M1525.6 320.5V268.2H1530.5V320.5M1530.7 320.5V312.4H1535.7V320.5M1535.9 320.5V277.6H1540.9V320.5M1541.1 320.5V309.9H1546.1V320.5M1546.3 320.5V286.7H1551.2V320.5M1551.4 320.5V294.9H1556.4V320.5M1556.6 320.5V295.6H1561.6V320.5M1561.8 320.5V287.5H1566.7V320.5M1566.9 320.5V306.6H1571.9V320.5M1572.1 320.5V281.9H1577.1V320.5M1577.3 320.5V312.5H1582.3V320.5M1582.5 320.5V280.2H1587.4V320.5M1587.6 320.5V316.1H1592.6V320.5M1592.8 320.5V280.2H1597.8V320.5M1598 320.5V317.7H1602.9V320.5M1603.1 320.5V284.5H1608.1V320.5M1613.5 320.5V291.4H1618.5V320.5M1623.8 320.5V295.8H1628.8V320.5M1634.2 320.5V302.7H1639.1V320.5M1644.5 320.5V308.3H1649.5V320.5M1654.9 320.5V311.5H1659.8V320.5M1665.2 320.5V314.8H1670.2V320.5M1675.5 320.5V315.8H1680.5V320.5M1685.9 320.5V316.7H1690.9V320.5M1696.2 320.5V318H1697.8V320.5" fill="none" stroke="#1a1a1a" stroke-width="1.25"/><path d="M1404 319.3v-0.9m-1.5 0h3M1414.3 317.8v-1m-1.5 0h3M1424.6 316.7v-1m-1.5 0h3M1435 311.8v-1.3m-1.5 0h3M1445.3 304.4v-1.6m-1.5 0h3M1455.7 295.6v-2m-1.5 0h3M1466 285.4v-2.5m-1.5 0h3M1476.3 270.8v-3.2m-1.5 0h3M1486.7 258.4v-3.8m-1.5 0h3M1497 251v-4.2m-1.5 0h3M1502.2 319.5v-0.9m-1.5 0h3M1507.4 251v-4.2m-1.5 0h3M1512.5 318.3v-1m-1.5 0h3M1517.7 256.5v-3.9m-1.5 0h3M1522.9 316.1v-1.1m-1.5 0h3M1528.1 268.2v-3.4m-1.5 0h3M1533.2 312.4v-1.2m-1.5 0h3M1538.4 277.6v-2.9m-1.5 0h3M1543.6 309.9v-1.4m-1.5 0h3M1548.7 286.7v-2.5m-1.5 0h3M1553.9 294.9v-2.1m-1.5 0h3M1559.1 295.6v-2m-1.5 0h3M1564.3 287.5v-2.4m-1.5 0h3M1569.4 306.6v-1.5m-1.5 0h3M1574.6 281.9v-2.7m-1.5 0h3M1579.8 312.5v-1.2m-1.5 0h3M1584.9 280.2v-2.8m-1.5 0h3M1590.1 316.1v-1.1m-1.5 0h3M1595.3 280.2v-2.8m-1.5 0h3M1600.5 317.7v-1m-1.5 0h3M1605.6 284.5v-2.6m-1.5 0h3M1616 291.4v-2.2m-1.5 0h3M1626.3 295.8v-2m-1.5 0h3M1636.7 302.7v-1.7m-1.5 0h3M1647 308.3v-1.4m-1.5 0h3M1657.3 311.5v-1.3m-1.5 0h3M1667.7 314.8v-1.1m-1.5 0h3M1678 315.8v-1.1m-1.5 0h3M1688.4 316.7v-1m-1.5 0h3M1697 318v-1m-1.5 0h3" stroke="#aaa" stroke-width="0.8" fill="none"/><polyline points="1353.1,320.5 1478.1,320.4 1496.7,319.7 1503.9,319.1 1511.1,318.1 1516.9,317 1522.6,315.4 1528.3,313.4 1534.1,310.8 1539.8,307.8 1545.6,304.2 1551.3,300.2 1565.7,289.7 1570,286.7 1574.3,284.1 1578.6,282 1582.9,280.3 1587.2,279.3 1591.6,278.9 1595.9,279.2 1600.2,280.2 1604.5,281.7 1608.8,283.8 1613.1,286.4 1617.4,289.3 1633.2,300.8 1640.4,305.7 1644.7,308.3 1649,310.6 1656.2,313.7 1660.5,315.2 1664.8,316.5 1673.4,318.2 1679.2,319 1684.9,319.6 1697.8,320.2" fill="none" stroke="#ee1010" stroke-width="2.5" stroke-linejoin="round"/><polyline points="1353.1,320.5 1387.6,320.3 1397.6,320 1406.2,319.3 1413.4,318.4 1420.6,317 1426.4,315.2 1432.1,312.9 1437.9,309.8 1442.2,306.9 1446.5,303.6 1452.2,298.3 1456.5,293.9 1460.8,289 1479.5,266.4 1483.8,261.8 1488.1,257.8 1492.4,254.5 1496.7,252.2 1501.1,250.9 1503.9,250.7 1506.8,250.9 1511.1,252.2 1515.4,254.5 1519.7,257.8 1524,261.8 1528.3,266.4 1547,289 1552.8,295.4 1557.1,299.7 1562.8,304.7 1568.6,308.9 1574.3,312.2 1577.2,313.5 1581.5,315.2 1587.2,317 1594.4,318.4 1601.6,319.3 1611.7,320 1633.2,320.4 1697.8,320.5" fill="none" stroke="#0808ee" stroke-width="2.5" stroke-linejoin="round"/><text x="1344.3" y="328.5" text-anchor="end" font-size="22" font-family='"Liberation Sans", Arial, Helvetica, sans-serif'>0.0</text><text x="1344.3" y="234.4" text-anchor="end" font-size="22" font-family='"Liberation Sans", Arial, Helvetica, sans-serif'>0.1</text><text x="1359.5" y="207.65" font-size="22.8" font-family='"Liberation Sans", Arial, Helvetica, sans-serif'>0.5 μM GDP</text><text x="1359.5" y="235.65" font-size="22.8" font-family='"Liberation Sans", Arial, Helvetica, sans-serif'>n = 983</text><line x1="1387.57" y1="320.5" x2="1387.57" y2="461.65" stroke="#a0a0a0" stroke-width="1.8"/><line x1="1422.05" y1="461.65" x2="1422.05" y2="320.5" stroke="#8c8c8c" stroke-width="1.5" stroke-dasharray="6.75,5.5"/><line x1="1456.52" y1="320.5" x2="1456.52" y2="461.65" stroke="#a0a0a0" stroke-width="1.8"/><line x1="1491" y1="461.65" x2="1491" y2="320.5" stroke="#8c8c8c" stroke-width="1.5" stroke-dasharray="6.75,5.5"/><line x1="1525.47" y1="320.5" x2="1525.47" y2="461.65" stroke="#a0a0a0" stroke-width="1.8"/><line x1="1559.95" y1="461.65" x2="1559.95" y2="320.5" stroke="#8c8c8c" stroke-width="1.5" stroke-dasharray="6.75,5.5"/><line x1="1594.42" y1="320.5" x2="1594.42" y2="461.65" stroke="#a0a0a0" stroke-width="1.8"/><line x1="1628.9" y1="461.65" x2="1628.9" y2="320.5" stroke="#8c8c8c" stroke-width="1.5" stroke-dasharray="6.75,5.5"/><line x1="1663.38" y1="320.5" x2="1663.38" y2="461.65" stroke="#a0a0a0" stroke-width="1.8"/><rect x="1354.1" y="321.5" width="114.89" height="63.3" fill="#fff"/><path d="M1401.5 461.6V460.2H1406.4V461.6zM1411.8 461.6V458.7H1416.8V461.6zM1422.1 461.6V458.5H1427.1V461.6zM1432.5 461.6V454.8H1437.5V461.6zM1442.8 461.6V449.3H1447.8V461.6zM1453.2 461.6V442.4H1458.1V461.6zM1463.5 461.6V433.3H1468.5V461.6zM1473.9 461.6V423.3H1478.8V461.6zM1484.2 461.6V413.1H1489.2V461.6zM1494.5 461.6V406.3H1499.5V461.6zM1504.9 461.6V407.2H1509.9V461.6zM1515.2 461.6V410.5H1520.2V461.6zM1525.6 461.6V418.3H1530.5V461.6zM1535.9 461.6V420.9H1540.9V461.6zM1546.3 461.6V427.7H1551.2V461.6zM1556.6 461.6V435.3H1561.6V461.6zM1566.9 461.6V447H1571.9V461.6zM1577.3 461.6V450.2H1582.3V461.6zM1587.6 461.6V456.1H1592.6V461.6zM1598 461.6V458.7H1602.9V461.6z" fill="#a5dca0"/><path d="M1499.7 461.6V460.4H1504.7V461.6zM1510.1 461.6V459H1515V461.6zM1520.4 461.6V456.4H1525.4V461.6zM1530.7 461.6V452.1H1535.7V461.6zM1541.1 461.6V454.8H1546.1V461.6zM1551.4 461.6V430.7H1556.4V461.6zM1561.8 461.6V420.7H1566.7V461.6zM1572.1 461.6V414.1H1577.1V461.6zM1582.5 461.6V410.5H1587.4V461.6zM1592.8 461.6V409.8H1597.8V461.6zM1603.1 461.6V415.4H1608.1V461.6zM1613.5 461.6V424.2H1618.5V461.6zM1623.8 461.6V431.1H1628.8V461.6zM1634.2 461.6V439.2H1639.1V461.6zM1644.5 461.6V447H1649.5V461.6zM1654.9 461.6V450.2H1659.8V461.6zM1665.2 461.6V453.5H1670.2V461.6zM1675.5 461.6V456.4H1680.5V461.6zM1685.9 461.6V457.7H1690.9V461.6zM1696.2 461.6V458.7H1697.8V461.6z" fill="#fdd0a0"/><path d="M1401.5 461.6V460.2H1406.4V461.6M1411.8 461.6V458.7H1416.8V461.6M1422.1 461.6V458.5H1427.1V461.6M1432.5 461.6V454.8H1437.5V461.6M1442.8 461.6V449.3H1447.8V461.6M1453.2 461.6V442.4H1458.1V461.6M1463.5 461.6V433.3H1468.5V461.6M1473.9 461.6V423.3H1478.8V461.6M1484.2 461.6V413.1H1489.2V461.6M1494.5 461.6V406.3H1499.5V461.6M1499.7 461.6V460.4H1504.7V461.6M1504.9 461.6V407.2H1509.9V461.6M1510.1 461.6V459H1515V461.6M1515.2 461.6V410.5H1520.2V461.6M1520.4 461.6V456.4H1525.4V461.6M1525.6 461.6V418.3H1530.5V461.6M1530.7 461.6V452.1H1535.7V461.6M1535.9 461.6V420.9H1540.9V461.6M1541.1 461.6V454.8H1546.1V461.6M1546.3 461.6V427.7H1551.2V461.6M1551.4 461.6V430.7H1556.4V461.6M1556.6 461.6V435.3H1561.6V461.6M1561.8 461.6V420.7H1566.7V461.6M1566.9 461.6V447H1571.9V461.6M1572.1 461.6V414.1H1577.1V461.6M1577.3 461.6V450.2H1582.3V461.6M1582.5 461.6V410.5H1587.4V461.6M1587.6 461.6V456.1H1592.6V461.6M1592.8 461.6V409.8H1597.8V461.6M1598 461.6V458.7H1602.9V461.6M1603.1 461.6V415.4H1608.1V461.6M1613.5 461.6V424.2H1618.5V461.6M1623.8 461.6V431.1H1628.8V461.6M1634.2 461.6V439.2H1639.1V461.6M1644.5 461.6V447H1649.5V461.6M1654.9 461.6V450.2H1659.8V461.6M1665.2 461.6V453.5H1670.2V461.6M1675.5 461.6V456.4H1680.5V461.6M1685.9 461.6V457.7H1690.9V461.6M1696.2 461.6V458.7H1697.8V461.6" fill="none" stroke="#1a1a1a" stroke-width="1.25"/><path d="M1404 460.2v-0.9m-1.5 0h3M1414.3 458.7v-1m-1.5 0h3M1424.6 458.5v-1m-1.5 0h3M1435 454.8v-1.2m-1.5 0h3M1445.3 449.3v-1.4m-1.5 0h3M1455.7 442.4v-1.8m-1.5 0h3M1466 433.3v-2.2m-1.5 0h3M1476.3 423.3v-2.7m-1.5 0h3M1486.7 413.1v-3.2m-1.5 0h3M1497 406.3v-3.5m-1.5 0h3M1502.2 460.4v-0.9m-1.5 0h3M1507.4 407.2v-3.5m-1.5 0h3M1512.5 459v-1m-1.5 0h3M1517.7 410.5v-3.3m-1.5 0h3M1522.9 456.4v-1.1m-1.5 0h3M1528.1 418.3v-2.9m-1.5 0h3M1533.2 452.1v-1.3m-1.5 0h3M1538.4 420.9v-2.8m-1.5 0h3M1543.6 454.8v-1.2m-1.5 0h3M1548.7 427.7v-2.5m-1.5 0h3M1553.9 430.7v-2.3m-1.5 0h3M1559.1 435.3v-2.1m-1.5 0h3M1564.3 420.7v-2.8m-1.5 0h3M1569.4 447v-1.6m-1.5 0h3M1574.6 414.1v-3.1m-1.5 0h3M1579.8 450.2v-1.4m-1.5 0h3M1584.9 410.5v-3.3m-1.5 0h3M1590.1 456.1v-1.1m-1.5 0h3M1595.3 409.8v-3.3m-1.5 0h3M1600.5 458.7v-1m-1.5 0h3M1605.6 415.4v-3.1m-1.5 0h3M1616 424.2v-2.6m-1.5 0h3M1626.3 431.1v-2.3m-1.5 0h3M1636.7 439.2v-1.9m-1.5 0h3M1647 447v-1.6m-1.5 0h3M1657.3 450.2v-1.4m-1.5 0h3M1667.7 453.5v-1.2m-1.5 0h3M1678 456.4v-1.1m-1.5 0h3M1688.4 457.7v-1m-1.5 0h3M1697 458.7v-1m-1.5 0h3" stroke="#aaa" stroke-width="0.8" fill="none"/><polyline points="1353.1,461.6 1453.7,461.6 1479.5,461.4 1489.6,461.1 1498.2,460.5 1505.4,459.7 1512.5,458.5 1518.3,457 1524,455.1 1529.8,452.6 1535.5,449.5 1541.3,445.7 1547,441.4 1552.8,436.6 1568.6,422.6 1572.9,419.1 1577.2,416 1581.5,413.4 1585.8,411.5 1590.1,410.3 1594.4,409.8 1598.7,410.1 1603,411.2 1607.4,413.1 1611.7,415.6 1616,418.6 1620.3,422 1637.5,437.2 1644.7,443.1 1651.9,448.1 1659.1,452.2 1663.4,454.2 1667.7,455.9 1672,457.2 1676.3,458.3 1680.6,459.2 1686.4,460 1697.8,461" fill="none" stroke="#ee1010" stroke-width="2.5" stroke-linejoin="round"/><polyline points="1353.1,461.6 1384.7,461.4 1394.8,461.1 1403.4,460.5 1410.6,459.7 1417.7,458.5 1423.5,457.1 1429.2,455.3 1435,453 1440.7,450.1 1445,447.5 1450.8,443.6 1459.4,436.7 1479.5,419 1483.8,415.6 1488.1,412.7 1492.4,410.2 1496.7,408.4 1501.1,407.3 1505.4,406.9 1509.7,407.2 1514,408.3 1518.3,410.1 1522.6,412.5 1526.9,415.4 1531.2,418.8 1552.8,437.7 1558.5,442.3 1562.8,445.4 1568.6,449.1 1574.3,452.2 1580.1,454.7 1587.2,457 1593,458.4 1600.2,459.7 1608.8,460.6 1617.4,461.1 1640.4,461.6 1697.8,461.6" fill="none" stroke="#0808ee" stroke-width="2.5" stroke-linejoin="round"/><text x="1344.3" y="469.65" text-anchor="end" font-size="22" font-family='"Liberation Sans", Arial, Helvetica, sans-serif'>0.0</text><text x="1344.3" y="375.55" text-anchor="end" font-size="22" font-family='"Liberation Sans", Arial, Helvetica, sans-serif'>0.1</text><text x="1359.5" y="348.8" font-size="22.8" font-family='"Liberation Sans", Arial, Helvetica, sans-serif'>1 μM GDP</text><text x="1359.5" y="376.8" font-size="22.8" font-family='"Liberation Sans", Arial, Helvetica, sans-serif'>n = 749</text><line x1="1387.57" y1="461.65" x2="1387.57" y2="602.8" stroke="#a0a0a0" stroke-width="1.8"/><line x1="1422.05" y1="602.8" x2="1422.05" y2="461.65" stroke="#8c8c8c" stroke-width="1.5" stroke-dasharray="6.75,5.5"/><line x1="1456.52" y1="461.65" x2="1456.52" y2="602.8" stroke="#a0a0a0" stroke-width="1.8"/><line x1="1491" y1="602.8" x2="1491" y2="461.65" stroke="#8c8c8c" stroke-width="1.5" stroke-dasharray="6.75,5.5"/><line x1="1525.47" y1="461.65" x2="1525.47" y2="602.8" stroke="#a0a0a0" stroke-width="1.8"/><line x1="1559.95" y1="602.8" x2="1559.95" y2="461.65" stroke="#8c8c8c" stroke-width="1.5" stroke-dasharray="6.75,5.5"/><line x1="1594.42" y1="461.65" x2="1594.42" y2="602.8" stroke="#a0a0a0" stroke-width="1.8"/><line x1="1628.9" y1="602.8" x2="1628.9" y2="461.65" stroke="#8c8c8c" stroke-width="1.5" stroke-dasharray="6.75,5.5"/><line x1="1663.38" y1="461.65" x2="1663.38" y2="602.8" stroke="#a0a0a0" stroke-width="1.8"/><rect x="1354.1" y="462.65" width="114.89" height="63.3" fill="#fff"/><path d="M1401.5 602.8V601.7H1406.4V602.8zM1411.8 602.8V600.6H1416.8V602.8zM1422.1 602.8V600H1427.1V602.8zM1432.5 602.8V596.1H1437.5V602.8zM1442.8 602.8V591.6H1447.8V602.8zM1453.2 602.8V586.4H1458.1V602.8zM1463.5 602.8V577.6H1468.5V602.8zM1473.9 602.8V569.5H1478.8V602.8zM1484.2 602.8V563.2H1489.2V602.8zM1494.5 602.8V558H1499.5V602.8zM1504.9 602.8V555.4H1509.9V602.8zM1515.2 602.8V558.3H1520.2V602.8zM1525.6 602.8V562.6H1530.5V602.8zM1535.9 602.8V563.5H1540.9V602.8zM1546.3 602.8V571.7H1551.2V602.8zM1556.6 602.8V578.9H1561.6V602.8zM1566.9 602.8V586.7H1571.9V602.8zM1577.3 602.8V593.2H1582.3V602.8zM1587.6 602.8V597.1H1592.6V602.8zM1598 602.8V599.5H1602.9V602.8zM1608.3 602.8V602H1613.3V602.8z" fill="#a5dca0"/><path d="M1499.7 602.8V601.8H1504.7V602.8zM1510.1 602.8V600.5H1515V602.8zM1520.4 602.8V597.9H1525.4V602.8zM1530.7 602.8V593.3H1535.7V602.8zM1541.1 602.8V596.1H1546.1V602.8zM1551.4 602.8V569.1H1556.4V602.8zM1561.8 602.8V557.4H1566.7V602.8zM1572.1 602.8V549.5H1577.1V602.8zM1582.5 602.8V545H1587.4V602.8zM1592.8 602.8V546.3H1597.8V602.8zM1603.1 602.8V552.5H1608.1V602.8zM1613.5 602.8V562.2H1618.5V602.8zM1623.8 602.8V570.4H1628.8V602.8zM1634.2 602.8V580.2H1639.1V602.8zM1644.5 602.8V585.6H1649.5V602.8zM1654.9 602.8V591.2H1659.8V602.8zM1665.2 602.8V593.5H1670.2V602.8zM1675.5 602.8V597.8H1680.5V602.8zM1685.9 602.8V598.1H1690.9V602.8zM1696.2 602.8V600H1697.8V602.8z" fill="#fdd0a0"/><path d="M1401.5 602.8V601.7H1406.4V602.8M1411.8 602.8V600.6H1416.8V602.8M1422.1 602.8V600H1427.1V602.8M1432.5 602.8V596.1H1437.5V602.8M1442.8 602.8V591.6H1447.8V602.8M1453.2 602.8V586.4H1458.1V602.8M1463.5 602.8V577.6H1468.5V602.8M1473.9 602.8V569.5H1478.8V602.8M1484.2 602.8V563.2H1489.2V602.8M1494.5 602.8V558H1499.5V602.8M1499.7 602.8V601.8H1504.7V602.8M1504.9 602.8V555.4H1509.9V602.8M1510.1 602.8V600.5H1515V602.8M1515.2 602.8V558.3H1520.2V602.8M1520.4 602.8V597.9H1525.4V602.8M1525.6 602.8V562.6H1530.5V602.8M1530.7 602.8V593.3H1535.7V602.8M1535.9 602.8V563.5H1540.9V602.8M1541.1 602.8V596.1H1546.1V602.8M1546.3 602.8V571.7H1551.2V602.8M1551.4 602.8V569.1H1556.4V602.8M1556.6 602.8V578.9H1561.6V602.8M1561.8 602.8V557.4H1566.7V602.8M1566.9 602.8V586.7H1571.9V602.8M1572.1 602.8V549.5H1577.1V602.8M1577.3 602.8V593.2H1582.3V602.8M1582.5 602.8V545H1587.4V602.8M1587.6 602.8V597.1H1592.6V602.8M1592.8 602.8V546.3H1597.8V602.8M1598 602.8V599.5H1602.9V602.8M1603.1 602.8V552.5H1608.1V602.8M1608.3 602.8V602H1613.3V602.8M1613.5 602.8V562.2H1618.5V602.8M1623.8 602.8V570.4H1628.8V602.8M1634.2 602.8V580.2H1639.1V602.8M1644.5 602.8V585.6H1649.5V602.8M1654.9 602.8V591.2H1659.8V602.8M1665.2 602.8V593.5H1670.2V602.8M1675.5 602.8V597.8H1680.5V602.8M1685.9 602.8V598.1H1690.9V602.8M1696.2 602.8V600H1697.8V602.8" fill="none" stroke="#1a1a1a" stroke-width="1.25"/><path d="M1404 601.7v-0.9m-1.5 0h3M1414.3 600.6v-1m-1.5 0h3M1424.6 600v-1m-1.5 0h3M1435 596.1v-1.2m-1.5 0h3M1445.3 591.6v-1.4m-1.5 0h3M1455.7 586.4v-1.6m-1.5 0h3M1466 577.6v-2.1m-1.5 0h3M1476.3 569.5v-2.4m-1.5 0h3M1486.7 563.2v-2.7m-1.5 0h3M1497 558v-3m-1.5 0h3M1502.2 601.8v-0.9m-1.5 0h3M1507.4 555.4v-3.1m-1.5 0h3M1512.5 600.5v-1m-1.5 0h3M1517.7 558.3v-3m-1.5 0h3M1522.9 597.9v-1.1m-1.5 0h3M1528.1 562.6v-2.8m-1.5 0h3M1533.2 593.3v-1.3m-1.5 0h3M1538.4 563.5v-2.7m-1.5 0h3M1543.6 596.1v-1.2m-1.5 0h3M1548.7 571.7v-2.3m-1.5 0h3M1553.9 569.1v-2.5m-1.5 0h3M1559.1 578.9v-2m-1.5 0h3M1564.3 557.4v-3m-1.5 0h3M1569.4 586.7v-1.6m-1.5 0h3M1574.6 549.5v-3.4m-1.5 0h3M1579.8 593.2v-1.3m-1.5 0h3M1584.9 545v-3.6m-1.5 0h3M1590.1 597.1v-1.1m-1.5 0h3M1595.3 546.3v-3.6m-1.5 0h3M1600.5 599.5v-1m-1.5 0h3M1605.6 552.5v-3.3m-1.5 0h3M1610.8 602v-0.9m-1.5 0h3M1616 562.2v-2.8m-1.5 0h3M1626.3 570.4v-2.4m-1.5 0h3M1636.7 580.2v-1.9m-1.5 0h3M1647 585.6v-1.7m-1.5 0h3M1657.3 591.2v-1.4m-1.5 0h3M1667.7 593.5v-1.3m-1.5 0h3M1678 597.8v-1.1m-1.5 0h3M1688.4 598.1v-1.1m-1.5 0h3M1697 600v-1m-1.5 0h3" stroke="#aaa" stroke-width="0.8" fill="none"/><polyline points="1353.1,602.8 1458,602.8 1482.4,602.6 1492.4,602.3 1501.1,601.7 1508.2,600.7 1514,599.6 1519.7,598 1525.5,595.9 1531.2,593 1537,589.4 1542.7,585 1548.5,579.9 1554.2,574.2 1568.6,559 1575.8,552.4 1580.1,549.2 1584.4,546.8 1588.7,545.2 1593,544.7 1597.3,545.1 1601.6,546.4 1605.9,548.7 1610.2,551.8 1613.1,554.2 1617.4,558.2 1633.2,574.8 1640.4,581.8 1644.7,585.5 1649,588.8 1651.9,590.8 1656.2,593.4 1660.5,595.5 1664.8,597.3 1669.1,598.7 1673.4,599.8 1679.2,600.8 1684.9,601.6 1697.8,602.4" fill="none" stroke="#ee1010" stroke-width="2.5" stroke-linejoin="round"/><polyline points="1353.1,602.8 1386.1,602.6 1396.2,602.3 1404.8,601.9 1412,601.2 1419.2,600.2 1426.4,598.7 1432.1,597.1 1437.9,595 1443.6,592.4 1447.9,590.1 1453.7,586.6 1462.3,580.4 1482.4,564.5 1486.7,561.4 1491,558.7 1495.3,556.5 1499.6,554.9 1503.9,553.9 1508.2,553.5 1512.5,553.8 1516.9,554.8 1521.2,556.4 1525.5,558.5 1529.8,561.1 1534.1,564.2 1555.6,581.2 1561.4,585.3 1565.7,588.1 1571.4,591.5 1577.2,594.2 1582.9,596.5 1590.1,598.6 1595.9,599.9 1603,601 1611.7,601.8 1620.3,602.3 1643.3,602.7 1697.8,602.8" fill="none" stroke="#0808ee" stroke-width="2.5" stroke-linejoin="round"/><text x="1344.3" y="610.8" text-anchor="end" font-size="22" font-family='"Liberation Sans", Arial, Helvetica, sans-serif'>0.0</text><text x="1344.3" y="516.7" text-anchor="end" font-size="22" font-family='"Liberation Sans", Arial, Helvetica, sans-serif'>0.1</text><text x="1359.5" y="489.95" font-size="22.8" font-family='"Liberation Sans", Arial, Helvetica, sans-serif'>2 μM GDP</text><text x="1359.5" y="517.95" font-size="22.8" font-family='"Liberation Sans", Arial, Helvetica, sans-serif'>n = 754</text><line x1="1387.57" y1="602.8" x2="1387.57" y2="743.95" stroke="#a0a0a0" stroke-width="1.8"/><line x1="1422.05" y1="743.95" x2="1422.05" y2="602.8" stroke="#8c8c8c" stroke-width="1.5" stroke-dasharray="6.75,5.5"/><line x1="1456.52" y1="602.8" x2="1456.52" y2="743.95" stroke="#a0a0a0" stroke-width="1.8"/><line x1="1491" y1="743.95" x2="1491" y2="602.8" stroke="#8c8c8c" stroke-width="1.5" stroke-dasharray="6.75,5.5"/><line x1="1525.47" y1="602.8" x2="1525.47" y2="743.95" stroke="#a0a0a0" stroke-width="1.8"/><line x1="1559.95" y1="743.95" x2="1559.95" y2="602.8" stroke="#8c8c8c" stroke-width="1.5" stroke-dasharray="6.75,5.5"/><line x1="1594.42" y1="602.8" x2="1594.42" y2="743.95" stroke="#a0a0a0" stroke-width="1.8"/><line x1="1628.9" y1="743.95" x2="1628.9" y2="602.8" stroke="#8c8c8c" stroke-width="1.5" stroke-dasharray="6.75,5.5"/><line x1="1663.38" y1="602.8" x2="1663.38" y2="743.95" stroke="#a0a0a0" stroke-width="1.8"/><rect x="1354.1" y="603.8" width="127.57" height="63.3" fill="#fff"/><path d="M1411.8 744V743.1H1416.8V744zM1422.1 744V741.4H1427.1V744zM1432.5 744V740.7H1437.5V744zM1442.8 744V740.1H1447.8V744zM1453.2 744V737.4H1458.1V744zM1463.5 744V736.5H1468.5V744zM1473.9 744V731.8H1478.8V744zM1484.2 744V729H1489.2V744zM1494.5 744V722.7H1499.5V744zM1504.9 744V717H1509.9V744zM1515.2 744V714.9H1520.2V744zM1525.6 744V710.5H1530.5V744zM1535.9 744V706.8H1540.9V744zM1546.3 744V706.6H1551.2V744zM1556.6 744V717.2H1561.6V744zM1566.9 744V726.4H1571.9V744zM1577.3 744V732.9H1582.3V744zM1587.6 744V736.8H1592.6V744zM1598 744V739.4H1602.9V744zM1608.3 744V739.2H1613.3V744zM1618.7 744V741.2H1623.6V744zM1629 744V742.4H1634V744zM1639.3 744V743.2H1644.3V744z" fill="#a5dca0"/><path d="M1510.1 744V742.1H1515V744zM1520.4 744V739.6H1525.4V744zM1530.7 744V736.5H1535.7V744zM1541.1 744V727H1546.1V744zM1551.4 744V705.3H1556.4V744zM1561.8 744V687.3H1566.7V744zM1572.1 744V674.9H1577.1V744zM1582.5 744V670.6H1587.4V744zM1592.8 744V668.4H1597.8V744zM1603.1 744V674.9H1608.1V744zM1613.5 744V686.2H1618.5V744zM1623.8 744V701.3H1628.8V744zM1634.2 744V713.6H1639.1V744zM1644.5 744V723.1H1649.5V744zM1654.9 744V728.3H1659.8V744zM1665.2 744V734.8H1670.2V744zM1675.5 744V737.8H1680.5V744zM1685.9 744V739.7H1690.9V744zM1696.2 744V740.7H1697.8V744z" fill="#fdd0a0"/><path d="M1411.8 744V743.1H1416.8V744M1422.1 744V741.4H1427.1V744M1432.5 744V740.7H1437.5V744M1442.8 744V740.1H1447.8V744M1453.2 744V737.4H1458.1V744M1463.5 744V736.5H1468.5V744M1473.9 744V731.8H1478.8V744M1484.2 744V729H1489.2V744M1494.5 744V722.7H1499.5V744M1504.9 744V717H1509.9V744M1510.1 744V742.1H1515V744M1515.2 744V714.9H1520.2V744M1520.4 744V739.6H1525.4V744M1525.6 744V710.5H1530.5V744M1530.7 744V736.5H1535.7V744M1535.9 744V706.8H1540.9V744M1541.1 744V727H1546.1V744M1546.3 744V706.6H1551.2V744M1551.4 744V705.3H1556.4V744M1556.6 744V717.2H1561.6V744M1561.8 744V687.3H1566.7V744M1566.9 744V726.4H1571.9V744M1572.1 744V674.9H1577.1V744M1577.3 744V732.9H1582.3V744M1582.5 744V670.6H1587.4V744M1587.6 744V736.8H1592.6V744M1592.8 744V668.4H1597.8V744M1598 744V739.4H1602.9V744M1603.1 744V674.9H1608.1V744M1608.3 744V739.2H1613.3V744M1613.5 744V686.2H1618.5V744M1618.7 744V741.2H1623.6V744M1623.8 744V701.3H1628.8V744M1629 744V742.4H1634V744M1634.2 744V713.6H1639.1V744M1639.3 744V743.2H1644.3V744M1644.5 744V723.1H1649.5V744M1654.9 744V728.3H1659.8V744M1665.2 744V734.8H1670.2V744M1675.5 744V737.8H1680.5V744M1685.9 744V739.7H1690.9V744M1696.2 744V740.7H1697.8V744" fill="none" stroke="#1a1a1a" stroke-width="1.25"/><path d="M1414.3 743.1v-0.9m-1.5 0h3M1424.6 741.4v-1m-1.5 0h3M1435 740.7v-1m-1.5 0h3M1445.3 740.1v-1m-1.5 0h3M1455.7 737.4v-1.2m-1.5 0h3M1466 736.5v-1.2m-1.5 0h3M1476.3 731.8v-1.4m-1.5 0h3M1486.7 729v-1.6m-1.5 0h3M1497 722.7v-1.9m-1.5 0h3M1507.4 717v-2.1m-1.5 0h3M1512.5 742.1v-0.9m-1.5 0h3M1517.7 714.9v-2.2m-1.5 0h3M1522.9 739.6v-1.1m-1.5 0h3M1528.1 710.5v-2.5m-1.5 0h3M1533.2 736.5v-1.2m-1.5 0h3M1538.4 706.8v-2.6m-1.5 0h3M1543.6 727v-1.7m-1.5 0h3M1548.7 706.6v-2.6m-1.5 0h3M1553.9 705.3v-2.7m-1.5 0h3M1559.1 717.2v-2.1m-1.5 0h3M1564.3 687.3v-3.6m-1.5 0h3M1569.4 726.4v-1.7m-1.5 0h3M1574.6 674.9v-4.2m-1.5 0h3M1579.8 732.9v-1.4m-1.5 0h3M1584.9 670.6v-4.4m-1.5 0h3M1590.1 736.8v-1.2m-1.5 0h3M1595.3 668.4v-4.5m-1.5 0h3M1600.5 739.4v-1.1m-1.5 0h3M1605.6 674.9v-4.2m-1.5 0h3M1610.8 739.2v-1.1m-1.5 0h3M1616 686.2v-3.6m-1.5 0h3M1621.1 741.2v-1m-1.5 0h3M1626.3 701.3v-2.9m-1.5 0h3M1631.5 742.4v-0.9m-1.5 0h3M1636.7 713.6v-2.3m-1.5 0h3M1641.8 743.2v-0.9m-1.5 0h3M1647 723.1v-1.8m-1.5 0h3M1657.3 728.3v-1.6m-1.5 0h3M1667.7 734.8v-1.3m-1.5 0h3M1678 737.8v-1.1m-1.5 0h3M1688.4 739.7v-1.1m-1.5 0h3M1697 740.7v-1m-1.5 0h3" stroke="#aaa" stroke-width="0.8" fill="none"/><polyline points="1353.1,743.9 1463.7,743.9 1488.1,743.7 1498.2,743.3 1506.8,742.6 1514,741.3 1519.7,739.8 1525.5,737.6 1531.2,734.6 1537,730.5 1541.3,726.7 1547,720.7 1552.8,713.6 1558.5,705.7 1571.4,686.9 1575.8,681.2 1578.6,677.8 1582.9,673.5 1587.2,670.3 1590.1,668.9 1591.6,668.4 1594.4,667.9 1597.3,668.1 1598.7,668.4 1601.6,669.5 1603,670.3 1605.9,672.3 1610.2,676.3 1613.1,679.5 1617.4,685 1633.2,707.8 1640.4,717.4 1644.7,722.4 1647.6,725.4 1650.4,728.1 1654.8,731.7 1659.1,734.6 1663.4,737 1667.7,738.8 1672,740.3 1677.7,741.7 1683.5,742.6 1690.7,743.2 1697.8,743.6" fill="none" stroke="#ee1010" stroke-width="2.5" stroke-linejoin="round"/><polyline points="1353.1,743.9 1391.9,743.8 1413.4,743.3 1422,742.8 1429.2,742.2 1436.4,741.2 1443.6,740 1450.8,738.3 1456.5,736.7 1462.3,734.7 1468,732.5 1478.1,727.9 1501.1,716.2 1506.8,713.7 1511.1,712 1516.9,710.2 1521.2,709.2 1525.5,708.6 1529.8,708.4 1534.1,708.5 1539.8,709.3 1544.1,710.3 1549.9,712.2 1554.2,713.8 1559.9,716.4 1581.5,727.4 1593,732.7 1598.7,734.9 1604.5,736.8 1610.2,738.4 1616,739.8 1621.7,740.9 1628.9,741.9 1636.1,742.6 1644.7,743.2 1664.8,743.8 1697.8,743.9" fill="none" stroke="#0808ee" stroke-width="2.5" stroke-linejoin="round"/><text x="1344.3" y="751.95" text-anchor="end" font-size="22" font-family='"Liberation Sans", Arial, Helvetica, sans-serif'>0.0</text><text x="1344.3" y="657.85" text-anchor="end" font-size="22" font-family='"Liberation Sans", Arial, Helvetica, sans-serif'>0.1</text><text x="1359.5" y="631.1" font-size="22.8" font-family='"Liberation Sans", Arial, Helvetica, sans-serif'>10 μM GDP</text><text x="1359.5" y="659.1" font-size="22.8" font-family='"Liberation Sans", Arial, Helvetica, sans-serif'>n = 956</text><line x1="1387.57" y1="743.95" x2="1387.57" y2="885.1" stroke="#a0a0a0" stroke-width="1.8"/><line x1="1422.05" y1="885.1" x2="1422.05" y2="743.95" stroke="#8c8c8c" stroke-width="1.5" stroke-dasharray="6.75,5.5"/><line x1="1456.52" y1="743.95" x2="1456.52" y2="885.1" stroke="#a0a0a0" stroke-width="1.8"/><line x1="1491" y1="885.1" x2="1491" y2="743.95" stroke="#8c8c8c" stroke-width="1.5" stroke-dasharray="6.75,5.5"/><line x1="1525.47" y1="743.95" x2="1525.47" y2="885.1" stroke="#a0a0a0" stroke-width="1.8"/><line x1="1559.95" y1="885.1" x2="1559.95" y2="743.95" stroke="#8c8c8c" stroke-width="1.5" stroke-dasharray="6.75,5.5"/><line x1="1594.42" y1="743.95" x2="1594.42" y2="885.1" stroke="#a0a0a0" stroke-width="1.8"/><line x1="1628.9" y1="885.1" x2="1628.9" y2="743.95" stroke="#8c8c8c" stroke-width="1.5" stroke-dasharray="6.75,5.5"/><line x1="1663.38" y1="743.95" x2="1663.38" y2="885.1" stroke="#a0a0a0" stroke-width="1.8"/><rect x="1354.1" y="744.95" width="127.57" height="63.3" fill="#fff"/><path d="M1422.1 885.1V882.4H1427.1V885.1zM1432.5 885.1V881.7H1437.5V885.1zM1442.8 885.1V880.7H1447.8V885.1zM1453.2 885.1V879.4H1458.1V885.1zM1463.5 885.1V878.8H1468.5V885.1zM1473.9 885.1V877.1H1478.8V885.1zM1484.2 885.1V870H1489.2V885.1zM1494.5 885.1V868.4H1499.5V885.1zM1504.9 885.1V863.7H1509.9V885.1zM1515.2 885.1V859.6H1520.2V885.1zM1525.6 885.1V855H1530.5V885.1zM1535.9 885.1V851.5H1540.9V885.1zM1546.3 885.1V849.8H1551.2V885.1zM1556.6 885.1V858.3H1561.6V885.1zM1566.9 885.1V867.4H1571.9V885.1zM1577.3 885.1V873.9H1582.3V885.1zM1587.6 885.1V878.8H1592.6V885.1zM1598 885.1V881.1H1602.9V885.1zM1608.3 885.1V882.8H1613.3V885.1zM1618.7 885.1V884H1623.6V885.1z" fill="#a5dca0"/><path d="M1499.7 885.1V884.2H1504.7V885.1zM1510.1 885.1V882.9H1515V885.1zM1520.4 885.1V880.1H1525.4V885.1zM1530.7 885.1V877.5H1535.7V885.1zM1541.1 885.1V866.7H1546.1V885.1zM1551.4 885.1V843.9H1556.4V885.1zM1561.8 885.1V826.7H1566.7V885.1zM1572.1 885.1V813.3H1577.1V885.1zM1582.5 885.1V806.4H1587.4V885.1zM1592.8 885.1V806.1H1597.8V885.1zM1603.1 885.1V816.3H1608.1V885.1zM1613.5 885.1V827.2H1618.5V885.1zM1623.8 885.1V841.3H1628.8V885.1zM1634.2 885.1V852.4H1639.1V885.1zM1644.5 885.1V861.9H1649.5V885.1zM1654.9 885.1V870H1659.8V885.1zM1665.2 885.1V875.5H1670.2V885.1zM1675.5 885.1V878.8H1680.5V885.1zM1685.9 885.1V879.4H1690.9V885.1zM1696.2 885.1V880.4H1697.8V885.1z" fill="#fdd0a0"/><path d="M1422.1 885.1V882.4H1427.1V885.1M1432.5 885.1V881.7H1437.5V885.1M1442.8 885.1V880.7H1447.8V885.1M1453.2 885.1V879.4H1458.1V885.1M1463.5 885.1V878.8H1468.5V885.1M1473.9 885.1V877.1H1478.8V885.1M1484.2 885.1V870H1489.2V885.1M1494.5 885.1V868.4H1499.5V885.1M1499.7 885.1V884.2H1504.7V885.1M1504.9 885.1V863.7H1509.9V885.1M1510.1 885.1V882.9H1515V885.1M1515.2 885.1V859.6H1520.2V885.1M1520.4 885.1V880.1H1525.4V885.1M1525.6 885.1V855H1530.5V885.1M1530.7 885.1V877.5H1535.7V885.1M1535.9 885.1V851.5H1540.9V885.1M1541.1 885.1V866.7H1546.1V885.1M1546.3 885.1V849.8H1551.2V885.1M1551.4 885.1V843.9H1556.4V885.1M1556.6 885.1V858.3H1561.6V885.1M1561.8 885.1V826.7H1566.7V885.1M1566.9 885.1V867.4H1571.9V885.1M1572.1 885.1V813.3H1577.1V885.1M1577.3 885.1V873.9H1582.3V885.1M1582.5 885.1V806.4H1587.4V885.1M1587.6 885.1V878.8H1592.6V885.1M1592.8 885.1V806.1H1597.8V885.1M1598 885.1V881.1H1602.9V885.1M1603.1 885.1V816.3H1608.1V885.1M1608.3 885.1V882.8H1613.3V885.1M1613.5 885.1V827.2H1618.5V885.1M1618.7 885.1V884H1623.6V885.1M1623.8 885.1V841.3H1628.8V885.1M1634.2 885.1V852.4H1639.1V885.1M1644.5 885.1V861.9H1649.5V885.1M1654.9 885.1V870H1659.8V885.1M1665.2 885.1V875.5H1670.2V885.1M1675.5 885.1V878.8H1680.5V885.1M1685.9 885.1V879.4H1690.9V885.1M1696.2 885.1V880.4H1697.8V885.1" fill="none" stroke="#1a1a1a" stroke-width="1.25"/><path d="M1424.6 882.4v-1m-1.5 0h3M1435 881.7v-1m-1.5 0h3M1445.3 880.7v-1.1m-1.5 0h3M1455.7 879.4v-1.1m-1.5 0h3M1466 878.8v-1.1m-1.5 0h3M1476.3 877.1v-1.2m-1.5 0h3M1486.7 870v-1.6m-1.5 0h3M1497 868.4v-1.6m-1.5 0h3M1502.2 884.2v-0.9m-1.5 0h3M1507.4 863.7v-1.9m-1.5 0h3M1512.5 882.9v-1m-1.5 0h3M1517.7 859.6v-2.1m-1.5 0h3M1522.9 880.1v-1.1m-1.5 0h3M1528.1 855v-2.3m-1.5 0h3M1533.2 877.5v-1.2m-1.5 0h3M1538.4 851.5v-2.5m-1.5 0h3M1543.6 866.7v-1.7m-1.5 0h3M1548.7 849.8v-2.5m-1.5 0h3M1553.9 843.9v-2.8m-1.5 0h3M1559.1 858.3v-2.1m-1.5 0h3M1564.3 826.7v-3.6m-1.5 0h3M1569.4 867.4v-1.7m-1.5 0h3M1574.6 813.3v-4.3m-1.5 0h3M1579.8 873.9v-1.4m-1.5 0h3M1584.9 806.4v-4.6m-1.5 0h3M1590.1 878.8v-1.1m-1.5 0h3M1595.3 806.1v-4.6m-1.5 0h3M1600.5 881.1v-1m-1.5 0h3M1605.6 816.3v-4.2m-1.5 0h3M1610.8 882.8v-1m-1.5 0h3M1616 827.2v-3.6m-1.5 0h3M1621.1 884v-0.9m-1.5 0h3M1626.3 841.3v-2.9m-1.5 0h3M1636.7 852.4v-2.4m-1.5 0h3M1647 861.9v-2m-1.5 0h3M1657.3 870v-1.6m-1.5 0h3M1667.7 875.5v-1.3m-1.5 0h3M1678 878.8v-1.1m-1.5 0h3M1688.4 879.4v-1.1m-1.5 0h3M1697 880.4v-1.1m-1.5 0h3" stroke="#aaa" stroke-width="0.8" fill="none"/><polyline points="1353.1,885.1 1462.3,885.1 1486.7,884.8 1496.7,884.4 1505.4,883.6 1512.5,882.3 1518.3,880.8 1524,878.6 1529.8,875.6 1535.5,871.6 1541.3,866.5 1547,860.3 1552.8,853.1 1558.5,845.1 1572.9,824.2 1577.2,818.6 1580.1,815.3 1584.4,811 1588.7,808 1591.6,806.6 1593,806.1 1595.9,805.7 1597.3,805.7 1600.2,806.2 1601.6,806.7 1604.5,808.1 1608.8,811.2 1613.1,815.5 1616,818.8 1620.3,824.4 1636.1,847.4 1643.3,857.1 1647.6,862.2 1650.4,865.2 1653.3,868 1657.6,871.7 1661.9,874.8 1666.2,877.3 1670.6,879.3 1674.9,880.8 1679.2,882 1684.9,883.2 1690.7,883.9 1697.8,884.5" fill="none" stroke="#ee1010" stroke-width="2.5" stroke-linejoin="round"/><polyline points="1353.1,885.1 1404.8,885.1 1426.4,884.7 1442.2,883.8 1449.3,883 1455.1,882.1 1460.8,880.8 1466.6,879.2 1472.3,877.2 1478.1,874.8 1488.1,869.8 1506.8,859.2 1511.1,857.1 1515.4,855.2 1519.7,853.6 1524,852.5 1528.3,851.8 1532.7,851.6 1535.5,851.8 1539.8,852.4 1544.1,853.5 1548.5,855.1 1552.8,857 1557.1,859.1 1575.8,869.7 1585.8,874.8 1591.6,877.2 1595.9,878.7 1601.6,880.4 1607.4,881.8 1613.1,882.8 1620.3,883.7 1634.6,884.6 1654.8,885 1697.8,885.1" fill="none" stroke="#0808ee" stroke-width="2.5" stroke-linejoin="round"/><text x="1344.3" y="893.1" text-anchor="end" font-size="22" font-family='"Liberation Sans", Arial, Helvetica, sans-serif'>0.0</text><text x="1344.3" y="799" text-anchor="end" font-size="22" font-family='"Liberation Sans", Arial, Helvetica, sans-serif'>0.1</text><text x="1359.5" y="772.25" font-size="22.8" font-family='"Liberation Sans", Arial, Helvetica, sans-serif'>30 μM GDP</text><text x="1359.5" y="800.25" font-size="22.8" font-family='"Liberation Sans", Arial, Helvetica, sans-serif'>n = 847</text><line x1="1352.8" y1="179.35" x2="1697.85" y2="179.35" stroke="#000018" stroke-width="2.4" stroke-opacity="0.72"/><path d="M1387.57 179.35v4M1422.05 179.35v4M1456.52 179.35v4M1491 179.35v4M1525.47 179.35v4M1559.95 179.35v4M1594.42 179.35v4M1628.9 179.35v4M1663.38 179.35v4M1352.8 132.3h-4.5M1697.85 132.3h-4.5M1352.8 85.25h-4.5M1697.85 85.25h-4.5M1352.8 179.35h-4.5" stroke="#111" stroke-width="1.5" fill="none"/><line x1="1352.8" y1="320.5" x2="1697.85" y2="320.5" stroke="#000018" stroke-width="2.4" stroke-opacity="0.72"/><path d="M1387.57 320.5v4M1422.05 320.5v4M1456.52 320.5v4M1491 320.5v4M1525.47 320.5v4M1559.95 320.5v4M1594.42 320.5v4M1628.9 320.5v4M1663.38 320.5v4M1352.8 273.45h-4.5M1697.85 273.45h-4.5M1352.8 226.4h-4.5M1697.85 226.4h-4.5M1352.8 320.5h-4.5" stroke="#111" stroke-width="1.5" fill="none"/><line x1="1352.8" y1="461.65" x2="1697.85" y2="461.65" stroke="#000018" stroke-width="2.4" stroke-opacity="0.72"/><path d="M1387.57 461.65v4M1422.05 461.65v4M1456.52 461.65v4M1491 461.65v4M1525.47 461.65v4M1559.95 461.65v4M1594.42 461.65v4M1628.9 461.65v4M1663.38 461.65v4M1352.8 414.6h-4.5M1697.85 414.6h-4.5M1352.8 367.55h-4.5M1697.85 367.55h-4.5M1352.8 461.65h-4.5" stroke="#111" stroke-width="1.5" fill="none"/><line x1="1352.8" y1="602.8" x2="1697.85" y2="602.8" stroke="#000018" stroke-width="2.4" stroke-opacity="0.72"/><path d="M1387.57 602.8v4M1422.05 602.8v4M1456.52 602.8v4M1491 602.8v4M1525.47 602.8v4M1559.95 602.8v4M1594.42 602.8v4M1628.9 602.8v4M1663.38 602.8v4M1352.8 555.75h-4.5M1697.85 555.75h-4.5M1352.8 508.7h-4.5M1697.85 508.7h-4.5M1352.8 602.8h-4.5" stroke="#111" stroke-width="1.5" fill="none"/><line x1="1352.8" y1="743.95" x2="1697.85" y2="743.95" stroke="#000018" stroke-width="2.4" stroke-opacity="0.72"/><path d="M1387.57 743.95v4M1422.05 743.95v4M1456.52 743.95v4M1491 743.95v4M1525.47 743.95v4M1559.95 743.95v4M1594.42 743.95v4M1628.9 743.95v4M1663.38 743.95v4M1352.8 696.9h-4.5M1697.85 696.9h-4.5M1352.8 649.85h-4.5M1697.85 649.85h-4.5M1352.8 743.95h-4.5" stroke="#111" stroke-width="1.5" fill="none"/><line x1="1352.8" y1="885.1" x2="1697.85" y2="885.1" stroke="#000018" stroke-width="2.4" stroke-opacity="0.72"/><path d="M1387.57 885.1v4M1422.05 885.1v4M1456.52 885.1v4M1491 885.1v4M1525.47 885.1v4M1559.95 885.1v4M1594.42 885.1v4M1628.9 885.1v4M1663.38 885.1v4M1352.8 838.05h-4.5M1697.85 838.05h-4.5M1352.8 791h-4.5M1697.85 791h-4.5M1352.8 885.1h-4.5" stroke="#111" stroke-width="1.5" fill="none"/><path d="M1387.57 38.2v4M1422.05 38.2v4M1456.52 38.2v4M1491 38.2v4M1525.47 38.2v4M1559.95 38.2v4M1594.42 38.2v4M1628.9 38.2v4M1663.38 38.2v4M1352.8 38.2h-4.5" stroke="#111" stroke-width="1.5" fill="none"/><path d="M1352.8 889.1V38.2H1697.85V885.1" stroke="#111" stroke-width="1.8" fill="none"/><line x1="1491" y1="70.6" x2="1491" y2="885.1" stroke="#fff" stroke-width="4"/><line x1="1525.47" y1="39.2" x2="1525.47" y2="885.1" stroke="#fff" stroke-width="4"/><line x1="1491" y1="70.6" x2="1491" y2="885.1" stroke="#00893f" stroke-width="3.2" stroke-dasharray="13.7,9.9" stroke-dashoffset="0"/><line x1="1525.47" y1="38.2" x2="1525.47" y2="885.1" stroke="#0a14e6" stroke-width="3.2" stroke-dasharray="13.7,9.9" stroke-dashoffset="14.5"/><text x="1387.57" y="911.6" text-anchor="middle" font-size="22.5" font-family='"Liberation Sans", Arial, Helvetica, sans-serif'>0.2</text><text x="1456.52" y="911.6" text-anchor="middle" font-size="22.5" font-family='"Liberation Sans", Arial, Helvetica, sans-serif'>0.4</text><text x="1525.47" y="911.6" text-anchor="middle" font-size="22.5" font-family='"Liberation Sans", Arial, Helvetica, sans-serif'>0.6</text><text x="1594.42" y="911.6" text-anchor="middle" font-size="22.5" font-family='"Liberation Sans", Arial, Helvetica, sans-serif'>0.8</text><text x="1663.38" y="911.6" text-anchor="middle" font-size="22.5" font-family='"Liberation Sans", Arial, Helvetica, sans-serif'>1.0</text><text x="1527.3" y="941.5" text-anchor="middle" font-size="28.4" font-family='"Liberation Sans", Arial, Helvetica, sans-serif'>FRET</text><text x="1523.9" y="25" text-anchor="middle" font-size="33.3" font-family='"Liberation Sans", Arial, Helvetica, sans-serif'>DAMGO</text></g>
<g><line x1="1806.79" y1="38.2" x2="1806.79" y2="178.27" stroke="#a0a0a0" stroke-width="1.8"/><line x1="1841.28" y1="178.27" x2="1841.28" y2="38.2" stroke="#8c8c8c" stroke-width="1.5" stroke-dasharray="6.75,5.5"/><line x1="1875.77" y1="38.2" x2="1875.77" y2="178.27" stroke="#a0a0a0" stroke-width="1.8"/><line x1="1910.26" y1="178.27" x2="1910.26" y2="38.2" stroke="#8c8c8c" stroke-width="1.5" stroke-dasharray="6.75,5.5"/><line x1="1944.75" y1="38.2" x2="1944.75" y2="178.27" stroke="#a0a0a0" stroke-width="1.8"/><line x1="1979.24" y1="178.27" x2="1979.24" y2="38.2" stroke="#8c8c8c" stroke-width="1.5" stroke-dasharray="6.75,5.5"/><line x1="2013.73" y1="38.2" x2="2013.73" y2="178.27" stroke="#a0a0a0" stroke-width="1.8"/><line x1="2048.22" y1="178.27" x2="2048.22" y2="38.2" stroke="#8c8c8c" stroke-width="1.5" stroke-dasharray="6.75,5.5"/><line x1="2082.71" y1="38.2" x2="2082.71" y2="178.27" stroke="#a0a0a0" stroke-width="1.8"/><rect x="1773.3" y="39.2" width="146.58" height="63.3" fill="#fff"/><path d="M1810.3 178.3V177H1815.3V178.3zM1820.7 178.3V175.6H1825.7V178.3zM1831 178.3V172.8H1836V178.3zM1841.4 178.3V173.4H1846.4V178.3zM1851.7 178.3V169.1H1856.7V178.3zM1862.1 178.3V162.4H1867V178.3zM1872.4 178.3V148.7H1877.4V178.3zM1882.8 178.3V134.7H1887.7V178.3zM1893.1 178.3V121.3H1898.1V178.3zM1903.5 178.3V110.5H1908.4V178.3zM1913.8 178.3V107.8H1918.8V178.3zM1924.2 178.3V109.1H1929.1V178.3zM1934.5 178.3V120.6H1939.5V178.3zM1944.8 178.3V129.8H1949.8V178.3zM1955.2 178.3V137.6H1960.2V178.3zM1965.5 178.3V146.7H1970.5V178.3zM1975.9 178.3V155.8H1980.9V178.3zM1986.2 178.3V171.5H1991.2V178.3zM1996.6 178.3V174.1H2001.6V178.3zM2006.9 178.3V176.1H2011.9V178.3zM2017.3 178.3V177.4H2022.3V178.3z" fill="#a5dca0"/><path d="M1919 178.3V177.4H1924V178.3zM1929.3 178.3V176.3H1934.3V178.3zM1939.7 178.3V174.6H1944.7V178.3zM1950 178.3V176.7H1955V178.3zM1960.4 178.3V172.8H1965.3V178.3zM1970.7 178.3V165H1975.7V178.3zM1981.1 178.3V151.9H1986V178.3zM1991.4 178.3V144.4H1996.4V178.3zM2001.8 178.3V141.8H2006.7V178.3zM2012.1 178.3V139.9H2017.1V178.3zM2022.5 178.3V140.2H2027.4V178.3zM2032.8 178.3V146.7H2037.8V178.3zM2043.1 178.3V155.6H2048.1V178.3zM2053.5 178.3V159.1H2058.5V178.3zM2063.8 178.3V166H2068.8V178.3zM2074.2 178.3V168.2H2079.2V178.3zM2084.5 178.3V170.4H2089.5V178.3zM2094.9 178.3V172.5H2099.9V178.3zM2105.2 178.3V173.4H2110.2V178.3zM2115.6 178.3V174.4H2117.1V178.3z" fill="#fdd0a0"/><path d="M1810.3 178.3V177H1815.3V178.3M1820.7 178.3V175.6H1825.7V178.3M1831 178.3V172.8H1836V178.3M1841.4 178.3V173.4H1846.4V178.3M1851.7 178.3V169.1H1856.7V178.3M1862.1 178.3V162.4H1867V178.3M1872.4 178.3V148.7H1877.4V178.3M1882.8 178.3V134.7H1887.7V178.3M1893.1 178.3V121.3H1898.1V178.3M1903.5 178.3V110.5H1908.4V178.3M1913.8 178.3V107.8H1918.8V178.3M1919 178.3V177.4H1924V178.3M1924.2 178.3V109.1H1929.1V178.3M1929.3 178.3V176.3H1934.3V178.3M1934.5 178.3V120.6H1939.5V178.3M1939.7 178.3V174.6H1944.7V178.3M1944.8 178.3V129.8H1949.8V178.3M1950 178.3V176.7H1955V178.3M1955.2 178.3V137.6H1960.2V178.3M1960.4 178.3V172.8H1965.3V178.3M1965.5 178.3V146.7H1970.5V178.3M1970.7 178.3V165H1975.7V178.3M1975.9 178.3V155.8H1980.9V178.3M1981.1 178.3V151.9H1986V178.3M1986.2 178.3V171.5H1991.2V178.3M1991.4 178.3V144.4H1996.4V178.3M1996.6 178.3V174.1H2001.6V178.3M2001.8 178.3V141.8H2006.7V178.3M2006.9 178.3V176.1H2011.9V178.3M2012.1 178.3V139.9H2017.1V178.3M2017.3 178.3V177.4H2022.3V178.3M2022.5 178.3V140.2H2027.4V178.3M2032.8 178.3V146.7H2037.8V178.3M2043.1 178.3V155.6H2048.1V178.3M2053.5 178.3V159.1H2058.5V178.3M2063.8 178.3V166H2068.8V178.3M2074.2 178.3V168.2H2079.2V178.3M2084.5 178.3V170.4H2089.5V178.3M2094.9 178.3V172.5H2099.9V178.3M2105.2 178.3V173.4H2110.2V178.3M2115.6 178.3V174.4H2117.1V178.3" fill="none" stroke="#1a1a1a" stroke-width="1.25"/><path d="M1812.8 177v-0.9m-1.5 0h3M1823.2 175.6v-1m-1.5 0h3M1833.5 172.8v-1.1m-1.5 0h3M1843.9 173.4v-1.1m-1.5 0h3M1854.2 169.1v-1.3m-1.5 0h3M1864.6 162.4v-1.6m-1.5 0h3M1874.9 148.7v-2.3m-1.5 0h3M1885.3 134.7v-2.9m-1.5 0h3M1895.6 121.3v-3.6m-1.5 0h3M1905.9 110.5v-4.1m-1.5 0h3M1916.3 107.8v-4.2m-1.5 0h3M1921.5 177.4v-0.9m-1.5 0h3M1926.6 109.1v-4.2m-1.5 0h3M1931.8 176.3v-0.9m-1.5 0h3M1937 120.6v-3.6m-1.5 0h3M1942.2 174.6v-1m-1.5 0h3M1947.3 129.8v-3.2m-1.5 0h3M1952.5 176.7v-0.9m-1.5 0h3M1957.7 137.6v-2.8m-1.5 0h3M1962.9 172.8v-1.1m-1.5 0h3M1968 146.7v-2.4m-1.5 0h3M1973.2 165v-1.5m-1.5 0h3M1978.4 155.8v-1.9m-1.5 0h3M1983.6 151.9v-2.1m-1.5 0h3M1988.7 171.5v-1.2m-1.5 0h3M1993.9 144.4v-2.5m-1.5 0h3M1999.1 174.1v-1m-1.5 0h3M2004.2 141.8v-2.6m-1.5 0h3M2009.4 176.1v-0.9m-1.5 0h3M2014.6 139.9v-2.7m-1.5 0h3M2019.8 177.4v-0.9m-1.5 0h3M2024.9 140.2v-2.7m-1.5 0h3M2035.3 146.7v-2.4m-1.5 0h3M2045.6 155.6v-1.9m-1.5 0h3M2056 159.1v-1.8m-1.5 0h3M2066.3 166v-1.4m-1.5 0h3M2076.7 168.2v-1.3m-1.5 0h3M2087 170.4v-1.2m-1.5 0h3M2097.4 172.5v-1.1m-1.5 0h3M2107.7 173.4v-1.1m-1.5 0h3M2116.3 174.4v-1m-1.5 0h3" stroke="#aaa" stroke-width="0.8" fill="none"/><polyline points="1772.3,178.3 1872.9,178.3 1898.8,178.1 1910.3,177.8 1918.9,177.4 1926.1,176.7 1933.3,175.8 1940.4,174.4 1947.6,172.4 1954.8,169.8 1960.6,167.3 1964.9,165.1 1970.6,161.8 1993.6,147.5 1997.9,145.2 2002.2,143.2 2006.5,141.6 2010.9,140.5 2015.2,139.9 2018,139.8 2022.4,140.1 2026.7,140.9 2031,142.2 2036.7,144.7 2045.3,149.4 2061.2,159.4 2068.3,163.7 2075.5,167.4 2082.7,170.5 2089.9,172.9 2098.5,175 2107.1,176.4 2117.2,177.4" fill="none" stroke="#ee1010" stroke-width="2.5" stroke-linejoin="round"/><polyline points="1772.3,178.3 1801,177.9 1811.1,177.4 1818.3,176.7 1825.5,175.6 1831.2,174.3 1837,172.5 1842.7,170.1 1848.5,167 1852.8,164.2 1857.1,160.9 1862.8,155.8 1867.1,151.4 1871.5,146.8 1890.1,124.8 1894.5,120.2 1898.8,116.2 1903.1,112.8 1907.4,110.2 1911.7,108.6 1916,108 1918.9,108.1 1923.2,109.2 1927.5,111.3 1931.8,114.2 1936.1,117.9 1940.4,122.3 1946.2,128.7 1962,147.3 1967.7,153.5 1972.1,157.6 1977.8,162.4 1983.6,166.4 1989.3,169.7 1996.5,172.7 2003.7,174.8 2010.9,176.2 2019.5,177.2 2028.1,177.8 2051.1,178.2 2117.2,178.3" fill="none" stroke="#0808ee" stroke-width="2.5" stroke-linejoin="round"/><text x="1763.5" y="186.27" text-anchor="end" font-size="22" font-family='"Liberation Sans", Arial, Helvetica, sans-serif'>0.0</text><text x="1763.5" y="92.89" text-anchor="end" font-size="22" font-family='"Liberation Sans", Arial, Helvetica, sans-serif'>0.1</text><text x="1778.7" y="66.5" font-size="22.8" font-family='"Liberation Sans", Arial, Helvetica, sans-serif'>0.15 μM GDP</text><text x="1778.7" y="94.5" font-size="22.8" font-family='"Liberation Sans", Arial, Helvetica, sans-serif'>n = 675</text><line x1="1806.79" y1="178.27" x2="1806.79" y2="318.34" stroke="#a0a0a0" stroke-width="1.8"/><line x1="1841.28" y1="318.34" x2="1841.28" y2="178.27" stroke="#8c8c8c" stroke-width="1.5" stroke-dasharray="6.75,5.5"/><line x1="1875.77" y1="178.27" x2="1875.77" y2="318.34" stroke="#a0a0a0" stroke-width="1.8"/><line x1="1910.26" y1="318.34" x2="1910.26" y2="178.27" stroke="#8c8c8c" stroke-width="1.5" stroke-dasharray="6.75,5.5"/><line x1="1944.75" y1="178.27" x2="1944.75" y2="318.34" stroke="#a0a0a0" stroke-width="1.8"/><line x1="1979.24" y1="318.34" x2="1979.24" y2="178.27" stroke="#8c8c8c" stroke-width="1.5" stroke-dasharray="6.75,5.5"/><line x1="2013.73" y1="178.27" x2="2013.73" y2="318.34" stroke="#a0a0a0" stroke-width="1.8"/><line x1="2048.22" y1="318.34" x2="2048.22" y2="178.27" stroke="#8c8c8c" stroke-width="1.5" stroke-dasharray="6.75,5.5"/><line x1="2082.71" y1="178.27" x2="2082.71" y2="318.34" stroke="#a0a0a0" stroke-width="1.8"/><rect x="1773.3" y="179.27" width="133.9" height="63.3" fill="#fff"/><path d="M1810.3 318.3V317.2H1815.3V318.3zM1820.7 318.3V315.9H1825.7V318.3zM1831 318.3V313.5H1836V318.3zM1841.4 318.3V311.8H1846.4V318.3zM1851.7 318.3V306.9H1856.7V318.3zM1862.1 318.3V297.8H1867V318.3zM1872.4 318.3V287.8H1877.4V318.3zM1882.8 318.3V276.5H1887.7V318.3zM1893.1 318.3V263H1898.1V318.3zM1903.5 318.3V256.5H1908.4V318.3zM1913.8 318.3V255.4H1918.8V318.3zM1924.2 318.3V260H1929.1V318.3zM1934.5 318.3V266.5H1939.5V318.3zM1944.8 318.3V275H1949.8V318.3zM1955.2 318.3V278.6H1960.2V318.3zM1965.5 318.3V288.7H1970.5V318.3zM1975.9 318.3V297.1H1980.9V318.3zM1986.2 318.3V305H1991.2V318.3zM1996.6 318.3V309.9H2001.6V318.3zM2006.9 318.3V314.4H2011.9V318.3zM2017.3 318.3V316.7H2022.3V318.3z" fill="#a5dca0"/><path d="M1929.3 318.3V316.8H1934.3V318.3zM1939.7 318.3V315.2H1944.7V318.3zM1950 318.3V312.5H1955V318.3zM1960.4 318.3V312.8H1965.3V318.3zM1970.7 318.3V302.4H1975.7V318.3zM1981.1 318.3V290.4H1986V318.3zM1991.4 318.3V283.5H1996.4V318.3zM2001.8 318.3V278.9H2006.7V318.3zM2012.1 318.3V276.5H2017.1V318.3zM2022.5 318.3V277.6H2027.4V318.3zM2032.8 318.3V284.8H2037.8V318.3zM2043.1 318.3V291.3H2048.1V318.3zM2053.5 318.3V297.8H2058.5V318.3zM2063.8 318.3V302.6H2068.8V318.3zM2074.2 318.3V305H2079.2V318.3zM2084.5 318.3V309.1H2089.5V318.3zM2094.9 318.3V312.8H2099.9V318.3zM2105.2 318.3V313.8H2110.2V318.3zM2115.6 318.3V314.4H2117.1V318.3z" fill="#fdd0a0"/><path d="M1810.3 318.3V317.2H1815.3V318.3M1820.7 318.3V315.9H1825.7V318.3M1831 318.3V313.5H1836V318.3M1841.4 318.3V311.8H1846.4V318.3M1851.7 318.3V306.9H1856.7V318.3M1862.1 318.3V297.8H1867V318.3M1872.4 318.3V287.8H1877.4V318.3M1882.8 318.3V276.5H1887.7V318.3M1893.1 318.3V263H1898.1V318.3M1903.5 318.3V256.5H1908.4V318.3M1913.8 318.3V255.4H1918.8V318.3M1924.2 318.3V260H1929.1V318.3M1929.3 318.3V316.8H1934.3V318.3M1934.5 318.3V266.5H1939.5V318.3M1939.7 318.3V315.2H1944.7V318.3M1944.8 318.3V275H1949.8V318.3M1950 318.3V312.5H1955V318.3M1955.2 318.3V278.6H1960.2V318.3M1960.4 318.3V312.8H1965.3V318.3M1965.5 318.3V288.7H1970.5V318.3M1970.7 318.3V302.4H1975.7V318.3M1975.9 318.3V297.1H1980.9V318.3M1981.1 318.3V290.4H1986V318.3M1986.2 318.3V305H1991.2V318.3M1991.4 318.3V283.5H1996.4V318.3M1996.6 318.3V309.9H2001.6V318.3M2001.8 318.3V278.9H2006.7V318.3M2006.9 318.3V314.4H2011.9V318.3M2012.1 318.3V276.5H2017.1V318.3M2017.3 318.3V316.7H2022.3V318.3M2022.5 318.3V277.6H2027.4V318.3M2032.8 318.3V284.8H2037.8V318.3M2043.1 318.3V291.3H2048.1V318.3M2053.5 318.3V297.8H2058.5V318.3M2063.8 318.3V302.6H2068.8V318.3M2074.2 318.3V305H2079.2V318.3M2084.5 318.3V309.1H2089.5V318.3M2094.9 318.3V312.8H2099.9V318.3M2105.2 318.3V313.8H2110.2V318.3M2115.6 318.3V314.4H2117.1V318.3" fill="none" stroke="#1a1a1a" stroke-width="1.25"/><path d="M1812.8 317.2v-0.9m-1.5 0h3M1823.2 315.9v-1m-1.5 0h3M1833.5 313.5v-1.1m-1.5 0h3M1843.9 311.8v-1.2m-1.5 0h3M1854.2 306.9v-1.4m-1.5 0h3M1864.6 297.8v-1.8m-1.5 0h3M1874.9 287.8v-2.3m-1.5 0h3M1885.3 276.5v-2.8m-1.5 0h3M1895.6 263v-3.5m-1.5 0h3M1905.9 256.5v-3.8m-1.5 0h3M1916.3 255.4v-3.9m-1.5 0h3M1926.6 260v-3.6m-1.5 0h3M1931.8 316.8v-0.9m-1.5 0h3M1937 266.5v-3.3m-1.5 0h3M1942.2 315.2v-1m-1.5 0h3M1947.3 275v-2.9m-1.5 0h3M1952.5 312.5v-1.1m-1.5 0h3M1957.7 278.6v-2.7m-1.5 0h3M1962.9 312.8v-1.1m-1.5 0h3M1968 288.7v-2.3m-1.5 0h3M1973.2 302.4v-1.6m-1.5 0h3M1978.4 297.1v-1.9m-1.5 0h3M1983.6 290.4v-2.2m-1.5 0h3M1988.7 305v-1.5m-1.5 0h3M1993.9 283.5v-2.5m-1.5 0h3M1999.1 309.9v-1.2m-1.5 0h3M2004.2 278.9v-2.7m-1.5 0h3M2009.4 314.4v-1m-1.5 0h3M2014.6 276.5v-2.8m-1.5 0h3M2019.8 316.7v-0.9m-1.5 0h3M2024.9 277.6v-2.8m-1.5 0h3M2035.3 284.8v-2.5m-1.5 0h3M2045.6 291.3v-2.1m-1.5 0h3M2056 297.8v-1.8m-1.5 0h3M2066.3 302.6v-1.6m-1.5 0h3M2076.7 305v-1.5m-1.5 0h3M2087 309.1v-1.3m-1.5 0h3M2097.4 312.8v-1.1m-1.5 0h3M2107.7 313.8v-1.1m-1.5 0h3M2116.3 314.4v-1m-1.5 0h3" stroke="#aaa" stroke-width="0.8" fill="none"/><polyline points="1772.3,318.3 1901.6,318.2 1913.1,317.9 1921.8,317.5 1928.9,316.8 1936.1,315.8 1941.9,314.7 1947.6,313.2 1953.4,311.2 1959.1,308.8 1964.9,305.9 1972.1,301.6 1977.8,297.8 1992.2,287.6 1996.5,284.8 2000.8,282.3 2006.5,279.6 2010.9,278.1 2015.2,277.2 2019.5,276.9 2023.8,277.2 2028.1,278.1 2032.4,279.6 2036.7,281.6 2041,284 2045.3,286.7 2061.2,297.8 2068.3,302.6 2075.5,306.7 2082.7,310.1 2089.9,312.8 2098.5,315 2107.1,316.5 2117.2,317.5" fill="none" stroke="#ee1010" stroke-width="2.5" stroke-linejoin="round"/><polyline points="1772.3,318.3 1801,318 1811.1,317.5 1818.3,316.9 1825.5,315.9 1832.7,314.4 1838.4,312.7 1844.2,310.5 1849.9,307.6 1854.2,305 1858.5,302 1864.3,297.3 1872.9,289.3 1891.6,269.9 1895.9,265.9 1900.2,262.3 1904.5,259.4 1908.8,257.2 1913.1,255.8 1917.4,255.2 1921.8,255.6 1926.1,256.8 1930.4,258.9 1934.7,261.7 1939,265.2 1943.3,269.1 1964.9,291.3 1970.6,296.6 1974.9,300.2 1980.7,304.4 1986.4,307.9 1992.2,310.7 1999.4,313.4 2006.5,315.2 2013.7,316.5 2022.4,317.4 2031,317.9 2054,318.3 2117.2,318.3" fill="none" stroke="#0808ee" stroke-width="2.5" stroke-linejoin="round"/><text x="1763.5" y="326.34" text-anchor="end" font-size="22" font-family='"Liberation Sans", Arial, Helvetica, sans-serif'>0.0</text><text x="1763.5" y="232.96" text-anchor="end" font-size="22" font-family='"Liberation Sans", Arial, Helvetica, sans-serif'>0.1</text><text x="1778.7" y="206.57" font-size="22.8" font-family='"Liberation Sans", Arial, Helvetica, sans-serif'>0.5 μM GDP</text><text x="1778.7" y="234.57" font-size="22.8" font-family='"Liberation Sans", Arial, Helvetica, sans-serif'>n = 551</text><line x1="1806.79" y1="318.34" x2="1806.79" y2="458.41" stroke="#a0a0a0" stroke-width="1.8"/><line x1="1841.28" y1="458.41" x2="1841.28" y2="318.34" stroke="#8c8c8c" stroke-width="1.5" stroke-dasharray="6.75,5.5"/><line x1="1875.77" y1="318.34" x2="1875.77" y2="458.41" stroke="#a0a0a0" stroke-width="1.8"/><line x1="1910.26" y1="458.41" x2="1910.26" y2="318.34" stroke="#8c8c8c" stroke-width="1.5" stroke-dasharray="6.75,5.5"/><line x1="1944.75" y1="318.34" x2="1944.75" y2="458.41" stroke="#a0a0a0" stroke-width="1.8"/><line x1="1979.24" y1="458.41" x2="1979.24" y2="318.34" stroke="#8c8c8c" stroke-width="1.5" stroke-dasharray="6.75,5.5"/><line x1="2013.73" y1="318.34" x2="2013.73" y2="458.41" stroke="#a0a0a0" stroke-width="1.8"/><line x1="2048.22" y1="458.41" x2="2048.22" y2="318.34" stroke="#8c8c8c" stroke-width="1.5" stroke-dasharray="6.75,5.5"/><line x1="2082.71" y1="318.34" x2="2082.71" y2="458.41" stroke="#a0a0a0" stroke-width="1.8"/><rect x="1773.3" y="319.34" width="114.89" height="63.3" fill="#fff"/><path d="M1810.3 458.4V457.1H1815.3V458.4zM1820.7 458.4V455.7H1825.7V458.4zM1831 458.4V453.2H1836V458.4zM1841.4 458.4V452.5H1846.4V458.4zM1851.7 458.4V446.9H1856.7V458.4zM1862.1 458.4V440.4H1867V458.4zM1872.4 458.4V428.7H1877.4V458.4zM1882.8 458.4V418.2H1887.7V458.4zM1893.1 458.4V410H1898.1V458.4zM1903.5 458.4V400.9H1908.4V458.4zM1913.8 458.4V399.6H1918.8V458.4zM1924.2 458.4V407.2H1929.1V458.4zM1934.5 458.4V415.6H1939.5V458.4zM1944.8 458.4V422.8H1949.8V458.4zM1955.2 458.4V426.7H1960.2V458.4zM1965.5 458.4V438.5H1970.5V458.4zM1975.9 458.4V443H1980.9V458.4zM1986.2 458.4V447.8H1991.2V458.4zM1996.6 458.4V452.8H2001.6V458.4zM2006.9 458.4V455.4H2011.9V458.4zM2017.3 458.4V456.7H2022.3V458.4z" fill="#a5dca0"/><path d="M1919 458.4V457.4H1924V458.4zM1929.3 458.4V456.1H1934.3V458.4zM1939.7 458.4V453.7H1944.7V458.4zM1950 458.4V449.7H1955V458.4zM1960.4 458.4V451.5H1965.3V458.4zM1970.7 458.4V428.7H1975.7V458.4zM1981.1 458.4V420.8H1986V458.4zM1991.4 458.4V412.1H1996.4V458.4zM2001.8 458.4V406.5H2006.7V458.4zM2012.1 458.4V406.1H2017.1V458.4zM2022.5 458.4V409.5H2027.4V458.4zM2032.8 458.4V419.2H2037.8V458.4zM2043.1 458.4V430.4H2048.1V458.4zM2053.5 458.4V438.2H2058.5V458.4zM2063.8 458.4V445H2068.8V458.4zM2074.2 458.4V448.2H2079.2V458.4zM2084.5 458.4V451.8H2089.5V458.4zM2094.9 458.4V453.8H2099.9V458.4zM2105.2 458.4V454.4H2110.2V458.4zM2115.6 458.4V455.4H2117.1V458.4z" fill="#fdd0a0"/><path d="M1810.3 458.4V457.1H1815.3V458.4M1820.7 458.4V455.7H1825.7V458.4M1831 458.4V453.2H1836V458.4M1841.4 458.4V452.5H1846.4V458.4M1851.7 458.4V446.9H1856.7V458.4M1862.1 458.4V440.4H1867V458.4M1872.4 458.4V428.7H1877.4V458.4M1882.8 458.4V418.2H1887.7V458.4M1893.1 458.4V410H1898.1V458.4M1903.5 458.4V400.9H1908.4V458.4M1913.8 458.4V399.6H1918.8V458.4M1919 458.4V457.4H1924V458.4M1924.2 458.4V407.2H1929.1V458.4M1929.3 458.4V456.1H1934.3V458.4M1934.5 458.4V415.6H1939.5V458.4M1939.7 458.4V453.7H1944.7V458.4M1944.8 458.4V422.8H1949.8V458.4M1950 458.4V449.7H1955V458.4M1955.2 458.4V426.7H1960.2V458.4M1960.4 458.4V451.5H1965.3V458.4M1965.5 458.4V438.5H1970.5V458.4M1970.7 458.4V428.7H1975.7V458.4M1975.9 458.4V443H1980.9V458.4M1981.1 458.4V420.8H1986V458.4M1986.2 458.4V447.8H1991.2V458.4M1991.4 458.4V412.1H1996.4V458.4M1996.6 458.4V452.8H2001.6V458.4M2001.8 458.4V406.5H2006.7V458.4M2006.9 458.4V455.4H2011.9V458.4M2012.1 458.4V406.1H2017.1V458.4M2017.3 458.4V456.7H2022.3V458.4M2022.5 458.4V409.5H2027.4V458.4M2032.8 458.4V419.2H2037.8V458.4M2043.1 458.4V430.4H2048.1V458.4M2053.5 458.4V438.2H2058.5V458.4M2063.8 458.4V445H2068.8V458.4M2074.2 458.4V448.2H2079.2V458.4M2084.5 458.4V451.8H2089.5V458.4M2094.9 458.4V453.8H2099.9V458.4M2105.2 458.4V454.4H2110.2V458.4M2115.6 458.4V455.4H2117.1V458.4" fill="none" stroke="#1a1a1a" stroke-width="1.25"/><path d="M1812.8 457.1v-0.9m-1.5 0h3M1823.2 455.7v-1m-1.5 0h3M1833.5 453.2v-1.1m-1.5 0h3M1843.9 452.5v-1.1m-1.5 0h3M1854.2 446.9v-1.4m-1.5 0h3M1864.6 440.4v-1.7m-1.5 0h3M1874.9 428.7v-2.3m-1.5 0h3M1885.3 418.2v-2.8m-1.5 0h3M1895.6 410v-3.2m-1.5 0h3M1905.9 400.9v-3.6m-1.5 0h3M1916.3 399.6v-3.7m-1.5 0h3M1921.5 457.4v-0.9m-1.5 0h3M1926.6 407.2v-3.3m-1.5 0h3M1931.8 456.1v-1m-1.5 0h3M1937 415.6v-2.9m-1.5 0h3M1942.2 453.7v-1.1m-1.5 0h3M1947.3 422.8v-2.5m-1.5 0h3M1952.5 449.7v-1.3m-1.5 0h3M1957.7 426.7v-2.4m-1.5 0h3M1962.9 451.5v-1.2m-1.5 0h3M1968 438.5v-1.8m-1.5 0h3M1973.2 428.7v-2.3m-1.5 0h3M1978.4 443v-1.6m-1.5 0h3M1983.6 420.8v-2.6m-1.5 0h3M1988.7 447.8v-1.3m-1.5 0h3M1993.9 412.1v-3.1m-1.5 0h3M1999.1 452.8v-1.1m-1.5 0h3M2004.2 406.5v-3.3m-1.5 0h3M2009.4 455.4v-1m-1.5 0h3M2014.6 406.1v-3.4m-1.5 0h3M2019.8 456.7v-0.9m-1.5 0h3M2024.9 409.5v-3.2m-1.5 0h3M2035.3 419.2v-2.7m-1.5 0h3M2045.6 430.4v-2.2m-1.5 0h3M2056 438.2v-1.8m-1.5 0h3M2066.3 445v-1.5m-1.5 0h3M2076.7 448.2v-1.3m-1.5 0h3M2087 451.8v-1.2m-1.5 0h3M2097.4 453.8v-1.1m-1.5 0h3M2107.7 454.4v-1m-1.5 0h3M2116.3 455.4v-1m-1.5 0h3" stroke="#aaa" stroke-width="0.8" fill="none"/><polyline points="1772.3,458.4 1875.8,458.4 1900.2,458.2 1910.3,457.9 1918.9,457.4 1926.1,456.6 1933.3,455.3 1939,453.9 1944.8,451.9 1950.5,449.4 1956.2,446.2 1962,442.3 1967.7,437.9 1973.5,432.9 1989.3,418.2 1993.6,414.6 1997.9,411.4 2002.2,408.8 2006.5,406.9 2010.9,405.7 2015.2,405.4 2019.5,405.9 2023.8,407.2 2028.1,409.3 2032.4,412 2036.7,415.3 2041,419 2055.4,432.3 2062.6,438.5 2066.9,441.9 2071.2,444.9 2078.4,449.1 2082.7,451.1 2087,452.8 2091.3,454.1 2095.6,455.2 2100,456.1 2105.7,456.9 2117.2,457.8" fill="none" stroke="#ee1010" stroke-width="2.5" stroke-linejoin="round"/><polyline points="1772.3,458.4 1799.6,458.1 1809.7,457.6 1816.8,457 1824,456 1829.8,454.9 1835.5,453.4 1841.3,451.4 1847,448.8 1851.3,446.4 1855.7,443.7 1861.4,439.5 1870,432.3 1888.7,414.8 1893,411.2 1897.3,407.9 1901.6,405.3 1905.9,403.2 1910.3,402 1914.6,401.5 1918.9,401.8 1923.2,402.9 1927.5,404.7 1931.8,407.2 1936.1,410.3 1940.4,413.9 1962,433.9 1967.7,438.7 1972.1,442 1977.8,445.8 1983.6,449 1989.3,451.5 1996.5,453.9 2003.7,455.6 2010.9,456.7 2019.5,457.5 2028.1,458 2051.1,458.4 2117.2,458.4" fill="none" stroke="#0808ee" stroke-width="2.5" stroke-linejoin="round"/><text x="1763.5" y="466.41" text-anchor="end" font-size="22" font-family='"Liberation Sans", Arial, Helvetica, sans-serif'>0.0</text><text x="1763.5" y="373.03" text-anchor="end" font-size="22" font-family='"Liberation Sans", Arial, Helvetica, sans-serif'>0.1</text><text x="1778.7" y="346.64" font-size="22.8" font-family='"Liberation Sans", Arial, Helvetica, sans-serif'>1 μM GDP</text><text x="1778.7" y="374.64" font-size="22.8" font-family='"Liberation Sans", Arial, Helvetica, sans-serif'>n = 582</text><line x1="1806.79" y1="458.41" x2="1806.79" y2="598.48" stroke="#a0a0a0" stroke-width="1.8"/><line x1="1841.28" y1="598.48" x2="1841.28" y2="458.41" stroke="#8c8c8c" stroke-width="1.5" stroke-dasharray="6.75,5.5"/><line x1="1875.77" y1="458.41" x2="1875.77" y2="598.48" stroke="#a0a0a0" stroke-width="1.8"/><line x1="1910.26" y1="598.48" x2="1910.26" y2="458.41" stroke="#8c8c8c" stroke-width="1.5" stroke-dasharray="6.75,5.5"/><line x1="1944.75" y1="458.41" x2="1944.75" y2="598.48" stroke="#a0a0a0" stroke-width="1.8"/><line x1="1979.24" y1="598.48" x2="1979.24" y2="458.41" stroke="#8c8c8c" stroke-width="1.5" stroke-dasharray="6.75,5.5"/><line x1="2013.73" y1="458.41" x2="2013.73" y2="598.48" stroke="#a0a0a0" stroke-width="1.8"/><line x1="2048.22" y1="598.48" x2="2048.22" y2="458.41" stroke="#8c8c8c" stroke-width="1.5" stroke-dasharray="6.75,5.5"/><line x1="2082.71" y1="458.41" x2="2082.71" y2="598.48" stroke="#a0a0a0" stroke-width="1.8"/><rect x="1773.3" y="459.41" width="114.89" height="63.3" fill="#fff"/><path d="M1810.3 598.5V597.7H1815.3V598.5zM1820.7 598.5V596.8H1825.7V598.5zM1831 598.5V595.1H1836V598.5zM1841.4 598.5V593.8H1846.4V598.5zM1851.7 598.5V590.2H1856.7V598.5zM1862.1 598.5V585H1867V598.5zM1872.4 598.5V578.2H1877.4V598.5zM1882.8 598.5V568.3H1887.7V598.5zM1893.1 598.5V559.9H1898.1V598.5zM1903.5 598.5V554.3H1908.4V598.5zM1913.8 598.5V554.3H1918.8V598.5zM1924.2 598.5V556H1929.1V598.5zM1934.5 598.5V559.5H1939.5V598.5zM1944.8 598.5V565.4H1949.8V598.5zM1955.2 598.5V566.4H1960.2V598.5zM1965.5 598.5V573.2H1970.5V598.5zM1975.9 598.5V581.1H1980.9V598.5zM1986.2 598.5V588.2H1991.2V598.5zM1996.6 598.5V592.5H2001.6V598.5zM2006.9 598.5V595.4H2011.9V598.5zM2017.3 598.5V597H2022.3V598.5z" fill="#a5dca0"/><path d="M1919 598.5V597.7H1924V598.5zM1929.3 598.5V596.6H1934.3V598.5zM1939.7 598.5V594.4H1944.7V598.5zM1950 598.5V590.2H1955V598.5zM1960.4 598.5V590.2H1965.3V598.5zM1970.7 598.5V563.4H1975.7V598.5zM1981.1 598.5V554.3H1986V598.5zM1991.4 598.5V546.1H1996.4V598.5zM2001.8 598.5V538.3H2006.7V598.5zM2012.1 598.5V536.7H2017.1V598.5zM2022.5 598.5V538H2027.4V598.5zM2032.8 598.5V549.5H2037.8V598.5zM2043.1 598.5V565.4H2048.1V598.5zM2053.5 598.5V573.2H2058.5V598.5zM2063.8 598.5V580H2068.8V598.5zM2074.2 598.5V586H2079.2V598.5zM2084.5 598.5V590.2H2089.5V598.5zM2094.9 598.5V592.5H2099.9V598.5zM2105.2 598.5V594.4H2110.2V598.5zM2115.6 598.5V595.7H2117.1V598.5z" fill="#fdd0a0"/><path d="M1810.3 598.5V597.7H1815.3V598.5M1820.7 598.5V596.8H1825.7V598.5M1831 598.5V595.1H1836V598.5M1841.4 598.5V593.8H1846.4V598.5M1851.7 598.5V590.2H1856.7V598.5M1862.1 598.5V585H1867V598.5M1872.4 598.5V578.2H1877.4V598.5M1882.8 598.5V568.3H1887.7V598.5M1893.1 598.5V559.9H1898.1V598.5M1903.5 598.5V554.3H1908.4V598.5M1913.8 598.5V554.3H1918.8V598.5M1919 598.5V597.7H1924V598.5M1924.2 598.5V556H1929.1V598.5M1929.3 598.5V596.6H1934.3V598.5M1934.5 598.5V559.5H1939.5V598.5M1939.7 598.5V594.4H1944.7V598.5M1944.8 598.5V565.4H1949.8V598.5M1950 598.5V590.2H1955V598.5M1955.2 598.5V566.4H1960.2V598.5M1960.4 598.5V590.2H1965.3V598.5M1965.5 598.5V573.2H1970.5V598.5M1970.7 598.5V563.4H1975.7V598.5M1975.9 598.5V581.1H1980.9V598.5M1981.1 598.5V554.3H1986V598.5M1986.2 598.5V588.2H1991.2V598.5M1991.4 598.5V546.1H1996.4V598.5M1996.6 598.5V592.5H2001.6V598.5M2001.8 598.5V538.3H2006.7V598.5M2006.9 598.5V595.4H2011.9V598.5M2012.1 598.5V536.7H2017.1V598.5M2017.3 598.5V597H2022.3V598.5M2022.5 598.5V538H2027.4V598.5M2032.8 598.5V549.5H2037.8V598.5M2043.1 598.5V565.4H2048.1V598.5M2053.5 598.5V573.2H2058.5V598.5M2063.8 598.5V580H2068.8V598.5M2074.2 598.5V586H2079.2V598.5M2084.5 598.5V590.2H2089.5V598.5M2094.9 598.5V592.5H2099.9V598.5M2105.2 598.5V594.4H2110.2V598.5M2115.6 598.5V595.7H2117.1V598.5" fill="none" stroke="#1a1a1a" stroke-width="1.25"/><path d="M1812.8 597.7v-0.9m-1.5 0h3M1823.2 596.8v-0.9m-1.5 0h3M1833.5 595.1v-1m-1.5 0h3M1843.9 593.8v-1.1m-1.5 0h3M1854.2 590.2v-1.2m-1.5 0h3M1864.6 585v-1.5m-1.5 0h3M1874.9 578.2v-1.8m-1.5 0h3M1885.3 568.3v-2.3m-1.5 0h3M1895.6 559.9v-2.7m-1.5 0h3M1905.9 554.3v-3m-1.5 0h3M1916.3 554.3v-3m-1.5 0h3M1921.5 597.7v-0.9m-1.5 0h3M1926.6 556v-2.9m-1.5 0h3M1931.8 596.6v-0.9m-1.5 0h3M1937 559.5v-2.7m-1.5 0h3M1942.2 594.4v-1m-1.5 0h3M1947.3 565.4v-2.4m-1.5 0h3M1952.5 590.2v-1.2m-1.5 0h3M1957.7 566.4v-2.4m-1.5 0h3M1962.9 590.2v-1.2m-1.5 0h3M1968 573.2v-2.1m-1.5 0h3M1973.2 563.4v-2.5m-1.5 0h3M1978.4 581.1v-1.7m-1.5 0h3M1983.6 554.3v-3m-1.5 0h3M1988.7 588.2v-1.3m-1.5 0h3M1993.9 546.1v-3.4m-1.5 0h3M1999.1 592.5v-1.1m-1.5 0h3M2004.2 538.3v-3.7m-1.5 0h3M2009.4 595.4v-1m-1.5 0h3M2014.6 536.7v-3.8m-1.5 0h3M2019.8 597v-0.9m-1.5 0h3M2024.9 538v-3.7m-1.5 0h3M2035.3 549.5v-3.2m-1.5 0h3M2045.6 565.4v-2.4m-1.5 0h3M2056 573.2v-2.1m-1.5 0h3M2066.3 580v-1.7m-1.5 0h3M2076.7 586v-1.4m-1.5 0h3M2087 590.2v-1.2m-1.5 0h3M2097.4 592.5v-1.1m-1.5 0h3M2107.7 594.4v-1m-1.5 0h3M2116.3 595.7v-1m-1.5 0h3" stroke="#aaa" stroke-width="0.8" fill="none"/><polyline points="1772.3,598.5 1881.5,598.5 1905.9,598.3 1916,597.9 1924.6,597.2 1931.8,596.2 1937.6,594.9 1943.3,593.1 1949.1,590.6 1954.8,587.4 1959.1,584.4 1964.9,579.6 1970.6,574.1 1976.4,567.8 1990.7,551.3 1995,546.9 1997.9,544.2 2002.2,540.8 2006.5,538.3 2010.9,536.7 2013.7,536.3 2015.2,536.3 2018,536.6 2022.4,538 2026.7,540.4 2031,543.7 2033.8,546.3 2038.2,550.7 2054,568.7 2061.2,576.3 2068.3,582.8 2071.2,585 2075.5,587.9 2079.8,590.3 2084.1,592.3 2088.5,593.9 2092.8,595.1 2097.1,596.1 2102.8,597 2110,597.7 2117.2,598.1" fill="none" stroke="#ee1010" stroke-width="2.5" stroke-linejoin="round"/><polyline points="1772.3,598.5 1801,598.2 1818.3,597.5 1825.5,596.8 1832.7,595.8 1838.4,594.6 1844.2,593.1 1849.9,591.2 1855.7,588.8 1860,586.7 1865.7,583.4 1874.3,577.8 1894.5,563.4 1898.8,560.6 1903.1,558.2 1907.4,556.2 1911.7,554.7 1916,553.7 1920.3,553.3 1924.6,553.5 1928.9,554.3 1933.3,555.7 1937.6,557.6 1941.9,559.9 1946.2,562.6 1969.2,578.9 1974.9,582.7 1979.2,585.2 1985,588.2 1990.7,590.7 1996.5,592.7 2003.7,594.6 2010.9,596 2018,597 2026.7,597.7 2035.3,598.1 2058.3,598.4 2117.2,598.5" fill="none" stroke="#0808ee" stroke-width="2.5" stroke-linejoin="round"/><text x="1763.5" y="606.48" text-anchor="end" font-size="22" font-family='"Liberation Sans", Arial, Helvetica, sans-serif'>0.0</text><text x="1763.5" y="513.1" text-anchor="end" font-size="22" font-family='"Liberation Sans", Arial, Helvetica, sans-serif'>0.1</text><text x="1778.7" y="486.71" font-size="22.8" font-family='"Liberation Sans", Arial, Helvetica, sans-serif'>2 μM GDP</text><text x="1778.7" y="514.71" font-size="22.8" font-family='"Liberation Sans", Arial, Helvetica, sans-serif'>n = 553</text><line x1="1806.79" y1="598.48" x2="1806.79" y2="738.55" stroke="#a0a0a0" stroke-width="1.8"/><line x1="1841.28" y1="738.55" x2="1841.28" y2="598.48" stroke="#8c8c8c" stroke-width="1.5" stroke-dasharray="6.75,5.5"/><line x1="1875.77" y1="598.48" x2="1875.77" y2="738.55" stroke="#a0a0a0" stroke-width="1.8"/><line x1="1910.26" y1="738.55" x2="1910.26" y2="598.48" stroke="#8c8c8c" stroke-width="1.5" stroke-dasharray="6.75,5.5"/><line x1="1944.75" y1="598.48" x2="1944.75" y2="738.55" stroke="#a0a0a0" stroke-width="1.8"/><line x1="1979.24" y1="738.55" x2="1979.24" y2="598.48" stroke="#8c8c8c" stroke-width="1.5" stroke-dasharray="6.75,5.5"/><line x1="2013.73" y1="598.48" x2="2013.73" y2="738.55" stroke="#a0a0a0" stroke-width="1.8"/><line x1="2048.22" y1="738.55" x2="2048.22" y2="598.48" stroke="#8c8c8c" stroke-width="1.5" stroke-dasharray="6.75,5.5"/><line x1="2082.71" y1="598.48" x2="2082.71" y2="738.55" stroke="#a0a0a0" stroke-width="1.8"/><rect x="1773.3" y="599.48" width="127.57" height="63.3" fill="#fff"/><path d="M1810.3 738.5V737.6H1815.3V738.5zM1820.7 738.5V736.9H1825.7V738.5zM1831 738.5V735.7H1836V738.5zM1841.4 738.5V734.4H1846.4V738.5zM1851.7 738.5V732.5H1856.7V738.5zM1862.1 738.5V729.5H1867V738.5zM1872.4 738.5V727.3H1877.4V738.5zM1882.8 738.5V723H1887.7V738.5zM1893.1 738.5V718.5H1898.1V738.5zM1903.5 738.5V711.9H1908.4V738.5zM1913.8 738.5V708.3H1918.8V738.5zM1924.2 738.5V704.8H1929.1V738.5zM1934.5 738.5V704.4H1939.5V738.5zM1944.8 738.5V701.5H1949.8V738.5zM1955.2 738.5V700.8H1960.2V738.5zM1965.5 738.5V702.2H1970.5V738.5zM1975.9 738.5V715.8H1980.9V738.5zM1986.2 738.5V723.7H1991.2V738.5zM1996.6 738.5V730.2H2001.6V738.5zM2006.9 738.5V734.1H2011.9V738.5zM2017.3 738.5V736.5H2022.3V738.5zM2027.6 738.5V732H2032.6V738.5zM2038 738.5V734.3H2042.9V738.5zM2048.3 738.5V735.9H2053.3V738.5zM2058.7 738.5V737H2063.6V738.5zM2069 738.5V737.7H2074V738.5z" fill="#a5dca0"/><path d="M1929.3 738.5V737.1H1934.3V738.5zM1939.7 738.5V735.3H1944.7V738.5zM1950 738.5V731.7H1955V738.5zM1960.4 738.5V726.3H1965.3V738.5zM1970.7 738.5V715.8H1975.7V738.5zM1981.1 738.5V698.9H1986V738.5zM1991.4 738.5V685.2H1996.4V738.5zM2001.8 738.5V676.1H2006.7V738.5zM2012.1 738.5V669.9H2017.1V738.5zM2022.5 738.5V671.5H2027.4V738.5zM2032.8 738.5V680H2037.8V738.5zM2043.1 738.5V692.1H2048.1V738.5zM2053.5 738.5V705.7H2058.5V738.5zM2063.8 738.5V714.5H2068.8V738.5zM2074.2 738.5V723H2079.2V738.5zM2084.5 738.5V726H2089.5V738.5zM2094.9 738.5V731.5H2099.9V738.5zM2105.2 738.5V733.1H2110.2V738.5zM2115.6 738.5V734.1H2117.1V738.5z" fill="#fdd0a0"/><path d="M1810.3 738.5V737.6H1815.3V738.5M1820.7 738.5V736.9H1825.7V738.5M1831 738.5V735.7H1836V738.5M1841.4 738.5V734.4H1846.4V738.5M1851.7 738.5V732.5H1856.7V738.5M1862.1 738.5V729.5H1867V738.5M1872.4 738.5V727.3H1877.4V738.5M1882.8 738.5V723H1887.7V738.5M1893.1 738.5V718.5H1898.1V738.5M1903.5 738.5V711.9H1908.4V738.5M1913.8 738.5V708.3H1918.8V738.5M1924.2 738.5V704.8H1929.1V738.5M1929.3 738.5V737.1H1934.3V738.5M1934.5 738.5V704.4H1939.5V738.5M1939.7 738.5V735.3H1944.7V738.5M1944.8 738.5V701.5H1949.8V738.5M1950 738.5V731.7H1955V738.5M1955.2 738.5V700.8H1960.2V738.5M1960.4 738.5V726.3H1965.3V738.5M1965.5 738.5V702.2H1970.5V738.5M1970.7 738.5V715.8H1975.7V738.5M1975.9 738.5V715.8H1980.9V738.5M1981.1 738.5V698.9H1986V738.5M1986.2 738.5V723.7H1991.2V738.5M1991.4 738.5V685.2H1996.4V738.5M1996.6 738.5V730.2H2001.6V738.5M2001.8 738.5V676.1H2006.7V738.5M2006.9 738.5V734.1H2011.9V738.5M2012.1 738.5V669.9H2017.1V738.5M2017.3 738.5V736.5H2022.3V738.5M2022.5 738.5V671.5H2027.4V738.5M2027.6 738.5V732H2032.6V738.5M2032.8 738.5V680H2037.8V738.5M2038 738.5V734.3H2042.9V738.5M2043.1 738.5V692.1H2048.1V738.5M2048.3 738.5V735.9H2053.3V738.5M2053.5 738.5V705.7H2058.5V738.5M2058.7 738.5V737H2063.6V738.5M2063.8 738.5V714.5H2068.8V738.5M2069 738.5V737.7H2074V738.5M2074.2 738.5V723H2079.2V738.5M2084.5 738.5V726H2089.5V738.5M2094.9 738.5V731.5H2099.9V738.5M2105.2 738.5V733.1H2110.2V738.5M2115.6 738.5V734.1H2117.1V738.5" fill="none" stroke="#1a1a1a" stroke-width="1.25"/><path d="M1812.8 737.6v-0.9m-1.5 0h3M1823.2 736.9v-0.9m-1.5 0h3M1833.5 735.7v-1m-1.5 0h3M1843.9 734.4v-1m-1.5 0h3M1854.2 732.5v-1.1m-1.5 0h3M1864.6 729.5v-1.3m-1.5 0h3M1874.9 727.3v-1.4m-1.5 0h3M1885.3 723v-1.6m-1.5 0h3M1895.6 718.5v-1.8m-1.5 0h3M1905.9 711.9v-2.1m-1.5 0h3M1916.3 708.3v-2.3m-1.5 0h3M1926.6 704.8v-2.5m-1.5 0h3M1931.8 737.1v-0.9m-1.5 0h3M1937 704.4v-2.5m-1.5 0h3M1942.2 735.3v-1m-1.5 0h3M1947.3 701.5v-2.6m-1.5 0h3M1952.5 731.7v-1.2m-1.5 0h3M1957.7 700.8v-2.7m-1.5 0h3M1962.9 726.3v-1.4m-1.5 0h3M1968 702.2v-2.6m-1.5 0h3M1973.2 715.8v-1.9m-1.5 0h3M1978.4 715.8v-1.9m-1.5 0h3M1983.6 698.9v-2.7m-1.5 0h3M1988.7 723.7v-1.6m-1.5 0h3M1993.9 685.2v-3.4m-1.5 0h3M1999.1 730.2v-1.2m-1.5 0h3M2004.2 676.1v-3.8m-1.5 0h3M2009.4 734.1v-1.1m-1.5 0h3M2014.6 669.9v-4.1m-1.5 0h3M2019.8 736.5v-0.9m-1.5 0h3M2024.9 671.5v-4.1m-1.5 0h3M2030.1 732v-1.2m-1.5 0h3M2035.3 680v-3.7m-1.5 0h3M2040.5 734.3v-1m-1.5 0h3M2045.6 692.1v-3.1m-1.5 0h3M2050.8 735.9v-1m-1.5 0h3M2056 705.7v-2.4m-1.5 0h3M2061.2 737v-0.9m-1.5 0h3M2066.3 714.5v-2m-1.5 0h3M2071.5 737.7v-0.9m-1.5 0h3M2076.7 723v-1.6m-1.5 0h3M2087 726v-1.4m-1.5 0h3M2097.4 731.5v-1.2m-1.5 0h3M2107.7 733.1v-1.1m-1.5 0h3M2116.3 734.1v-1.1m-1.5 0h3" stroke="#aaa" stroke-width="0.8" fill="none"/><polyline points="1772.3,738.5 1885.8,738.5 1910.3,738.3 1920.3,737.9 1928.9,737.2 1936.1,736 1941.9,734.7 1947.6,732.7 1953.4,730 1959.1,726.5 1963.4,723.2 1969.2,718 1974.9,712 1980.7,705.2 1995,687.1 1999.4,682.2 2002.2,679.3 2006.5,675.5 2010.9,672.6 2015.2,670.9 2018,670.4 2019.5,670.3 2022.4,670.6 2023.8,670.9 2026.7,672 2031,674.5 2035.3,678 2039.6,682.3 2043.9,687.2 2058.3,705.2 2065.5,713.6 2072.7,720.8 2075.5,723.2 2079.8,726.5 2082.7,728.4 2087,730.8 2091.3,732.7 2095.6,734.2 2100,735.4 2105.7,736.6 2111.5,737.3 2117.2,737.8" fill="none" stroke="#ee1010" stroke-width="2.5" stroke-linejoin="round"/><polyline points="1772.3,738.5 1799.6,738.2 1819.7,737.3 1828.3,736.6 1835.5,735.8 1842.7,734.7 1849.9,733.3 1861.4,730.4 1867.1,728.5 1874.3,725.9 1885.8,721.1 1908.8,710.4 1914.6,708 1920.3,705.9 1927.5,703.7 1933.3,702.5 1939,701.8 1944.8,701.6 1950.5,701.9 1956.2,702.8 1962,704.1 1967.7,705.9 1973.5,708 1979.2,710.4 2002.2,721 2013.7,725.9 2020.9,728.5 2026.7,730.3 2038.2,733.3 2045.3,734.7 2052.5,735.8 2059.7,736.6 2068.3,737.3 2088.5,738.2 2117.2,738.5" fill="none" stroke="#0808ee" stroke-width="2.5" stroke-linejoin="round"/><text x="1763.5" y="746.55" text-anchor="end" font-size="22" font-family='"Liberation Sans", Arial, Helvetica, sans-serif'>0.0</text><text x="1763.5" y="653.17" text-anchor="end" font-size="22" font-family='"Liberation Sans", Arial, Helvetica, sans-serif'>0.1</text><text x="1778.7" y="626.78" font-size="22.8" font-family='"Liberation Sans", Arial, Helvetica, sans-serif'>10 μM GDP</text><text x="1778.7" y="654.78" font-size="22.8" font-family='"Liberation Sans", Arial, Helvetica, sans-serif'>n = 374</text><line x1="1806.79" y1="738.55" x2="1806.79" y2="878.62" stroke="#a0a0a0" stroke-width="1.8"/><line x1="1841.28" y1="878.62" x2="1841.28" y2="738.55" stroke="#8c8c8c" stroke-width="1.5" stroke-dasharray="6.75,5.5"/><line x1="1875.77" y1="738.55" x2="1875.77" y2="878.62" stroke="#a0a0a0" stroke-width="1.8"/><line x1="1910.26" y1="878.62" x2="1910.26" y2="738.55" stroke="#8c8c8c" stroke-width="1.5" stroke-dasharray="6.75,5.5"/><line x1="1944.75" y1="738.55" x2="1944.75" y2="878.62" stroke="#a0a0a0" stroke-width="1.8"/><line x1="1979.24" y1="878.62" x2="1979.24" y2="738.55" stroke="#8c8c8c" stroke-width="1.5" stroke-dasharray="6.75,5.5"/><line x1="2013.73" y1="738.55" x2="2013.73" y2="878.62" stroke="#a0a0a0" stroke-width="1.8"/><line x1="2048.22" y1="878.62" x2="2048.22" y2="738.55" stroke="#8c8c8c" stroke-width="1.5" stroke-dasharray="6.75,5.5"/><line x1="2082.71" y1="738.55" x2="2082.71" y2="878.62" stroke="#a0a0a0" stroke-width="1.8"/><rect x="1773.3" y="739.55" width="127.57" height="63.3" fill="#fff"/><path d="M1841.4 878.6V877.4H1846.4V878.6zM1851.7 878.6V875.7H1856.7V878.6zM1862.1 878.6V875.2H1867V878.6zM1872.4 878.6V871.5H1877.4V878.6zM1882.8 878.6V868.9H1887.7V878.6zM1893.1 878.6V866.9H1898.1V878.6zM1903.5 878.6V863H1908.4V878.6zM1913.8 878.6V857.4H1918.8V878.6zM1924.2 878.6V854.5H1929.1V878.6zM1934.5 878.6V849.6H1939.5V878.6zM1944.8 878.6V846.7H1949.8V878.6zM1955.2 878.6V843.9H1960.2V878.6zM1965.5 878.6V843.5H1970.5V878.6zM1975.9 878.6V851.9H1980.9V878.6zM1986.2 878.6V862.4H1991.2V878.6zM1996.6 878.6V868.9H2001.6V878.6zM2006.9 878.6V873.5H2011.9V878.6zM2017.3 878.6V876.1H2022.3V878.6zM2027.6 878.6V875.6H2032.6V878.6zM2038 878.6V877.1H2042.9V878.6z" fill="#a5dca0"/><path d="M1929.3 878.6V876.9H1934.3V878.6zM1939.7 878.6V874.9H1944.7V878.6zM1950 878.6V871H1955V878.6zM1960.4 878.6V869.5H1965.3V878.6zM1970.7 878.6V848H1975.7V878.6zM1981.1 878.6V836.5H1986V878.6zM1991.4 878.6V819.3H1996.4V878.6zM2001.8 878.6V807.6H2006.7V878.6zM2012.1 878.6V800.8H2017.1V878.6zM2022.5 878.6V800.4H2027.4V878.6zM2032.8 878.6V811.5H2037.8V878.6zM2043.1 878.6V830.8H2048.1V878.6zM2053.5 878.6V840.9H2058.5V878.6zM2063.8 878.6V851.7H2068.8V878.6zM2074.2 878.6V859.1H2079.2V878.6zM2084.5 878.6V865H2089.5V878.6zM2094.9 878.6V869.5H2099.9V878.6zM2105.2 878.6V871.8H2110.2V878.6zM2115.6 878.6V873.8H2117.1V878.6z" fill="#fdd0a0"/><path d="M1841.4 878.6V877.4H1846.4V878.6M1851.7 878.6V875.7H1856.7V878.6M1862.1 878.6V875.2H1867V878.6M1872.4 878.6V871.5H1877.4V878.6M1882.8 878.6V868.9H1887.7V878.6M1893.1 878.6V866.9H1898.1V878.6M1903.5 878.6V863H1908.4V878.6M1913.8 878.6V857.4H1918.8V878.6M1924.2 878.6V854.5H1929.1V878.6M1929.3 878.6V876.9H1934.3V878.6M1934.5 878.6V849.6H1939.5V878.6M1939.7 878.6V874.9H1944.7V878.6M1944.8 878.6V846.7H1949.8V878.6M1950 878.6V871H1955V878.6M1955.2 878.6V843.9H1960.2V878.6M1960.4 878.6V869.5H1965.3V878.6M1965.5 878.6V843.5H1970.5V878.6M1970.7 878.6V848H1975.7V878.6M1975.9 878.6V851.9H1980.9V878.6M1981.1 878.6V836.5H1986V878.6M1986.2 878.6V862.4H1991.2V878.6M1991.4 878.6V819.3H1996.4V878.6M1996.6 878.6V868.9H2001.6V878.6M2001.8 878.6V807.6H2006.7V878.6M2006.9 878.6V873.5H2011.9V878.6M2012.1 878.6V800.8H2017.1V878.6M2017.3 878.6V876.1H2022.3V878.6M2022.5 878.6V800.4H2027.4V878.6M2027.6 878.6V875.6H2032.6V878.6M2032.8 878.6V811.5H2037.8V878.6M2038 878.6V877.1H2042.9V878.6M2043.1 878.6V830.8H2048.1V878.6M2053.5 878.6V840.9H2058.5V878.6M2063.8 878.6V851.7H2068.8V878.6M2074.2 878.6V859.1H2079.2V878.6M2084.5 878.6V865H2089.5V878.6M2094.9 878.6V869.5H2099.9V878.6M2105.2 878.6V871.8H2110.2V878.6M2115.6 878.6V873.8H2117.1V878.6" fill="none" stroke="#1a1a1a" stroke-width="1.25"/><path d="M1843.9 877.4v-0.9m-1.5 0h3M1854.2 875.7v-1m-1.5 0h3M1864.6 875.2v-1m-1.5 0h3M1874.9 871.5v-1.2m-1.5 0h3M1885.3 868.9v-1.3m-1.5 0h3M1895.6 866.9v-1.4m-1.5 0h3M1905.9 863v-1.6m-1.5 0h3M1916.3 857.4v-1.9m-1.5 0h3M1926.6 854.5v-2m-1.5 0h3M1931.8 876.9v-0.9m-1.5 0h3M1937 849.6v-2.2m-1.5 0h3M1942.2 874.9v-1m-1.5 0h3M1947.3 846.7v-2.4m-1.5 0h3M1952.5 871v-1.2m-1.5 0h3M1957.7 843.9v-2.5m-1.5 0h3M1962.9 869.5v-1.3m-1.5 0h3M1968 843.5v-2.5m-1.5 0h3M1973.2 848v-2.3m-1.5 0h3M1978.4 851.9v-2.1m-1.5 0h3M1983.6 836.5v-2.9m-1.5 0h3M1988.7 862.4v-1.6m-1.5 0h3M1993.9 819.3v-3.7m-1.5 0h3M1999.1 868.9v-1.3m-1.5 0h3M2004.2 807.6v-4.2m-1.5 0h3M2009.4 873.5v-1.1m-1.5 0h3M2014.6 800.8v-4.6m-1.5 0h3M2019.8 876.1v-1m-1.5 0h3M2024.9 800.4v-4.6m-1.5 0h3M2030.1 875.6v-1m-1.5 0h3M2035.3 811.5v-4.1m-1.5 0h3M2040.5 877.1v-0.9m-1.5 0h3M2045.6 830.8v-3.1m-1.5 0h3M2056 840.9v-2.7m-1.5 0h3M2066.3 851.7v-2.1m-1.5 0h3M2076.7 859.1v-1.8m-1.5 0h3M2087 865v-1.5m-1.5 0h3M2097.4 869.5v-1.3m-1.5 0h3M2107.7 871.8v-1.2m-1.5 0h3M2116.3 873.8v-1.1m-1.5 0h3" stroke="#aaa" stroke-width="0.8" fill="none"/><polyline points="1772.3,878.6 1883,878.6 1908.8,878.4 1918.9,877.9 1927.5,877.2 1934.7,876 1941.9,874.2 1947.6,872.1 1953.4,869.1 1959.1,865.4 1964.9,860.6 1970.6,854.8 1976.4,848.1 1982.1,840.6 1996.5,820.7 2000.8,815.2 2005.1,810.3 2009.4,806.2 2013.7,803.2 2016.6,801.8 2018,801.3 2020.9,800.7 2022.4,800.6 2023.8,800.7 2026.7,801.3 2028.1,801.8 2031,803.2 2035.3,806.2 2039.6,810.3 2042.5,813.4 2046.8,818.8 2062.6,840.6 2069.8,849.8 2077,857.8 2081.3,861.9 2084.1,864.3 2087,866.4 2091.3,869.1 2094.2,870.7 2098.5,872.7 2102.8,874.2 2107.1,875.4 2111.5,876.3 2117.2,877.2" fill="none" stroke="#ee1010" stroke-width="2.5" stroke-linejoin="round"/><polyline points="1772.3,878.6 1822.6,878.6 1844.2,878.3 1852.8,877.9 1861.4,877.3 1868.6,876.5 1874.3,875.5 1880.1,874.3 1885.8,872.7 1891.6,870.8 1897.3,868.5 1907.4,863.6 1927.5,852.4 1936.1,848.4 1940.4,846.8 1944.8,845.7 1949.1,845 1953.4,844.7 1957.7,845 1962,845.7 1966.3,846.8 1970.6,848.4 1979.2,852.4 1997.9,862.8 2008,867.8 2013.7,870.2 2019.5,872.3 2025.2,873.9 2031,875.3 2036.7,876.3 2043.9,877.2 2058.3,878.1 2078.4,878.5 2117.2,878.6" fill="none" stroke="#0808ee" stroke-width="2.5" stroke-linejoin="round"/><text x="1763.5" y="886.62" text-anchor="end" font-size="22" font-family='"Liberation Sans", Arial, Helvetica, sans-serif'>0.0</text><text x="1763.5" y="793.24" text-anchor="end" font-size="22" font-family='"Liberation Sans", Arial, Helvetica, sans-serif'>0.1</text><text x="1778.7" y="766.85" font-size="22.8" font-family='"Liberation Sans", Arial, Helvetica, sans-serif'>30 μM GDP</text><text x="1778.7" y="794.85" font-size="22.8" font-family='"Liberation Sans", Arial, Helvetica, sans-serif'>n = 666</text><line x1="1772" y1="178.27" x2="2117.2" y2="178.27" stroke="#000018" stroke-width="2.4" stroke-opacity="0.72"/><path d="M1806.79 178.27v4M1841.28 178.27v4M1875.77 178.27v4M1910.26 178.27v4M1944.75 178.27v4M1979.24 178.27v4M2013.73 178.27v4M2048.22 178.27v4M2082.71 178.27v4M1772 131.58h-4.5M2117.2 131.58h-4.5M1772 84.89h-4.5M2117.2 84.89h-4.5M1772 178.27h-4.5" stroke="#111" stroke-width="1.5" fill="none"/><line x1="1772" y1="318.34" x2="2117.2" y2="318.34" stroke="#000018" stroke-width="2.4" stroke-opacity="0.72"/><path d="M1806.79 318.34v4M1841.28 318.34v4M1875.77 318.34v4M1910.26 318.34v4M1944.75 318.34v4M1979.24 318.34v4M2013.73 318.34v4M2048.22 318.34v4M2082.71 318.34v4M1772 271.65h-4.5M2117.2 271.65h-4.5M1772 224.96h-4.5M2117.2 224.96h-4.5M1772 318.34h-4.5" stroke="#111" stroke-width="1.5" fill="none"/><line x1="1772" y1="458.41" x2="2117.2" y2="458.41" stroke="#000018" stroke-width="2.4" stroke-opacity="0.72"/><path d="M1806.79 458.41v4M1841.28 458.41v4M1875.77 458.41v4M1910.26 458.41v4M1944.75 458.41v4M1979.24 458.41v4M2013.73 458.41v4M2048.22 458.41v4M2082.71 458.41v4M1772 411.72h-4.5M2117.2 411.72h-4.5M1772 365.03h-4.5M2117.2 365.03h-4.5M1772 458.41h-4.5" stroke="#111" stroke-width="1.5" fill="none"/><line x1="1772" y1="598.48" x2="2117.2" y2="598.48" stroke="#000018" stroke-width="2.4" stroke-opacity="0.72"/><path d="M1806.79 598.48v4M1841.28 598.48v4M1875.77 598.48v4M1910.26 598.48v4M1944.75 598.48v4M1979.24 598.48v4M2013.73 598.48v4M2048.22 598.48v4M2082.71 598.48v4M1772 551.79h-4.5M2117.2 551.79h-4.5M1772 505.1h-4.5M2117.2 505.1h-4.5M1772 598.48h-4.5" stroke="#111" stroke-width="1.5" fill="none"/><line x1="1772" y1="738.55" x2="2117.2" y2="738.55" stroke="#000018" stroke-width="2.4" stroke-opacity="0.72"/><path d="M1806.79 738.55v4M1841.28 738.55v4M1875.77 738.55v4M1910.26 738.55v4M1944.75 738.55v4M1979.24 738.55v4M2013.73 738.55v4M2048.22 738.55v4M2082.71 738.55v4M1772 691.86h-4.5M2117.2 691.86h-4.5M1772 645.17h-4.5M2117.2 645.17h-4.5M1772 738.55h-4.5" stroke="#111" stroke-width="1.5" fill="none"/><line x1="1772" y1="878.62" x2="2117.2" y2="878.62" stroke="#000018" stroke-width="2.4" stroke-opacity="0.72"/><path d="M1806.79 878.62v4M1841.28 878.62v4M1875.77 878.62v4M1910.26 878.62v4M1944.75 878.62v4M1979.24 878.62v4M2013.73 878.62v4M2048.22 878.62v4M2082.71 878.62v4M1772 831.93h-4.5M2117.2 831.93h-4.5M1772 785.24h-4.5M2117.2 785.24h-4.5M1772 878.62h-4.5" stroke="#111" stroke-width="1.5" fill="none"/><path d="M1806.79 38.2v4M1841.28 38.2v4M1875.77 38.2v4M1910.26 38.2v4M1944.75 38.2v4M1979.24 38.2v4M2013.73 38.2v4M2048.22 38.2v4M2082.71 38.2v4M1772 38.2h-4.5" stroke="#111" stroke-width="1.5" fill="none"/><path d="M1772 882.62V38.2H2117.2V878.62" stroke="#111" stroke-width="1.8" fill="none"/><line x1="1910.26" y1="69.9" x2="1910.26" y2="878.62" stroke="#fff" stroke-width="4"/><line x1="1944.75" y1="39.2" x2="1944.75" y2="878.62" stroke="#fff" stroke-width="4"/><line x1="1910.26" y1="69.9" x2="1910.26" y2="878.62" stroke="#00893f" stroke-width="3.2" stroke-dasharray="13.7,9.9" stroke-dashoffset="6.2"/><line x1="1944.75" y1="38.2" x2="1944.75" y2="878.62" stroke="#0a14e6" stroke-width="3.2" stroke-dasharray="13.7,9.9" stroke-dashoffset="21.6"/><text x="1806.79" y="905.12" text-anchor="middle" font-size="22.5" font-family='"Liberation Sans", Arial, Helvetica, sans-serif'>0.2</text><text x="1875.77" y="905.12" text-anchor="middle" font-size="22.5" font-family='"Liberation Sans", Arial, Helvetica, sans-serif'>0.4</text><text x="1944.75" y="905.12" text-anchor="middle" font-size="22.5" font-family='"Liberation Sans", Arial, Helvetica, sans-serif'>0.6</text><text x="2013.73" y="905.12" text-anchor="middle" font-size="22.5" font-family='"Liberation Sans", Arial, Helvetica, sans-serif'>0.8</text><text x="2082.71" y="905.12" text-anchor="middle" font-size="22.5" font-family='"Liberation Sans", Arial, Helvetica, sans-serif'>1.0</text><text x="1948.7" y="938.8" text-anchor="middle" font-size="28.4" font-family='"Liberation Sans", Arial, Helvetica, sans-serif'>FRET</text><text x="1946.4" y="25" text-anchor="middle" font-size="33.3" font-family='"Liberation Sans", Arial, Helvetica, sans-serif'>BU72</text></g>
<text transform="translate(24.6,415.9) rotate(-90)" text-anchor="middle" font-size="28.5" font-family='"Liberation Sans", Arial, Helvetica, sans-serif'>Normalized count</text>
</g>
</svg>
</body></html>
